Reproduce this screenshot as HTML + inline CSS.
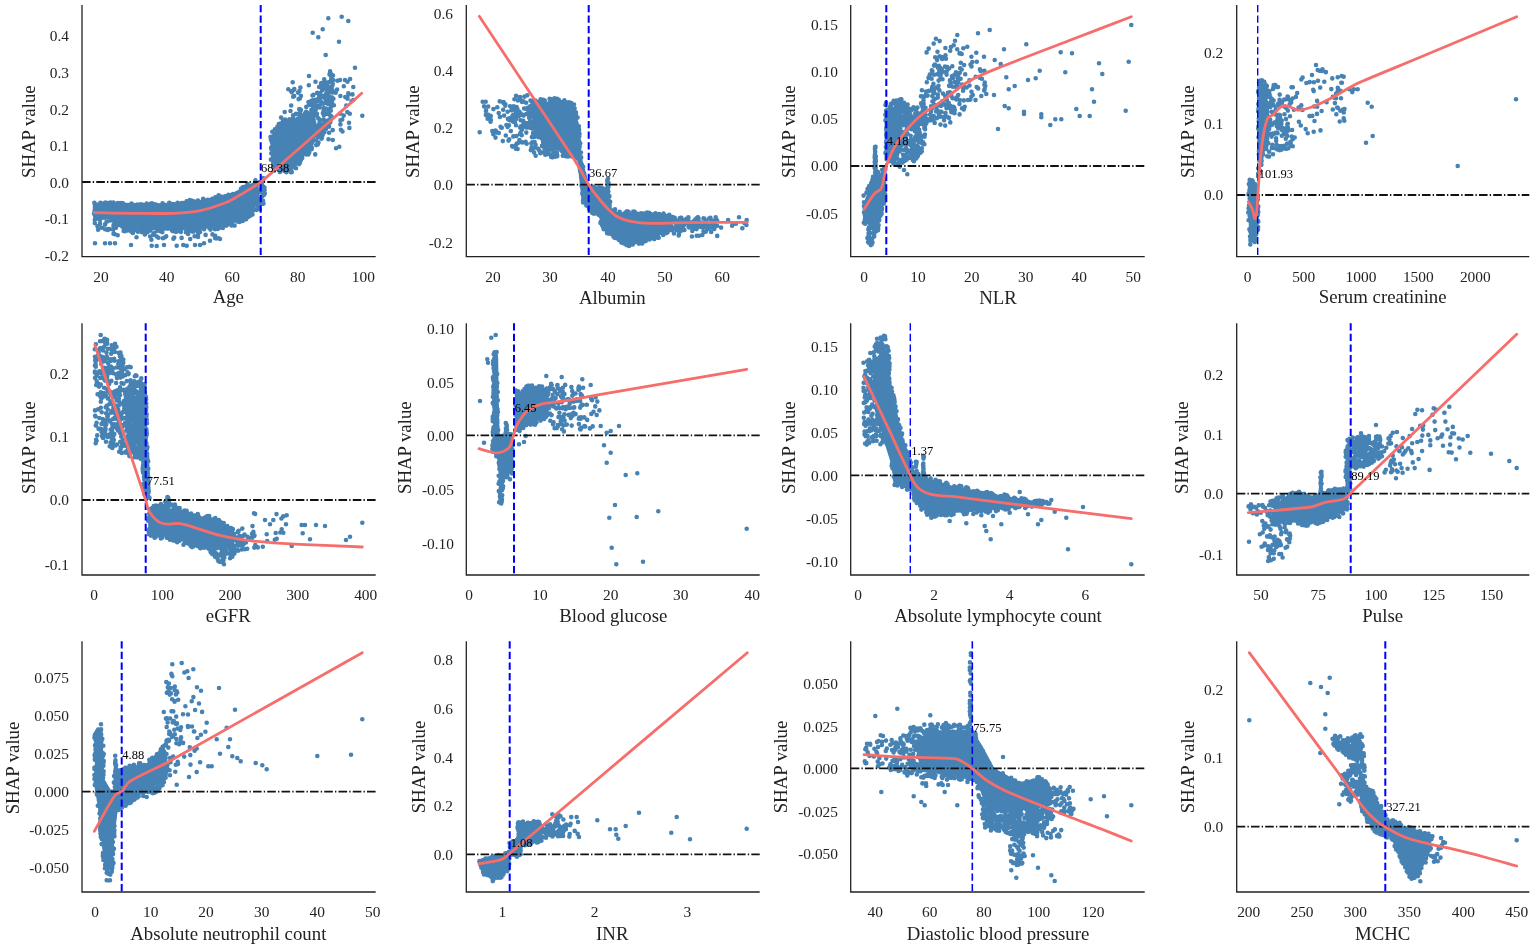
<!DOCTYPE html>
<html lang="en"><head><meta charset="utf-8"><title>SHAP dependence plots</title>
<style>html,body{margin:0;padding:0;background:#fff}svg{display:block}</style></head>
<body>
<svg width="1535" height="948" viewBox="0 0 1535 948" font-family="'Liberation Serif', serif">
<rect width="1535" height="948" fill="#fff"/>
<g>
<path d="M94.3 204 L166.7 204.7 L206.7 200.7 L233.3 194 L256.7 182.3 L258.3 198.3 L248.3 213.3 L233.3 221.7 L200 228.3 L166.7 229.3 L133.3 228.3 L116 225 L114 216.7 L94.3 216Z" fill="#4682B4" stroke="#4682B4" stroke-width="3" stroke-linejoin="round"/>
<path d="M272 136.7 L283.3 124 L301.7 117.3 L310 120 L310 146.7 L292.7 168.3 L280 170.7 L272.7 167.7Z" fill="#4682B4" stroke="#4682B4" stroke-width="3" stroke-linejoin="round"/>
<path d="M227.3 214.2h0M174 206.7h0M261.9 184.5h0M261.2 204.1h0M172.9 216.6h0M165 226.2h0M174.1 222h0M123.7 215.8h0M143.5 220.2h0M200.1 226.6h0M243.2 193.5h0M172.3 204h0M263 178h0M118 213.2h0M245 212.1h0M225.2 203.6h0M128.1 225.3h0M223.5 225h0M254 190.6h0M190.1 209.8h0M121.9 204.1h0M256.9 203.1h0M161.7 227.9h0M218.5 212.1h0M120.7 219.5h0M252.5 209.8h0M122.4 204.2h0M198.8 211.5h0M226.4 206.5h0M168.9 203.6h0M228.5 223.4h0M163.3 219.9h0M246.6 214.5h0M105.2 215.9h0M242.6 221h0M130.2 222.5h0M254.3 209.4h0M187.3 228.1h0M200.3 217.2h0M212.5 219.4h0M127.1 210.5h0M147.2 227.4h0M255.5 204h0M143.4 212.8h0M142.5 219.4h0M235.4 202.1h0M132.3 222.8h0M220.5 221.6h0M240.9 218.9h0M118.3 203.7h0M169 205.3h0M214.7 215.2h0M215 229.3h0M231.9 219.9h0M166.5 223.2h0M108.5 213.8h0M157.7 220.2h0M208.1 199.9h0M213.3 218.1h0M170.4 226.9h0M242.5 218.6h0M216.1 221.5h0M138.9 219.2h0M98.5 218.7h0M133.6 231.1h0M179.6 230.9h0M144.1 230.5h0M244.5 188.8h0M100.9 213.5h0M186.6 201.2h0M180.8 231.9h0M178 229.9h0M240.3 212.1h0M113.5 202.6h0M206.6 214.9h0M177.4 227.5h0M131.4 205.7h0M216.6 214.1h0M115.9 216.8h0M204.1 229.2h0M188.7 201.3h0M190 202.4h0M152.7 217.3h0M249.3 198h0M249.5 211.7h0M155.1 213.3h0M191.4 212.8h0M202.4 211.8h0M263.5 203.6h0M131.7 217.6h0M141.7 232.1h0M225.4 222h0M167.9 208.1h0M198.3 224.5h0M139.5 209.9h0M200 232.1h0M215.5 221.7h0M229.3 197.7h0M220.4 209.1h0M156.7 205.9h0M183.9 222.8h0M240.3 199.9h0M238.2 205.6h0M178.7 204h0M126.9 224.4h0M224.5 222.3h0M229.7 222.4h0M126.1 214.8h0M144.9 230.9h0M263.1 179.9h0M131.9 217.6h0M153.2 227.2h0M150.6 216.6h0M100.4 202.8h0M144.1 217.6h0M171.2 215.3h0M102 206.8h0M217.9 204.3h0M122.3 215.7h0M244 199.4h0M141.9 217.6h0M254 208.7h0M115.9 205.1h0M105.4 202.6h0M206.3 212h0M173 219h0M217 227.8h0M261.7 182.6h0M130.3 224.6h0M166.8 219.1h0M188.5 224.9h0M210.1 227.6h0M192.6 205.5h0M184.2 221.4h0M133.3 229.8h0M246 193.6h0M110.9 202.5h0M162.2 225.7h0M228.6 214.9h0M148 219.9h0M171.4 205.7h0M169.5 220.2h0M132.9 205.4h0M236.1 208.3h0M100 206.4h0M217.1 206.5h0M188.2 220.9h0M170.6 203.8h0M98.8 204.7h0M174.7 222.2h0M112.1 212.2h0M245.5 187.1h0M106.6 203.2h0M192.7 223.1h0M228.2 219.4h0M201.2 223.8h0M241.7 217.4h0M123.9 204.3h0M210.1 201h0M202.1 208.3h0M218.4 215.3h0M141.6 206.4h0M155.9 204.6h0M124.1 208.8h0M218.5 223.9h0M186.6 219.3h0M264.1 189.3h0M187.7 204.6h0M263 200.8h0M242.6 187.4h0M147.9 223h0M258.3 206.9h0M121.6 220.7h0M213.1 204.9h0M185.8 227.3h0M164.3 220.6h0M160.3 231.2h0M181.4 226.5h0M124.6 212.9h0M255.1 199.3h0M169.2 202.9h0M162.3 232.1h0M230.6 223.8h0M264.8 193.5h0M221.8 204.1h0M218.1 217.4h0M113.4 217.4h0M245.6 210.1h0M120.9 210.1h0M181.7 228.6h0M242.2 196.3h0M194.9 229.2h0M240.8 209.6h0M104.9 214.5h0M192.2 224.4h0M197.9 200.6h0M256.3 209.9h0M191.2 204.6h0M253.3 207h0M177.6 220.4h0M205.9 220.4h0M99.7 204.8h0M235.5 199.7h0M100.5 218.5h0M181.5 224.8h0M247.5 184.1h0M252.5 214.4h0M250 214.9h0M138.4 224.7h0M209.1 208.6h0M214.4 227.5h0M243.2 188.8h0M147.9 217.4h0M157.5 209.9h0M245.5 188.3h0M149.5 225.2h0M230 211.3h0M138.8 218.2h0M247.7 214.5h0M245.9 217.2h0M155.7 204.9h0M235.9 197.1h0M120.6 206.1h0M150.4 218.2h0M249.2 194.3h0M131.2 229.1h0M142.1 231.5h0M170.6 214.8h0M255.6 190.1h0M122.7 207.9h0M100.7 203h0M106.5 213.4h0M256.8 191.6h0M192.8 201h0M192.7 218.4h0M227.4 197.1h0M188 212h0M154.9 216.5h0M207.2 200.1h0M195.5 230h0M254.1 209.3h0M158.3 219.4h0M163.9 221.7h0M115.8 218.2h0M115 213.9h0M134.2 213.5h0M142 208.9h0M244.7 186.9h0M205.8 207.4h0M250.3 201.9h0M151.7 207.4h0M241 188.7h0M153.5 218.7h0M182.2 205.5h0M191.1 228h0M259.9 199.1h0M211 216h0M154.3 210.9h0M241.4 199.9h0M242.1 209.9h0M149.8 223.9h0M157.5 230.8h0M219 223.6h0M183.9 219.8h0M190.4 217.6h0M187 224h0M161.5 215.6h0M127.3 230.5h0M223.4 206.8h0M97.4 209.6h0M218.4 220h0M224.5 201.3h0M137.9 231.8h0M105.5 212.1h0M217.7 229h0M139.3 220.7h0M225.1 196.2h0M149.7 227.1h0M146.8 204.8h0M190.2 213.3h0M107.2 217.1h0M133.4 223.5h0M199.8 202.9h0M122.5 209.6h0M239.3 196.5h0M212 200.5h0M180.4 215h0M139.6 219.7h0M220.1 210.4h0M159.8 214.5h0M141.3 216.7h0M252.5 197.6h0M136.6 222.5h0M190.3 224.1h0M181.2 213.8h0M165.4 211.9h0M116 227.8h0M151.9 203.2h0M232.9 214.6h0M124 227.6h0M190.2 220h0M240 209.4h0M219 227.9h0M149.1 213.8h0M197.7 210.6h0M155.8 207.8h0M234 207.5h0M121 208.9h0M249.8 190.1h0M176 231.9h0M257.1 194.9h0M223.7 220.7h0M114.5 205.4h0M179.5 229.3h0M106.9 214.2h0M176.7 220.9h0M187.5 214.4h0M128.2 211h0M193.1 231.7h0M203.1 198.9h0M200.7 208.5h0M130.5 211.4h0M159 228.7h0M173.1 231.3h0M231.8 223.6h0M239.2 211.5h0M167.5 205.2h0M230.7 203.6h0M189.5 202.3h0M169.8 209.1h0M198.6 225.7h0M99.3 217h0M172.8 222.1h0M98.3 213h0M140.8 226.2h0M134.3 228.9h0M131.3 226.5h0M204.3 211.3h0M94.8 210.4h0M117.9 203.1h0M118.8 209.4h0M244.2 214h0M237.3 221.4h0M94.4 202.8h0M132.2 227.4h0M248 217.1h0M181.9 213.5h0M188.1 219.7h0M238.5 205.4h0M248.9 188.8h0M158.6 210h0M235 208.6h0M207.7 212.3h0M238.4 217.6h0M177.6 205.8h0M240 201.1h0M202.4 219.2h0M162.5 203.4h0M148.6 214.7h0M211.4 202.2h0M121.2 203h0M204.3 223.3h0M203.8 210.1h0M131.2 229.6h0M174.3 207.9h0M222 210.8h0M209.9 201h0M147.6 228.1h0M122.4 214.3h0M252.2 211.5h0M173.7 204.2h0M227 225h0M225.9 220.6h0M262.4 196.2h0M159.8 219h0M216.5 220.5h0M239.5 221.9h0M121.3 205.2h0M153.5 222.3h0M154.5 210.5h0M116.1 220.2h0M142 208.9h0M148.2 224.1h0M140.8 210h0M132 224.9h0M219.9 215.3h0M213 202.4h0M185.9 232.2h0M185.9 228.7h0M192.9 212.3h0M231.5 211.3h0M131.6 203.5h0M231.4 210.8h0M135.8 226.7h0M234.6 225.6h0M250.5 215.5h0M129.9 204.9h0M227.5 219.6h0M235.2 198h0M108.5 215.1h0M226.3 223.7h0M210.5 229.6h0M140 216.2h0M102.7 207.1h0M246.1 195.8h0M201.8 218.2h0M228 199.2h0M141.5 210.4h0M178.8 224.7h0M248.8 209.8h0M197.2 230.4h0M110.6 207.9h0M226.4 211.2h0M181.3 214.9h0M199.5 213.4h0M195.3 212.2h0M118.9 219.3h0M186.4 217.3h0M170.8 217.5h0M164.1 227.8h0M117.7 225h0M189.9 205h0M243.5 203.6h0M220.3 225.9h0M132.4 209.2h0M107.9 210.9h0M254.9 193.6h0M220.6 214.3h0M173.1 220.8h0M200.9 205.4h0M248.5 189.9h0M175.8 218.6h0M106.5 212.7h0M130.1 228.7h0M240.8 199.5h0M189.8 231.2h0M252.5 196.5h0M222.8 227.9h0M175.4 214.6h0M260.8 188.4h0M106.9 216.2h0M178.5 220.4h0M190.6 221.1h0M194.6 220.2h0M139.5 216.2h0M197.6 203.3h0M222.4 205.4h0M179.3 226.4h0M233.9 219.3h0M189.2 224.6h0M192.6 229.4h0M178.5 221.8h0M100 205.1h0M216.3 201.7h0M144.7 226.3h0M117.4 212.7h0M247.5 215.2h0M144.3 231.4h0M232.5 207.3h0M227.9 218.3h0M223.8 225h0M217.5 199.6h0M239.2 204.1h0M231.4 208.4h0M142.9 204.9h0M134.5 216h0M130.3 212.4h0M247.6 190.9h0M144.1 208.7h0M251.3 206.2h0M133.5 215.5h0M216.1 202.1h0M116.8 216.9h0M229.4 201.5h0M97.5 215.4h0M150.2 224.8h0M162.1 218.3h0M96.8 214.5h0M147.4 232.2h0M119.3 215.6h0M197.6 231.7h0M245.2 198.7h0M146.1 222.5h0M161.5 219.6h0M114.1 214h0M129.6 224.4h0M229.8 220.4h0M172.6 226.9h0M140.1 217.6h0M179.1 228.9h0M238.2 192.7h0M190 226.8h0M171.3 206.7h0M123.7 230.9h0M249.3 198.8h0M216.3 199.5h0M264.6 190h0M226.3 225.6h0M252.9 191.4h0M231.5 225.4h0M244.5 212.3h0M159.2 219.3h0M141.6 205.2h0M210.9 214.2h0M242.6 218.9h0M129.8 230.5h0M213.3 202.3h0M135.7 225.8h0M232.7 209.9h0M248.9 203.7h0M178 228.8h0M256.1 197.9h0M198.1 219.7h0M199 220.7h0M137.6 219.4h0M158.5 218.7h0M255.1 193.7h0M257.4 184.2h0M250.2 191.1h0M137.4 219.4h0M247.7 198h0M226.8 196.7h0M129.2 228.6h0M140 228.1h0M143.5 212.6h0M94 213.5h0M150.7 203.7h0M144.3 219.4h0M251.9 187.3h0M250.9 205.1h0M216.1 219.9h0M209.3 222.6h0M224.9 205.4h0M128.4 214.8h0M228.7 219.4h0M249.3 216.2h0M250.1 200.3h0M154 216h0M262.7 192.6h0M129.7 206.5h0M118.4 205.3h0M249.7 214.2h0M189.2 228.9h0M214.5 216h0M189.5 222.5h0M251.3 206.9h0M263.1 193.8h0M109 216.9h0M187.2 202.1h0M173.4 226.1h0M119.1 203.2h0M140.3 204.7h0M251.7 197h0M183.4 220.3h0M175.5 212.1h0M141.6 230.6h0M234.9 202.5h0M118.6 218.3h0M247.9 214.1h0M119.3 216.3h0M225.5 221h0M153.6 225.6h0M173.6 206.4h0M223 219.4h0M137.3 208.8h0M217.2 209.3h0M137.9 224h0M101.7 212.6h0M181.8 222.6h0M154.3 204.3h0M114.9 215.2h0M237.7 221.2h0M140.7 230.7h0M119.8 208h0M99.5 215.7h0M188.5 212.1h0M124.8 231.2h0M197.6 222.7h0M238.8 220.3h0M188.9 207.8h0M214.8 219.1h0M179.7 204.3h0M216.7 221.2h0M205.6 215.2h0M206.2 226.3h0M104.2 217.8h0M98.7 205.8h0M163.6 218.4h0M260 192.1h0M115.1 211.2h0M145.4 220.7h0M221.4 218.3h0M122 209.2h0M129.5 214.2h0M172.1 230.7h0M207.6 210.4h0M164 204.6h0M209.2 202.9h0M259.3 208.2h0M132.5 213.3h0M215.4 197.3h0M129 224.9h0M125.4 222.8h0M126.9 229.7h0M220.6 201.4h0M259.7 182.3h0M260.9 200.4h0M163.4 225.9h0M151.6 204.6h0M130 218.4h0M189.9 200.1h0M251.8 193.2h0M230.3 210.7h0M200.4 209.2h0M137.6 204.5h0M259.8 209.2h0M145.9 216.4h0M138.9 213h0M140.9 204.3h0M187.2 212.8h0M264.5 187.6h0M186.7 228.9h0M246.1 219.3h0M97.1 209.5h0M229.6 202.1h0M221.8 221.1h0M181.2 221.8h0M128.4 207.1h0M217.9 197h0M150.4 228h0M246.5 217.4h0M202.5 220.5h0M210 220.3h0M118.9 203.5h0M134.7 224.7h0M128.8 214.6h0M208 214.1h0M186.7 205.3h0M214.7 217.6h0M181.4 226.9h0M261.9 185.4h0M111.6 216.3h0M122.4 226.8h0M191.9 202.7h0M230.4 195.9h0M220.9 196.5h0M197.5 211.4h0M219.8 197h0M125.1 218.9h0M167.4 213.2h0M164.9 224.8h0M168.2 205.2h0M156.6 223.2h0M182 210.3h0M148.9 229.7h0M249.9 197.8h0M231.2 208.5h0M133.2 231.4h0M177.6 202.8h0M198.3 229.3h0M245.6 206.3h0M258.2 204.7h0M98.7 211.5h0M261.6 200.5h0M184.8 207.2h0M241.6 212h0M123.7 206.3h0M258.4 203h0M133.2 223.1h0M254.8 204.6h0M258.6 199.8h0M248.5 185.5h0M168.6 216.8h0M234.1 201.2h0M240.8 200.7h0M235.4 202.7h0M228.1 214h0M228.9 223.1h0M208.4 204.2h0M115.8 205.3h0M243.5 220.1h0M100.3 204.1h0M255.9 194.6h0M211.4 203.5h0M250.7 212.6h0M235.4 209.1h0M177.4 231.1h0M237.2 212.5h0M145.7 218h0M115 209.5h0M109.4 202.9h0M123.8 206.7h0M222.1 198.3h0M179.6 206.5h0M153.4 227.4h0M127.5 228.5h0M179.7 205.7h0M103.5 208.8h0M103.2 205.8h0M219.7 207.7h0M136.6 216.4h0M130.8 213.1h0M210.6 210.9h0M183.3 203h0M100 218h0M210.2 217.6h0M206.2 218.6h0M176.9 222.3h0M146.7 203.6h0M245.1 189.1h0M199.1 227.9h0M221.6 225.6h0M246.2 199.5h0M219.9 213.3h0M116.8 219.6h0M264.2 194.7h0M254.1 195.9h0M156.6 209.1h0M209.9 207.7h0M226.8 214h0M171.2 222.1h0M127.8 216.5h0M239.3 202.9h0M103 203.7h0M121.4 217.4h0M203.7 220.9h0M218.2 196.4h0M161.6 231.8h0M160.4 229.8h0M115.2 217h0M166.1 220.1h0M207.2 206.5h0M247.3 197.5h0M182.3 207.3h0M120.6 216.6h0M168.2 217.2h0M255.9 200.3h0M223.7 219.7h0M129.9 208.1h0M105.9 208.3h0M137.2 211h0M250.7 186h0M153.2 224.6h0M218.6 195.2h0M233 194.1h0M148.7 207.1h0M259.2 204.2h0M209.5 228.3h0M214.6 198.2h0M131.5 208.5h0M241.9 220.2h0M243.8 202.8h0M117.8 212.8h0M255.4 180.3h0M109.7 205.8h0M181.8 203.1h0M178.7 222.8h0M222.8 199.3h0M255.9 188.8h0M125.7 205.5h0M200.1 216.4h0M169.9 219.8h0M168.8 218.7h0M229.9 223.3h0M119.6 203.3h0M225.2 209.2h0M263.1 186.6h0M199 214.5h0M190.7 200.4h0M122.9 203.4h0M172.8 222.6h0M144.3 220.1h0M155.8 219.7h0M222 200.7h0M245.3 214.8h0M203.9 228.9h0M124.5 211.6h0M131.4 231.7h0M229.2 195.1h0M198.6 226.5h0M255.3 192.4h0M100.1 211.3h0M150.4 230.6h0M197.1 205.6h0M201.8 207.9h0M135.9 222.8h0M262 189.4h0M215.2 199.2h0M210 226.5h0M199.6 229.1h0M255.5 187h0M233.7 204.2h0M194.9 201.9h0M192.1 223.6h0M228.5 194.7h0M218.4 217.8h0M130.4 219.1h0M212.2 198.9h0M130 212.4h0M182.3 217.9h0M105 224.7h0M97.5 226.2h0M110.7 220.4h0M107.1 221.5h0M94.8 223.1h0M99.9 219.9h0M109.6 229.1h0M107.7 229.9h0M113.4 225.8h0M98.1 229.7h0M105.1 229.2h0M113.9 224.3h0M100 223.6h0M94.8 219.8h0M106.6 221.8h0M114.3 220.5h0M105.1 224.4h0M108.1 229h0M113.2 229.7h0M115 225.9h0M101.7 227.7h0M95.3 218.6h0M132.9 232.9h0M188.1 234h0M158.5 237.7h0M144.9 234.5h0M117.7 235.2h0M153 235h0M150.1 236.5h0M136.5 237.3h0M114.6 234.1h0M181.6 237.9h0M197.9 235h0M215.2 235.7h0M215.1 238.1h0M198 237h0M212.5 234.4h0M156.9 236.6h0M216.2 238.5h0M154.4 233.1h0M190.2 239.1h0M166.2 236.2h0M173.4 238.8h0M153.7 233.8h0M163 238.2h0M165.1 237.3h0M174.2 237.6h0M113.5 233.7h0M151.4 239.8h0M194.6 236.2h0M205.6 234.9h0M218.8 238.2h0M283.6 162.7h0M286.9 167.3h0M310.7 145.8h0M305.6 147.5h0M272.3 158.9h0M300.6 155.3h0M297.6 126h0M306.4 142.2h0M304.4 127.3h0M290.3 160.9h0M273.3 158.7h0M271.3 153.3h0M305 140.7h0M288.4 153.1h0M311.7 149.1h0M286.5 166.1h0M295.9 148.9h0M297.4 126h0M311.8 147.7h0M301.2 115.2h0M272.3 131.8h0M297.6 133.4h0M275.1 164.8h0M283.3 128.1h0M301.6 128.5h0M290.9 172.3h0M278.3 162.1h0M283.9 152.9h0M281.8 127.3h0M311.1 128.9h0M301.5 126.4h0M300.8 159h0M289 131.7h0M299 164.1h0M284.5 161.2h0M279.9 171.9h0M293.2 117.7h0M273 151.2h0M272.9 150.4h0M293.7 135.3h0M276.7 134.6h0M274.3 154.7h0M298.4 125.7h0M280 164.6h0M276.2 156.3h0M282.9 162.9h0M272.3 147h0M296 168.2h0M297.7 138.3h0M309.2 120.8h0M310.4 145.5h0M300.6 160.4h0M273.2 159.4h0M301 159.7h0M293.4 121h0M282.8 134.4h0M298 144.5h0M283 159.9h0M292.2 148.4h0M287.9 150h0M286.3 151.9h0M302.9 146.7h0M293.8 163.9h0M294.8 161.4h0M285.3 150.3h0M299.3 145.7h0M279.9 132.9h0M286.6 145.6h0M302.2 148.3h0M289.6 155.6h0M276.3 148.2h0M300.7 152.6h0M296.5 161.7h0M301.2 138.5h0M291.7 139.8h0M273.7 152.3h0M273.8 140.4h0M302.7 124.1h0M284.9 135.6h0M300.1 157.6h0M294.9 142h0M278.1 145.2h0M278.5 130.9h0M300.3 149.5h0M305.3 132h0M297.3 126.7h0M275.4 166.3h0M274.9 129.2h0M291 157.7h0M305.1 141.5h0M282.1 131.4h0M289.2 130.3h0M277.4 167h0M289.3 156.9h0M287.2 155.4h0M281.9 160h0M298 147.1h0M290.1 130.6h0M279.4 158.9h0M294.3 166.5h0M282.6 148.7h0M306.1 128.1h0M273.5 143.1h0M292.6 130.1h0M296.7 121.2h0M292.1 137.9h0M294.5 121.2h0M271.6 153.6h0M278 156h0M281.8 162.5h0M287.8 127.9h0M285.8 144h0M293.1 161.9h0M271.8 141.9h0M277.4 165.1h0M310.5 143.4h0M306.9 146.6h0M270.9 139.5h0M307.4 152h0M289.1 152.5h0M272.4 145.9h0M273.9 144.9h0M301.9 120.3h0M286.7 150.5h0M299.6 142.7h0M289.8 142.7h0M310.1 134.5h0M274.2 167.9h0M280.6 123.6h0M311.3 135.6h0M300.6 120.4h0M283.9 165.6h0M298 122.3h0M287.9 170.2h0M288.9 124.6h0M291.4 147.4h0M311.5 138.7h0M271 136.9h0M281.8 137.4h0M276.2 139.8h0M279.9 139.4h0M292.9 140.4h0M282.6 136.9h0M284.4 142.4h0M303.1 117.8h0M278.3 155.2h0M308 121.4h0M297.4 151.6h0M281.3 157.7h0M285.5 171.1h0M285.6 128.6h0M298.4 133.7h0M295.1 138.6h0M271.1 147.9h0M305.4 136.4h0M293.7 122.4h0M308.4 150.4h0M298.3 131.8h0M281.5 139.1h0M270.9 159.6h0M311.3 124.8h0M274.1 159.9h0M299.3 162.1h0M274.9 137.7h0M306 137.4h0M292.7 141.6h0M308.7 117.9h0M280.3 139.3h0M280.8 141.9h0M302.9 138h0M306.3 132.6h0M289.7 152.7h0M298.3 125.8h0M290.7 164.3h0M299.4 142.8h0M304.5 121.1h0M273.8 149h0M274.1 170.8h0M308.3 152.6h0M287.3 154h0M292 156.2h0M299.8 142.2h0M287 165.7h0M275 163.3h0M297.9 157.5h0M280.7 165.7h0M298.1 137.3h0M297.5 143.2h0M286.4 137.5h0M291.2 165.2h0M308.3 154.4h0M290.2 133.1h0M303.5 120.8h0M274.3 150.4h0M271.4 149h0M275.1 142h0M309.2 152.5h0M291.8 172.1h0M275.6 167h0M292.7 162.3h0M301.1 120.2h0M277.7 147.5h0M279 148.2h0M304.2 115.4h0M286.3 172.2h0M281.4 142.9h0M301.7 135.1h0M295 135h0M296.8 159.1h0M277.8 131.6h0M280 134.9h0M278.9 146.8h0M292 145.4h0M302.2 158.1h0M298.1 118.5h0M294.8 123.5h0M302.8 144.9h0M295.9 131.5h0M285.8 164.3h0M277.4 126.9h0M296.3 137.6h0M293.8 160.6h0M286.9 144.5h0M283.1 152.8h0M309.9 126h0M273.8 158h0M295.5 137.7h0M293.5 147.9h0M282.5 138.3h0M310.8 148.3h0M284.2 124.8h0M299.8 163h0M297.8 150.8h0M300.1 151.9h0M310.9 126.2h0M288.6 161.2h0M289.6 168.7h0M287.6 159.3h0M275.2 152.9h0M294.3 156.2h0M289.2 131.5h0M275.2 144.7h0M288.7 169.8h0M285.2 119.6h0M299.6 117.2h0M280.7 165.2h0M290.9 145h0M270.5 137h0M284.5 171h0M300.7 159.9h0M287.8 130.7h0M306.5 119.5h0M311.1 137.9h0M289.6 132.2h0M289.5 119.2h0M307 127.1h0M280.6 156.2h0M294.1 142h0M305.5 151h0M279.6 152.3h0M280.9 154.3h0M289.6 133.4h0M297.1 159.5h0M301.9 126.5h0M295.3 126.3h0M304.4 148.7h0M294.1 151.2h0M282.9 160.6h0M281.6 132.8h0M280.5 138.3h0M281.5 152.2h0M293.3 131h0M299.2 158.1h0M301.2 152.9h0M278.8 124h0M304.1 147.1h0M290.5 125.4h0M287.2 147.9h0M282.8 132.8h0M274.4 168.6h0M288.3 146.8h0M287.4 121.4h0M279.8 159.7h0M307.7 150.1h0M287 151.3h0M296.7 149.2h0M289.7 122.5h0M305.7 147.6h0M305.9 122.6h0M286.5 146h0M292.2 162.8h0M283 121h0M293.1 161.4h0M303 147.6h0M288.7 147.1h0M297.2 135.5h0M284.2 158.4h0M288 156.6h0M306.3 154.4h0M276 138.6h0M312.8 136.7h0M313.4 109.1h0M321.8 137h0M324.4 84.4h0M322.8 88.5h0M312.5 95.5h0M320.7 85.8h0M325.9 128.9h0M321 83.3h0M321.3 103.5h0M309 117.4h0M324.1 120.7h0M323.8 115.2h0M311.9 125.6h0M305 113.2h0M308.8 103.2h0M331.3 76.2h0M322.1 90.5h0M321.8 83h0M313.8 121.6h0M333.6 105.3h0M311.2 123.4h0M321.6 95.9h0M314 130.9h0M331 80.9h0M309.8 105h0M326.1 102.7h0M321.4 124.6h0M313.6 119.7h0M326.3 83.8h0M316.7 115.8h0M326.7 90.7h0M325.2 86.8h0M320.1 132h0M315.8 101.9h0M311.3 110h0M313.6 121.5h0M306.3 106.9h0M328.8 88.7h0M333 75.6h0M332.8 84h0M323.4 103.6h0M330.1 71.2h0M325.6 99.8h0M319.7 125.9h0M318.1 99h0M313.4 94.9h0M324.2 79.2h0M329.5 74.6h0M318.1 137h0M319.7 120.7h0M318.3 128.6h0M327.8 94h0M314.8 134.9h0M329.9 92.4h0M310.9 101.7h0M317.8 106.6h0M310.6 126.8h0M324.5 97h0M324.5 97.9h0M320.8 124.4h0M311.8 128.8h0M326.2 87.4h0M319.5 133.3h0M332 75h0M327.9 120.6h0M319.3 123.7h0M310.7 102.1h0M328.2 88.6h0M314.3 123.5h0M310.2 115.8h0M330.3 122.2h0M321.4 138.6h0M324 108.1h0M325.2 97.7h0M333.1 80.1h0M314.7 101.9h0M306.1 111.9h0M333.9 105.3h0M317.8 144.4h0M320.8 97.3h0M311.1 113.5h0M324.9 83.2h0M328.8 91.9h0M329 82h0M310.6 146.9h0M324.7 84.8h0M318 99.8h0M312.4 109.8h0M330.6 73.3h0M314.9 126.9h0M328.7 87h0M315.7 130.7h0M315 109.7h0M332.6 90.6h0M326.6 86.7h0M325.7 114h0M318.6 129.6h0M316.9 113.7h0M319.6 98.9h0M308.1 116.6h0M316.6 105.5h0M332.5 92.5h0M315.2 105.9h0M325.7 113.2h0M313.4 115.5h0M321.6 87.2h0M324.2 127.7h0M313.4 114.3h0M308.4 102h0M328.7 123.4h0M315.2 99.9h0M318.5 142.6h0M318 129.1h0M314.7 112.1h0M315.5 126.1h0M329.9 72.9h0M310.4 142.1h0M317.8 100.6h0M328.6 99.4h0M324.1 95.9h0M324.4 124h0M330.8 110.8h0M307.4 112.8h0M329 92.4h0M311.1 135.1h0M322.6 134.9h0M325.6 98.9h0M330.8 100.2h0M318.3 118.4h0M316.2 145.1h0M326.2 93.8h0M327.1 95.1h0M323.6 110.9h0M331.4 81.4h0M320.4 86.9h0M324 129.5h0M333.4 98.8h0M312.6 100.5h0M319.4 93.4h0M329.1 114.6h0M331.7 104.9h0M310.7 143.4h0M315.9 129.7h0M323.7 131.7h0M328.5 91.2h0M324.5 97.4h0M309.9 120h0M319.8 107.5h0M322.2 125.2h0M315.8 109.8h0M312.3 119.8h0M319 97.7h0M332 102.3h0M328.1 91.3h0M321.7 138.6h0M332.2 81.1h0M312.9 139.2h0M328 103.9h0M330.2 120.7h0M316.8 126.3h0M324.4 132.2h0M319.5 123.3h0M311.7 143.6h0M326.6 108.7h0M313 107.6h0M329.1 126.6h0M329.5 87.7h0M320.7 129.9h0M311.9 135.3h0M324.5 80.8h0M322.2 130h0M325.8 125.3h0M322.9 113.2h0M316.6 126.2h0M328.6 110.1h0M320.1 93.7h0M315.4 130h0M328.1 89.9h0M324.9 87.2h0M328.2 94h0M330.8 97.2h0M314.9 106.4h0M331.6 88.2h0M323.7 119.6h0M319.2 95.8h0M330.5 118.5h0M326.7 82.9h0M327.6 88.8h0M311.4 100.8h0M321.7 135.2h0M309.9 122.2h0M313.9 140.6h0M322.4 83.9h0M332.2 97.6h0M321.9 138h0M320.9 101.7h0M330.7 87h0M306.5 117.3h0M325 114h0M311.9 104.7h0M311.5 113h0M320.5 104h0M327.6 96.5h0M331.3 78.3h0M332.2 86h0M319.1 87h0M329.4 112.2h0M327.8 86.3h0M316.4 140.4h0M306.6 116.5h0M324.6 120.9h0M314.9 135.6h0M322.8 126h0M312.5 124.3h0M313.4 114.8h0M325.8 98h0M312.5 132.8h0M318.5 135.4h0M312.8 135.7h0M328 95.6h0M313 117.1h0M312.8 100.2h0M330.4 115.8h0M326.4 122.5h0M312.8 132.7h0M316.6 101.2h0M330.9 107.1h0M317.2 92.9h0M319.5 119.5h0M298 92.6h0M308.8 85.3h0M294.3 89h0M299.4 90.9h0M298.9 113.7h0M291.2 91.3h0M315.5 81.7h0M284.7 112h0M291.2 105.5h0M300.9 110.1h0M299.8 98.6h0M299.9 112.8h0M293.7 90.1h0M299.6 109h0M290.5 111h0M293.2 96.7h0M281.1 117.6h0M300.9 95.9h0M299.2 109.3h0M298.6 99.1h0M291.7 92.3h0M293.1 115.2h0M300.4 87.6h0M294.2 96.1h0M296 113.9h0M346.3 105.6h0M351.5 101.3h0M340.5 120.3h0M329.1 132.8h0M335.7 92.8h0M331.4 116.2h0M315.2 154.4h0M350.1 79h0M348.5 94.6h0M353.3 87h0M347.3 112.1h0M337.1 89.5h0M349.8 113.7h0M347.5 81.8h0M347.5 98.6h0M340.9 129.8h0M342.5 131.5h0M328.5 139.2h0M343.7 115.6h0M342.2 119.5h0M352.5 94.4h0M340.4 124.4h0M343.8 86.2h0M340.4 96h0M345.3 97.1h0M337.4 80.8h0M332.7 130.1h0M332.8 140h0M340.2 113.6h0M349.4 127.9h0M95 243.3h0M105 243.3h0M110 243.3h0M115 243.3h0M131 245h0M151.7 245.7h0M156.7 246h0M164 245h0M176.7 245.7h0M183.3 245h0M186.7 245.7h0M195 245h0M200 245h0M204 243.3h0M210 240.7h0M220 239h0M328.3 18.3h0M341.7 16.7h0M348.3 21h0M312.7 32.7h0M318.3 37.3h0M322.7 29.3h0M339 41.7h0M325.7 55h0M355 67.7h0M362.3 115.7h0M309 76h0M292.7 82.3h0M288.3 89.3h0M340 80h0M345 80h0M348.3 93.3h0M353.3 100h0M349 122.7h0M336 148.3h0M339.3 146.7h0" fill="none" stroke="#4682B4" stroke-width="4.6" stroke-linecap="round"/>
<path d="M82 182H375.7" stroke="#111" stroke-width="1.8" stroke-dasharray="8.6 2.15 1.35 2.15" fill="none"/>
<path d="M260.7 5V256.7" stroke="#0000ff" stroke-width="2.0" stroke-dasharray="7.25 3.3" fill="none"/>
<path d="M94.3 212.7C106.3 212.9 121.3 213.2 133.3 213.3C145.3 213.4 161.3 213.8 173.3 213.3C182.2 213 191.3 212.5 200 210.7C209 208.8 218.1 205.7 226.7 202.3C231.3 200.5 235.7 197.6 240 195C246.9 190.9 254.2 186.9 260.7 182C268.6 176 275.9 168.9 283.3 162.3C292.4 154.4 307.7 140.9 316.7 133C325.7 125.1 352.7 101.3 361.7 93.3" stroke="#F66E6C" stroke-width="2.8" fill="none" stroke-linecap="round" stroke-linejoin="round"/>
<path d="M82 5V256.7H375.7" stroke="#222" stroke-width="1.3" fill="none"/>
<text x="261" y="171.8" font-size="12.5" fill="#000">68.38</text>
<text x="69" y="41.2" font-size="15.4" text-anchor="end" fill="#222">0.4</text>
<text x="69" y="77.8" font-size="15.4" text-anchor="end" fill="#222">0.3</text>
<text x="69" y="114.5" font-size="15.4" text-anchor="end" fill="#222">0.2</text>
<text x="69" y="151.2" font-size="15.4" text-anchor="end" fill="#222">0.1</text>
<text x="69" y="187.5" font-size="15.4" text-anchor="end" fill="#222">0.0</text>
<text x="69" y="224.2" font-size="15.4" text-anchor="end" fill="#222">-0.1</text>
<text x="69" y="260.8" font-size="15.4" text-anchor="end" fill="#222">-0.2</text>
<text x="101" y="281.8" font-size="15.4" text-anchor="middle" fill="#222">20</text>
<text x="166.7" y="281.8" font-size="15.4" text-anchor="middle" fill="#222">40</text>
<text x="232.3" y="281.8" font-size="15.4" text-anchor="middle" fill="#222">60</text>
<text x="297.7" y="281.8" font-size="15.4" text-anchor="middle" fill="#222">80</text>
<text x="363.3" y="281.8" font-size="15.4" text-anchor="middle" fill="#222">100</text>
<text x="228.3" y="303.4" font-size="18.8" text-anchor="middle" fill="#222">Age</text>
<text transform="translate(34.5 131.7) rotate(-90)" font-size="18.8" text-anchor="middle" fill="#222">SHAP value</text>
</g>
<g>
<path d="M534 105 L557.3 101.7 L570.7 106.7 L577.3 123.3 L580 156.7 L588 186.7 L587.3 206.7 L583 200 L578.7 160 L570.7 150.7 L552.3 148.3 L540.7 138.3 L534 126.7Z" fill="#4682B4" stroke="#4682B4" stroke-width="3" stroke-linejoin="round"/>
<path d="M588 188.3 L606.7 188.3 L610.7 210 L617.3 213.3 L670.7 217.3 L670.7 228.3 L650.7 238.3 L624 240.7 L608 230 L599 215 L588 206.7Z" fill="#4682B4" stroke="#4682B4" stroke-width="3" stroke-linejoin="round"/>
<path d="M576.4 142.7h0M565.7 103.3h0M584.6 176.8h0M540.3 153.2h0M583 200.2h0M567.4 142.7h0M552.7 131.6h0M539 101.6h0M581.7 164.9h0M575.2 119.9h0M585.1 190.9h0M542.2 101.9h0M551.3 117.8h0M531.5 107.5h0M560.3 137.4h0M536.8 111.1h0M542.5 110.5h0M565.9 156.2h0M548.9 140.9h0M576.3 125.7h0M582.3 193.8h0M532.8 110.3h0M557.2 156.3h0M563.7 111.2h0M576.2 153.1h0M532.8 124.3h0M555.7 113.2h0M532.8 128.7h0M566.2 147.3h0M558.2 126.1h0M555.3 111.6h0M570.6 121.3h0M575.6 151.1h0M539.1 115.1h0M561.7 128.6h0M561.8 131.2h0M565.3 138.8h0M556 141.9h0M564.9 121.9h0M573.5 136.7h0M536.5 103h0M554.4 120.1h0M554.5 120.4h0M574.1 110.9h0M568.9 142.4h0M555.8 104.6h0M531.8 109.2h0M566.3 105.3h0M531 112.6h0M573.7 116.4h0M583 172.4h0M561 130h0M563 142.3h0M545 120h0M530.8 150.1h0M573.5 133h0M558.8 99.9h0M564.4 100.4h0M566.4 133h0M580.3 143.3h0M585.6 195.9h0M555.8 109.4h0M560.9 127.9h0M569 136.7h0M568.7 117.2h0M587.6 201.6h0M561.5 108.5h0M571.3 106h0M569 146.7h0M556.2 123h0M553.8 102.6h0M564.8 144.9h0M558.8 122.9h0M555.9 135.2h0M544.5 101.9h0M574.2 119h0M570.7 122h0M544.9 146.2h0M557.6 135.7h0M586 197.8h0M532.6 105.7h0M546.8 116h0M533.8 126.3h0M532.2 116.7h0M538.2 148.7h0M560.8 118.8h0M554 108.4h0M538.3 132.9h0M570.5 120.8h0M529.8 113.1h0M559.8 143.8h0M559.6 109.5h0M577.5 141.9h0M559.5 109.4h0M581.4 172.8h0M558 135.3h0M580.1 170.7h0M534.3 118.2h0M579.9 159h0M542.1 132.6h0M555.5 156.6h0M566.2 118.1h0M578.2 129.1h0M560.2 123h0M533.1 121.6h0M547.3 153h0M546 105.8h0M580.3 169.9h0M565.1 126.5h0M588.7 200.7h0M540.4 133.1h0M571.9 117.9h0M587.9 198.3h0M569.4 143.6h0M544.6 149.1h0M562.5 123.9h0M529.1 117.8h0M543.4 110.2h0M578.1 155.4h0M555.9 147.4h0M548.3 151.6h0M574.4 119.6h0M560.1 129.1h0M530.7 128h0M586.5 187.2h0M542.1 130.9h0M558.9 116.4h0M555.3 141.7h0M572.4 110.7h0M578.4 146.1h0M557 139.1h0M542.3 133.9h0M560 104.1h0M582.1 184.2h0M575.4 122h0M553.2 137.7h0M548.7 150h0M546.7 111.6h0M579.5 133.9h0M553 150.4h0M532.6 149.8h0M571.9 148.2h0M533.8 104.4h0M536.1 132.6h0M564.1 138.7h0M561 150h0M542.2 128.7h0M559.8 114.1h0M560.2 143.8h0M541.5 105.3h0M586.4 205.5h0M583.9 201.6h0M555.2 104.1h0M566 110.2h0M554.6 112.8h0M540.6 111.6h0M561 134.4h0M562.6 131h0M542.9 120.6h0M566.2 148.3h0M539 125.5h0M536.4 131.8h0M586.3 195.2h0M540.4 120.7h0M542 145.9h0M587.8 192.7h0M577.6 117.6h0M569.6 124.6h0M563.9 122.7h0M567.2 128h0M530.1 106.2h0M537.8 127.3h0M576.9 154.6h0M581.3 176.4h0M557.1 138.8h0M582.4 174.1h0M581.4 169.2h0M551.4 114.2h0M565.9 119.8h0M586.5 199.4h0M569 102.3h0M570.4 110.7h0M551 138.2h0M578.6 131.6h0M559.4 111.9h0M554.6 125.6h0M573.2 116.4h0M555.9 131.9h0M556.3 112.6h0M535.2 127.2h0M534.1 152.6h0M543.1 99.8h0M533.2 115.2h0M562.7 105.6h0M565.6 130.9h0M550 136.8h0M582.2 174.4h0M579.7 167.7h0M531.9 111.7h0M583.4 178h0M567.5 132.3h0M568.3 106.4h0M563.9 139h0M549.6 144.6h0M555.8 99h0M539.6 103.6h0M580.1 168.2h0M533.4 115.8h0M565.8 140.7h0M539.2 114.1h0M548.4 150.1h0M532.3 112.6h0M578.9 140.6h0M552.4 131.5h0M539.2 131.8h0M539.7 115.5h0M533.1 133h0M565.4 114.8h0M558.6 133.3h0M557.7 108.7h0M534.9 114.3h0M529.2 123.7h0M545.1 137.3h0M546.3 121h0M557 116.1h0M565.3 106.1h0M551.2 125.1h0M549.4 105h0M537.9 110.9h0M552.9 112.7h0M565.7 141.3h0M534.8 147.6h0M578.1 149.9h0M542.8 115.3h0M552 156.3h0M564.4 143.9h0M532.8 108.4h0M530.5 100.5h0M564 117.8h0M552 148.3h0M567.1 145h0M550.2 101.4h0M557.9 99.6h0M578.9 126.6h0M536.9 133h0M565.5 135h0M570.7 144.7h0M571.2 103h0M562.9 119.6h0M566.6 129.2h0M533.8 117h0M576.5 146.7h0M533.1 124.4h0M565.6 129h0M579.3 146.9h0M581.1 177.1h0M583 182.3h0M560.9 136.5h0M560 143.8h0M557.3 110.7h0M540.8 117.2h0M536.5 107h0M565.8 114.3h0M575.5 158.6h0M529.2 116h0M545.3 154.8h0M575.2 154.6h0M567 134.2h0M533.6 116.8h0M567.2 148.6h0M532.7 103.3h0M567 143.8h0M572.9 130.9h0M541.6 131.8h0M575 132.2h0M554.3 103.5h0M535.3 136.6h0M545.5 131.8h0M566.9 143.6h0M551.7 108.1h0M562.2 119.8h0M575.8 157.8h0M576 114.2h0M562.1 151.3h0M572.5 139.1h0M533.3 137.1h0M568.1 120.3h0M544.9 146h0M555.4 101.8h0M563.8 112h0M538.5 115.2h0M570.6 113.1h0M539.9 127.1h0M586.6 192h0M572.8 141.3h0M549.5 154.1h0M535.6 110.7h0M547 116.1h0M553.1 124.5h0M550.5 130.4h0M581.6 185.8h0M553.3 154h0M580 169.3h0M542.2 126.9h0M562.9 155.2h0M553.4 130.8h0M546 138.2h0M531.1 100.8h0M570.3 150.2h0M557.2 125.8h0M552.2 157.3h0M571.5 104.5h0M547.9 151.2h0M567.5 135.4h0M539.7 128.2h0M543.4 134.2h0M588.6 185.7h0M576.7 136.8h0M533.1 102h0M553.3 113.4h0M554.6 117.1h0M572.5 107.7h0M544.7 140h0M532.4 102.8h0M546.6 135.6h0M568.1 156.4h0M566.2 136h0M572.9 112.9h0M572.7 130.3h0M570.2 120.5h0M571.5 109.8h0M545.2 119.3h0M536.9 112.4h0M549.8 135.4h0M555.3 108.3h0M538.9 109.3h0M543.6 152.5h0M539.4 150.5h0M579.7 146.5h0M547.4 141.8h0M551.6 107.6h0M545.8 153.5h0M544.8 100.6h0M551.2 137h0M547.1 118.9h0M577.1 152.6h0M568.4 138.5h0M563.7 134.6h0M535.6 144.9h0M553 157.1h0M543.3 142.7h0M573.9 145.1h0M581 152.6h0M567.8 153h0M574.8 130.7h0M557.1 98.7h0M559.8 137.4h0M553.4 118.2h0M576.8 153h0M556.8 152.2h0M575 144.3h0M553.2 112.5h0M542 115.4h0M545.1 128.7h0M568.5 134.7h0M566.7 152.6h0M582.9 175.6h0M539.2 133h0M566.3 102.4h0M578.3 157.4h0M574 104.6h0M547.7 154.1h0M582.3 166.5h0M570.9 138.2h0M553.7 101.2h0M586.4 203.2h0M530.1 121.1h0M568.6 140.9h0M561.7 104.7h0M568.1 136.8h0M569.4 125.1h0M587.2 194h0M557 146.1h0M566.5 151.4h0M572.6 121.5h0M581.2 157.4h0M559.2 113h0M568.1 136.1h0M578.5 139h0M572 156.4h0M579.3 136.2h0M553.4 151.5h0M569.6 125h0M559.4 133.6h0M531.6 147.2h0M582.4 186.2h0M543.3 112.9h0M534.6 142h0M577 126.5h0M554.5 98.4h0M543.4 115.3h0M547.2 127.4h0M531.3 143.3h0M546.6 119.7h0M577.1 139.6h0M532.5 136.6h0M554.5 134.5h0M540.6 133.2h0M538.7 137.2h0M554.9 137.2h0M542.9 112.9h0M558.6 142.7h0M579.1 149.2h0M543.7 122.7h0M550.1 121.6h0M574.6 108.3h0M550.5 123h0M575.8 123.6h0M553.5 124.1h0M538 133.7h0M557.5 125.9h0M575.8 142.8h0M536.4 131.2h0M553.5 108.1h0M550.4 126.4h0M560 132.8h0M571.9 137.2h0M539.9 106.4h0M563.3 151h0M582 165h0M584.2 173.3h0M586.6 188.4h0M579.1 129.8h0M543 141.2h0M579.3 133.6h0M538.5 149.6h0M562.6 117.2h0M564.8 137h0M548.2 124.3h0M537.1 119.7h0M551.4 101.9h0M531.7 110.6h0M548.6 148.6h0M551.3 149.2h0M575.9 112.2h0M578 130.6h0M589.1 186.7h0M545.1 107.4h0M551.7 99.3h0M533.3 108.8h0M553.4 135.7h0M563.7 130.8h0M567.7 133.5h0M538.5 133.6h0M564.8 103.6h0M581.5 175h0M584 193.2h0M549.6 98.8h0M576.5 150.6h0M565.3 154.5h0M550.7 122.6h0M562.8 155.7h0M583.1 202.4h0M571.1 105.8h0M540 151.7h0M538.5 104.5h0M550.5 116.7h0M546.1 152.4h0M566.1 141.5h0M549 143h0M566.7 148.2h0M557.2 112h0M567.1 107.8h0M552.2 140.6h0M556.3 124.4h0M547.5 148.5h0M555 138.2h0M535.8 111.3h0M585.3 181.7h0M571.5 140.3h0M562.1 102.1h0M578.9 126.4h0M552.3 157.1h0M557.2 154.9h0M530.3 114h0M583.2 183.2h0M565.8 119.8h0M561.3 119.6h0M537.3 130.6h0M583.2 166.7h0M567.1 147.8h0M551.2 157h0M565.4 133.5h0M540.6 99.4h0M565 107.9h0M535.2 100.5h0M548.6 146h0M549.2 128.7h0M587.2 199.3h0M561.9 116.9h0M576.9 140.1h0M533 106.4h0M575.8 128.5h0M540.6 127.2h0M531.9 137.1h0M533.3 110h0M566.8 148h0M568.1 135h0M552.3 132.5h0M556.8 133.4h0M562 125.9h0M540 122.1h0M532.3 142.3h0M572.1 112.7h0M555.2 126.2h0M584.9 194.3h0M557 103h0M541.6 103.4h0M575.8 146.2h0M579.3 145.1h0M486.1 110.5h0M485.9 114.9h0M493.4 109.1h0M520.1 97.1h0M525.4 126.6h0M513 121.6h0M503.2 109.7h0M518.2 113.4h0M485.9 111h0M499.7 101.3h0M520.6 120.3h0M512.4 146.6h0M516 112h0M516 125.3h0M505.3 105.6h0M516.2 144.7h0M508.5 140.6h0M504.1 115.6h0M528.6 110.7h0M519.4 140h0M526.1 102.8h0M501.8 127.8h0M509.2 139.2h0M484.1 106.4h0M492.3 131h0M499.9 101.5h0M495.4 130.5h0M490.5 121.8h0M514.3 117.1h0M515.9 148.7h0M520.1 127.5h0M517.6 149h0M525.4 142.4h0M503.7 103.2h0M523.4 101.4h0M498.8 133h0M525.9 125.4h0M498.7 113.1h0M526.2 127.5h0M516.1 95.9h0M513.7 120.5h0M482.7 101.8h0M499.9 116.9h0M524.5 96.6h0M487.6 118.7h0M493.8 131.9h0M488.3 114.7h0M517.7 110.4h0M500.6 126.7h0M490.9 120.1h0M526.2 114h0M509.2 120.1h0M523.6 115.6h0M527.3 95.2h0M505.4 104.2h0M521.5 129.8h0M497.3 107.2h0M507.6 126.9h0M488.2 106.5h0M505.8 135.5h0M524.1 108.5h0M516.9 143.5h0M495.5 137.6h0M496.2 131.2h0M516.9 116.2h0M511.5 110.2h0M516.4 136h0M510.1 106.3h0M510.6 120.3h0M522.6 114.7h0M528.3 107.6h0M503.6 102h0M521.7 135.3h0M502.8 141.1h0M490.8 116.1h0M512.1 146h0M496.7 132.5h0M522.1 101.9h0M506.4 125h0M501.4 127.8h0M508.9 125.3h0M526.9 125.2h0M520.4 99.3h0M522.6 115.2h0M518 100.4h0M512.6 108.2h0M516.1 118.9h0M522 129.7h0M524.9 125.7h0M527.4 127.4h0M519.4 111.9h0M526.7 143.8h0M520.6 113.3h0M517.4 109.1h0M514 109.6h0M510.8 131.1h0M527.1 109.3h0M513.7 106.2h0M516.6 107.1h0M509.5 118.4h0M528.7 112h0M526.3 132.6h0M513.3 136.4h0M513.4 115.1h0M514.4 99.2h0M507.9 118.9h0M523.3 120.9h0M512.5 115.7h0M521 126.4h0M520.6 132.7h0M515 122.2h0M527.9 123.1h0M513.2 118.4h0M521.4 127.2h0M525.6 141.8h0M507.6 111.7h0M522.3 142.4h0M518.5 142.8h0M525.5 123.1h0M520 134h0M525.9 108.6h0M513.3 114.7h0M518.8 116.1h0M522.9 125.1h0M521.7 129.6h0M604.8 190.3h0M646.9 239h0M653.6 231.2h0M668.5 229.8h0M599.5 215h0M643.7 222.2h0M622.9 226.8h0M619.7 212.1h0M625.4 219.6h0M658.4 228.9h0M603.4 227.6h0M666.3 216h0M607 231.9h0M653.9 220.6h0M601.9 224.6h0M632 222.7h0M630.8 236.2h0M634.3 212.7h0M590.7 206.8h0M588.9 200.4h0M643.9 215.7h0M610.8 219h0M638.8 241.1h0M590.4 202.3h0M646.5 239.2h0M602.6 200.4h0M625.9 242.3h0M667.2 219h0M638.7 227h0M625.7 228.1h0M646.6 219.5h0M658.7 237.8h0M643.8 222.8h0M606.1 219.3h0M655.3 227.4h0M614.4 223.9h0M618.8 224.5h0M659.2 214.1h0M652.6 232.8h0M633.1 218.3h0M663.3 228.5h0M593.1 186.7h0M607.1 233.2h0M606.1 194.7h0M607.7 198.1h0M604.5 197.5h0M600.6 190.6h0M603.6 210.1h0M609.4 196.3h0M669.9 220.6h0M613.7 235.2h0M588.6 187.2h0M653.9 238.3h0M616.6 237.7h0M643.9 237.7h0M630.6 232h0M591.8 212.2h0M592.3 206.7h0M622.4 227.9h0M669.6 226.8h0M642.2 243.5h0M640.9 226.5h0M642.2 229.6h0M614.6 233.6h0M600.5 222.9h0M654 222.6h0M643.8 223h0M634.2 213.7h0M614.3 236.6h0M647.7 214.3h0M656.3 236.4h0M605.7 224.8h0M668.7 217.7h0M631 229.2h0M606.8 201.9h0M597.3 202h0M617.9 226h0M663.6 213.5h0M640.2 223.8h0M637.6 230.3h0M606.1 195.1h0M627.2 221.9h0M588.4 201h0M628.9 227.9h0M589.8 196.4h0M601.8 206.8h0M670.7 223.5h0M657.7 237.8h0M640.4 237.5h0M661.6 215.3h0M657.7 227.8h0M602.7 205.4h0M588.8 191.8h0M639.8 217h0M588.1 204h0M591.7 192.4h0M627.1 225.3h0M606.1 225.3h0M649.4 239.4h0M588 195.9h0M621.4 242.6h0M630.7 216.1h0M624.6 243.4h0M645.5 226.8h0M624.8 226.7h0M607.9 222.9h0M590.6 187.5h0M655.8 237.3h0M592.8 211.5h0M605.2 229.1h0M605.5 227.3h0M634.1 235.2h0M603.5 190.9h0M657.3 222.3h0M609.9 210.7h0M632.7 241.1h0M617.5 232.5h0M608.5 208.7h0M650.5 229.7h0M617.9 216.6h0M636.7 220.6h0M614.5 237.8h0M608.1 202.5h0M593.1 196.7h0M631.9 223.7h0M605.6 198.1h0M606.8 207.2h0M652 216.9h0M593.4 212h0M619.5 237.5h0M634.6 218.2h0M640.4 220.2h0M660.5 219.6h0M590.5 191.2h0M641.5 235.4h0M628.6 211.9h0M617.9 223.8h0M644.4 225.8h0M661 217h0M615.4 223h0M615.4 217.5h0M609.5 204.4h0M606.7 226.3h0M653.5 214.7h0M590.8 207.1h0M598.5 214.8h0M632.9 214.2h0M609.1 207.9h0M615 209.4h0M653.5 238.4h0M648.5 232h0M610 224.3h0M671.4 226h0M606 203.7h0M592.6 196.3h0M634.2 226.4h0M596.6 188.9h0M600.1 193.4h0M596.2 201.2h0M667.3 218.4h0M592.9 190.7h0M588.1 192.1h0M645.7 240.9h0M647 212.5h0M649.7 225.6h0M611.1 231.4h0M638.3 222.6h0M659.9 215.8h0M609.3 216.2h0M589.9 208.9h0M647.5 220.3h0M666.6 232.1h0M596.1 205.5h0M650.1 233.9h0M658.4 222.6h0M650.1 232.3h0M605.7 206.3h0M646.1 237.1h0M596.2 193.6h0M599.1 187.8h0M604.6 210.3h0M641.2 236.3h0M603.6 224.4h0M603.4 202.3h0M608.8 195.7h0M636.6 225.7h0M662.7 216.2h0M636.2 222.7h0M650.1 235.3h0M595.3 192.7h0M626.6 217.6h0M602.1 188.4h0M592.5 213.1h0M638.8 243.6h0M642.6 234.7h0M602.7 219.2h0M605.7 201.2h0M642 223.9h0M623.3 223h0M645.8 230.5h0M654.3 239.1h0M588.3 189.4h0M601.2 194.1h0M640.4 228.2h0M651.3 221.7h0M635.2 227.8h0M602.8 226.5h0M604.7 209.9h0M603.9 215.7h0M633.7 212.1h0M651.8 224.6h0M632.1 236.6h0M634.7 211.8h0M604.3 219.3h0M649.1 212.7h0M627.2 229h0M666.6 229.3h0M599.1 200.4h0M624.4 239.1h0M610.2 201.7h0M612.3 227.7h0M616.5 224.9h0M592.7 194.8h0M660.3 220h0M595.7 206.7h0M627.6 221.3h0M642.6 221h0M640.9 236.3h0M616.6 230.8h0M590.6 193h0M627.7 218.4h0M635.5 242.1h0M626.2 244.4h0M645 234.7h0M604.7 215.7h0M633.9 229.9h0M640.7 237.1h0M638.2 218.3h0M656 236.2h0M632.6 214.6h0M626.1 235.4h0M662.5 219h0M629.7 217.5h0M617.4 227.4h0M670.7 226.5h0M591.3 207.6h0M591 203.4h0M606.7 216.5h0M608.1 233.5h0M604.6 195.2h0M597.8 207.9h0M635 228.7h0M616.6 238.3h0M603.1 197.5h0M604.6 212.7h0M608.9 206.2h0M619.5 220.6h0M613 210.8h0M637.5 220.5h0M615.6 226h0M611.8 229.2h0M612.2 221.4h0M623.6 222.2h0M627.5 237.6h0M646.8 234.2h0M626.5 211.8h0M593 190.3h0M652.5 231h0M619 225.5h0M594.9 192.7h0M594.5 210.2h0M624.2 239.8h0M607.6 188.8h0M657.8 221.7h0M629.1 214.5h0M640.7 221h0M600.5 210.9h0M607.1 223.1h0M609.5 211.3h0M635.3 236.4h0M653 215.9h0M620.8 223.4h0M637.3 213.7h0M605.6 208.2h0M600.5 191.1h0M654.8 220.8h0M593.4 190.6h0M627.1 211.4h0M660.1 222.2h0M651.3 217h0M626.5 233.8h0M663 218.2h0M629 233.4h0M641.4 231.6h0M608 220.7h0M603.9 228.4h0M611.3 220.8h0M644.5 218.6h0M614.1 228h0M620.6 219.9h0M596.6 190.3h0M608.3 199.3h0M643.1 213.6h0M663.7 218.6h0M621.3 235.8h0M604.8 204.4h0M661.1 229.1h0M660.4 217.8h0M635.3 216.1h0M668.1 227.8h0M650.1 237.7h0M620.3 218.7h0M632.9 224.4h0M608.4 225.9h0M654 223.8h0M619 235.4h0M594.8 213.5h0M646.2 229.4h0M603.8 194.8h0M616.2 217.9h0M619.2 232.2h0M662.8 227.5h0M623.9 219.6h0M670.8 216.6h0M636.7 223.3h0M653.5 214.6h0M666.5 233.1h0M647.9 230.3h0M660.9 225.4h0M624.8 229h0M633 224.5h0M644.6 224.1h0M620.9 222.5h0M610.4 227.9h0M667.3 230.6h0M635.4 239.8h0M663.7 231.9h0M594 188.3h0M602.3 225.6h0M662.5 221.9h0M643.8 241.2h0M623.7 234.1h0M622.6 235.5h0M605.4 225h0M619.6 211.7h0M670.3 229.7h0M652.4 237.4h0M657.3 223.5h0M653.1 233.1h0M637.2 216.4h0M599.5 195.6h0M607.6 207.3h0M668.2 223.4h0M644.7 226.2h0M659.1 218.6h0M588.3 187.5h0M657.2 214.3h0M624.1 243.5h0M607.9 196.9h0M655.7 228.4h0M630 243.1h0M597.9 198.6h0M604.4 206.7h0M596.3 211.3h0M590.8 207h0M596.2 190.8h0M612.8 210.6h0M595.6 205.9h0M606.4 197h0M592.7 209.4h0M641.7 225h0M624.9 241h0M588.2 197.1h0M607.2 210h0M642.2 233.7h0M591.7 209.6h0M639.1 242.1h0M651.3 230.1h0M665.2 224.1h0M608.6 213.8h0M613.2 214.3h0M595.8 209.5h0M633.9 235.4h0M625.4 236.9h0M620.9 229.9h0M659.2 232.2h0M623.5 234.9h0M630.6 244.8h0M632.3 228.8h0M620.9 229.5h0M640.3 238.9h0M647.3 213.4h0M629.5 225.2h0M608.1 206h0M640.2 236.5h0M590.6 203.5h0M606.4 188.9h0M640.9 213.4h0M650.1 238.6h0M600.6 193.6h0M642.8 219.5h0M632.3 233.7h0M603.6 229.1h0M613.8 214.3h0M670.5 226h0M646.6 216.2h0M620.5 230.7h0M605.4 213.1h0M657.4 235.3h0M629.1 222.4h0M606.1 195.4h0M670.7 224.5h0M632.3 223.6h0M589.4 207.1h0M626.8 217.4h0M652.7 219.3h0M639.3 231.8h0M632 242.2h0M598.9 204h0M594.3 202.3h0M611.7 215.5h0M610.5 233.8h0M610 213.4h0M663.6 218.4h0M603.1 195.6h0M610.9 215.4h0M603.4 226.9h0M664.6 232.8h0M648.7 224.7h0M639.5 240.2h0M649.2 229.7h0M597.1 194.5h0M622.7 233.6h0M648.3 231h0M618.3 236.9h0M643.8 241.4h0M596 190.3h0M644.8 223.3h0M613.4 236.4h0M665.7 219.7h0M607.3 224.4h0M608.2 191.8h0M614.3 234.8h0M630.3 243.1h0M652.1 219.3h0M600.2 199.5h0M647 217.9h0M632.7 244.5h0M596.4 192h0M636.3 215.5h0M669.2 214.7h0M630.5 214.4h0M604.7 224.8h0M595.7 196.1h0M643.7 217.1h0M663.2 235h0M589.1 189.4h0M663.3 224.6h0M622.2 239.4h0M591.8 191.3h0M616.7 226.9h0M629.2 224.9h0M607.1 208.5h0M665.7 225.9h0M666.3 230.6h0M610.7 212.6h0M619.1 240.1h0M634.8 226.4h0M638.3 232.6h0M603.7 225.3h0M651.2 214.3h0M637.6 236.1h0M645 235.9h0M632.6 234.2h0M623.9 238.1h0M626.5 227.8h0M606.8 189.8h0M620.3 239.6h0M621.6 222h0M593 204.2h0M655.5 213.2h0M595.8 210h0M608.2 232.7h0M607.5 187.7h0M633.3 211.6h0M588.4 195.6h0M613.1 225.9h0M650.4 217.3h0M619.3 237.7h0M602 219.6h0M671.4 230.1h0M603.3 211.2h0M647.9 215.1h0M631.1 225.6h0M648.8 213.3h0M628.2 229h0M656.3 226.2h0M600.8 221.7h0M630.7 238.6h0M590.4 189.8h0M629.1 237.7h0M613.5 232.2h0M594.8 210.9h0M648.5 213.6h0M615.4 230.5h0M644.6 232.6h0M606.1 228.7h0M636.7 240.8h0M639.3 234.4h0M599.7 189.8h0M590.7 198.5h0M611.2 232.5h0M664.3 226.7h0M654.3 215.6h0M621.4 224.2h0M648.2 234.5h0M663.4 222.7h0M625.2 212.7h0M607.4 228.3h0M632.4 239.7h0M629.2 223.3h0M593.8 213.6h0M645.4 213.6h0M606.6 215.1h0M614.9 223h0M653.8 232.8h0M596.8 209.9h0M633.2 223.1h0M589.1 209.1h0M645.1 237.3h0M595.8 188.4h0M646.4 225.2h0M653.8 226.9h0M656.7 230.1h0M643.8 213.9h0M651 231.9h0M648.9 214h0M625.5 231.9h0M608.1 218.4h0M604.4 219h0M599.5 202.7h0M648.1 213h0M645.2 217.9h0M603.8 228.1h0M651.1 223.7h0M625.3 232.7h0M658.6 225.7h0M608.4 225.9h0M664.3 215.9h0M617.7 235.4h0M650.7 234h0M606 203.4h0M663.4 223.7h0M607.4 206.4h0M667.6 232.3h0M595.5 190.3h0M642.7 235.7h0M607.5 214.7h0M632.4 227.7h0M658.4 223.7h0M684.4 230h0M706.1 222.4h0M680.3 224h0M691.8 223.6h0M676.4 225h0M698 217.4h0M679.7 218.2h0M684.7 221.2h0M672.6 229.8h0M697.2 226.3h0M675.1 228h0M709.2 218.6h0M702.5 223h0M697.8 217.3h0M682.8 221.4h0M685 219.8h0M678.3 221.8h0M703.5 218.4h0M697 225.3h0M686.5 218.9h0M690.8 225h0M694.3 226.4h0M705.7 220.6h0M679.9 222.3h0M678.1 229.7h0M677.3 228.5h0M693.6 221.2h0M674.2 219.6h0M714.3 224h0M688.5 221.1h0M673 221h0M671 222.1h0M671.4 227.1h0M676.2 224.4h0M693 229.3h0M695.7 225.9h0M683.2 228.8h0M687.7 223.3h0M710.4 217.9h0M679.5 230.8h0M704.2 218.6h0M682.8 227.5h0M714.9 225.3h0M711.8 225.1h0M703.7 227.1h0M681.9 229.1h0M696.5 229.1h0M684 224.9h0M674.7 219.5h0M704.4 226h0M673.8 228.8h0M714 226.6h0M676.4 221.3h0M681.6 230.6h0M680.8 217.7h0M715.7 217.3h0M693 223.3h0M705.4 224.7h0M682.1 227.4h0M691.4 226.6h0M694.9 228.5h0M688.4 217.7h0M672.9 229.5h0M674.7 217.8h0M671.9 228.5h0M670.7 218.4h0M689.7 225.4h0M702.9 227.2h0M713.3 225h0M678.2 222.9h0M693 226.4h0M696.5 218.4h0M709.2 227.9h0M676.3 222h0M717.1 220.2h0M677 230.3h0M681.3 217.9h0M698.6 218.5h0M672.5 227.9h0M713.4 220.7h0M676 227.1h0M672.6 217.1h0M711.2 227.4h0M676.2 220.5h0M697.9 221.1h0M672.3 228.4h0M670.7 229.9h0M688.5 226.7h0M695.3 219.5h0M712.1 221.2h0M706 227h0M714 222.4h0M688.3 217.2h0M692.1 222.2h0M701.7 227.3h0M711.4 225.6h0M689.3 227.5h0M679.4 226.2h0M712.4 221.6h0M713.9 224h0M707.4 225h0M673.2 221.2h0M679.1 227.9h0M682.1 220.9h0M707.5 225h0M700.1 222.4h0M700 226.7h0M717.1 225.7h0M700.6 222.7h0M679.3 225.6h0M691.9 236.5h0M678.7 235.5h0M674 233.5h0M717.2 235.9h0M703.5 231.6h0M705.9 231.6h0M711.2 232h0M696.7 235.8h0M703.8 232.3h0M714.3 228.9h0M742.4 228.3h0M732.1 225.7h0M746.4 225h0M721.1 227.6h0M733 223.3h0M728.1 220h0M744.4 223.1h0M735.9 223.7h0M607.8 205h0M607.5 195.5h0M607.8 209.3h0M608 178.8h0M607.4 184.1h0M608.3 191.3h0M607.9 206.3h0M608.5 182.9h0M607.5 194.5h0M607.3 180.2h0M607.6 205.1h0M607.4 181.4h0M607.8 195.7h0M608.4 187h0M608.3 191.8h0M607.8 184.6h0M608.2 203.4h0M607.4 198.4h0M607.6 193.1h0M608.5 200.2h0M607.8 204.4h0M608.2 200.5h0M607.6 199.6h0M607.9 189.9h0M608.1 199.5h0M479.7 132.3h0M485.7 101.7h0M489 117.7h0M493.3 134.3h0M535.7 155.7h0M679 234.3h0M692.3 231h0M702.3 235h0M699 235.7h0M707.3 229.3h0M739 217.3h0M742.3 228.3h0M746.7 220h0M629 246h0M626.7 245h0" fill="none" stroke="#4682B4" stroke-width="4.6" stroke-linecap="round"/>
<path d="M466.3 184.7H759.7" stroke="#111" stroke-width="1.8" stroke-dasharray="8.6 2.15 1.35 2.15" fill="none"/>
<path d="M588.7 5V256.7" stroke="#0000ff" stroke-width="2.0" stroke-dasharray="7.25 3.3" fill="none"/>
<path d="M479.3 16.3C486 26.3 520.7 78.7 527.3 88.7C534 98.7 567.1 148.6 573.7 158.7C576.3 162.8 578.9 167.1 581.3 171.3C583.9 175.9 586.2 180.8 589 185.2C591.6 189.3 594.6 193.2 597.7 197C601 201.2 604.5 205.5 608.3 209.3C611 212 614 214.9 617.3 216.7C621.4 218.9 626.1 220.4 630.7 221.3C637.2 222.6 644 223.2 650.7 223.3C661.7 223.6 673 222.8 684 222.7C696 222.5 735.3 222.4 747.3 222.3" stroke="#F66E6C" stroke-width="2.8" fill="none" stroke-linecap="round" stroke-linejoin="round"/>
<path d="M466.3 5V256.7H759.7" stroke="#222" stroke-width="1.3" fill="none"/>
<text x="589" y="176.5" font-size="12.5" fill="#000">36.67</text>
<text x="453" y="19.2" font-size="15.4" text-anchor="end" fill="#222">0.6</text>
<text x="453" y="76.2" font-size="15.4" text-anchor="end" fill="#222">0.4</text>
<text x="453" y="133.2" font-size="15.4" text-anchor="end" fill="#222">0.2</text>
<text x="453" y="189.8" font-size="15.4" text-anchor="end" fill="#222">0.0</text>
<text x="453" y="247.5" font-size="15.4" text-anchor="end" fill="#222">-0.2</text>
<text x="493" y="281.8" font-size="15.4" text-anchor="middle" fill="#222">20</text>
<text x="550" y="281.8" font-size="15.4" text-anchor="middle" fill="#222">30</text>
<text x="608" y="281.8" font-size="15.4" text-anchor="middle" fill="#222">40</text>
<text x="665" y="281.8" font-size="15.4" text-anchor="middle" fill="#222">50</text>
<text x="722.3" y="281.8" font-size="15.4" text-anchor="middle" fill="#222">60</text>
<text x="612.3" y="304.4" font-size="18.8" text-anchor="middle" fill="#222">Albumin</text>
<text transform="translate(418.5 131.7) rotate(-90)" font-size="18.8" text-anchor="middle" fill="#222">SHAP value</text>
</g>
<g>
<path d="M866.3 200 L874.7 180 L884.7 171.7 L884.7 200 L876.3 216.7 L868.7 223.3Z" fill="#4682B4" stroke="#4682B4" stroke-width="3" stroke-linejoin="round"/>
<path d="M886 110 L899.7 106.7 L901.3 146.7 L894.7 156.7 L886 160Z" fill="#4682B4" stroke="#4682B4" stroke-width="3" stroke-linejoin="round"/>
<path d="M874.8 200.1h0M874 216.3h0M877 222.8h0M868.3 229.2h0M872.6 211.5h0M878.2 226.7h0M866.9 203.7h0M869.5 238.1h0M882 208.3h0M873 189.6h0M880.9 174.7h0M879.1 217.8h0M871.9 241.2h0M876.7 179h0M872.5 242.4h0M875.4 229.9h0M883.6 173.3h0M872.7 205h0M874.2 233.2h0M884.2 174h0M880.7 185h0M873.7 179.1h0M882.9 197.9h0M884.1 168.8h0M869.4 242.5h0M871.6 223h0M865.9 207.3h0M872.6 200.2h0M876.5 174.6h0M876.3 190.7h0M864 212.3h0M878.8 190.7h0M878 230.3h0M872.2 238.4h0M865.2 223.7h0M877.4 191.5h0M875.1 196.8h0M880.3 215.7h0M881.2 180.8h0M872.1 187.4h0M867.1 214.4h0M880.2 201.2h0M878 190h0M868 208.3h0M868.6 233.1h0M872 211.6h0M869.2 186h0M872.9 203.5h0M870.2 220.1h0M873.8 193.5h0M866.2 212.6h0M872.7 203.5h0M872.3 180.3h0M873 176.7h0M884.8 168.2h0M870.4 191.2h0M867 211.8h0M866.6 202.4h0M882 195.6h0M869.4 222.2h0M874.5 217.6h0M884 191h0M877.6 188.5h0M870 197.2h0M868.2 207.1h0M884.6 185.5h0M876.5 197.2h0M864.7 213.9h0M869 227.3h0M867.4 238.1h0M876.8 186.6h0M864.7 222.5h0M864 202.3h0M864.5 222.9h0M879.5 182.6h0M866.5 192.6h0M866 206.5h0M882.2 169.8h0M877.7 223.9h0M874.1 233.1h0M872.9 209.4h0M876.1 189.4h0M878.1 191h0M874.6 197.2h0M881.9 209.8h0M875 218.2h0M870.6 227.9h0M866.7 204.9h0M884.4 173.4h0M865 218.7h0M882.8 195.5h0M876.1 220h0M884.1 187.6h0M877 207.7h0M871.1 183.2h0M863.6 195.6h0M884 203.2h0M883.9 199.1h0M877.2 216.2h0M871 225.1h0M870.8 245.1h0M864 206h0M869.5 211.2h0M868.8 218.9h0M869.3 214.6h0M874.9 182.3h0M877.8 171.9h0M882.8 204h0M872.4 223.7h0M873.5 176.7h0M876.3 218.3h0M868.9 235.1h0M878.8 179.7h0M878.3 199.4h0M865 215.4h0M874.6 219.8h0M874 177.6h0M872.1 233.2h0M876.3 231.1h0M881.1 214.5h0M873.5 191.9h0M869.1 219.9h0M884.5 189.7h0M876.5 206.8h0M874.4 205.1h0M876.4 178.1h0M873.2 221.5h0M868.5 193.6h0M883.2 176.2h0M877.6 227.7h0M869.1 230.8h0M883.6 175.7h0M864.4 207.6h0M870.5 207.1h0M874.3 203.9h0M878.2 228.8h0M869.6 196.8h0M876.3 196.9h0M873.2 178.2h0M881.5 210.8h0M876.8 215.6h0M875.6 203.6h0M882.7 180h0M884.1 179.7h0M872.4 215.4h0M880.4 196.5h0M876.7 189.4h0M876.2 190.7h0M875.4 203.9h0M868.5 222.2h0M868.1 242h0M874.2 234.2h0M882.7 185.6h0M882 180.3h0M884.1 191.7h0M877.8 213.3h0M878.3 181.9h0M884.3 188.7h0M879.9 209.7h0M879.2 220.3h0M873.9 225.8h0M877.3 214.1h0M881.5 191.9h0M866.9 221.3h0M875.1 214h0M869.2 209h0M876.2 183.3h0M884.1 171.7h0M866.3 203.6h0M885.2 194.2h0M878.3 191.7h0M872.6 186.6h0M864.9 215.2h0M884.4 169.9h0M877.6 188h0M872 225h0M871.9 191.9h0M874.2 192.2h0M879.3 179.5h0M880.3 200.8h0M874.6 219.4h0M881.4 181.4h0M875.2 204.2h0M882.7 171.4h0M863.8 222.7h0M871.6 244.5h0M878.6 225.1h0M883.6 199.5h0M873.1 224.2h0M883 203.6h0M867.2 210.2h0M883.1 201.6h0M883.8 176.1h0M874.4 216h0M864.8 220.3h0M871.2 205.9h0M869.7 188.7h0M874.3 212.2h0M872 219h0M874.6 220.3h0M867.3 207.7h0M866.6 213.9h0M872.5 196.1h0M880.4 214h0M875.1 184.8h0M865.2 211.7h0M881.6 213.8h0M871.3 209.4h0M874.3 187.7h0M876.9 220.1h0M875.4 217.6h0M880.1 181.2h0M874.2 236.4h0M882.2 189.7h0M874 229.3h0M867.6 188.9h0M866.3 219h0M869 203.7h0M870.9 224h0M865.2 216.9h0M868.8 242.7h0M871.7 212.6h0M876.3 207.3h0M870.9 195.3h0M877.9 196.3h0M879 185.4h0M871.6 182.7h0M871.4 183.9h0M882.1 192.3h0M868.5 235.5h0M909.8 156.6h0M897.8 111.3h0M886.4 128.2h0M921.3 113.3h0M889.9 122h0M901.5 137.8h0M908.4 120.4h0M894.4 115.6h0M901.2 104h0M906.9 118.6h0M894.2 162.9h0M885.5 120.4h0M920.2 117h0M914.1 124.9h0M918.9 123.5h0M889.4 129.7h0M903.9 106h0M907.3 150.7h0M888.1 125.8h0M907.5 133.7h0M912.5 118.3h0M916.7 157.3h0M924.5 136.8h0M917.4 116.4h0M892.7 161.8h0M890.3 107.4h0M891.4 113.5h0M887.7 112.8h0M893.4 136.8h0M919.6 120.4h0M900.4 118h0M889.1 161.1h0M909.8 157.7h0M916.2 158.5h0M904.2 110.1h0M909.9 151.4h0M903.2 125.3h0M912.9 141.3h0M897.5 104.2h0M909.7 144.3h0M900.4 160.3h0M893 128.5h0M889.3 152.9h0M887.8 158.2h0M924.3 128.1h0M913.4 155.1h0M885.4 114.7h0M903.3 111.2h0M903.1 154.8h0M903.2 132.4h0M914.7 138.7h0M915.9 136.1h0M923.2 110.3h0M901.4 119.8h0M923.1 143.9h0M901.8 123.9h0M908.9 118.8h0M921.1 120.3h0M915.6 131h0M905.9 144.8h0M898.3 103.3h0M906.7 116.7h0M895.8 103.9h0M906.1 123h0M904.7 123.4h0M908.6 113.4h0M905.1 118.2h0M913.4 153.7h0M894.3 124h0M917.8 146.5h0M909.5 143.9h0M924.9 134.5h0M890 116.5h0M913.5 160.6h0M920.9 119.3h0M916.5 154.1h0M893.1 121.3h0M899.3 127h0M905.8 137.2h0M910.6 110.2h0M912.1 152.8h0M895.7 129.8h0M915.3 137h0M892.2 115h0M918.6 148h0M890.9 147.7h0M917.4 140.6h0M886.2 134.9h0M888.5 125.6h0M897.1 154.8h0M899.6 99.7h0M909.5 108.8h0M901.6 140.3h0M914.6 144.8h0M904.7 106.4h0M905.9 141.2h0M896.7 110.3h0M896.6 104.3h0M907.5 121.8h0M914.9 131.2h0M915.2 113.5h0M912.2 156.5h0M899.7 149.4h0M898.6 115.2h0M898.7 150.2h0M905.6 119.8h0M914.1 146.2h0M912 144.4h0M916.7 138h0M915.7 136.7h0M889.3 153.8h0M895.9 109.5h0M906.2 132.3h0M903.7 111.9h0M908.6 123.3h0M901.3 119.3h0M912.9 139.8h0M904.3 115.6h0M906.8 153.8h0M917.3 125.8h0M908.8 113.9h0M905.3 119h0M920.8 119.6h0M905.8 133.9h0M887.6 146.9h0M911.3 126.1h0M918.1 155.4h0M896.5 158.8h0M895.8 104.9h0M895.4 135.4h0M896.8 110.5h0M915.8 158.2h0M916.3 111.4h0M912.9 159.4h0M886.4 134.9h0M912.2 122.2h0M906.8 149.7h0M905.6 115.4h0M924.4 144.2h0M914.9 140.1h0M922.6 107.3h0M885.5 115.1h0M891.6 115.2h0M911.3 152h0M902 118.1h0M902.4 121.8h0M899.1 145h0M910.9 139.4h0M905.9 113.1h0M905.2 117.8h0M897.1 125.5h0M902.3 159.9h0M904.5 156.3h0M907.2 150h0M917.3 156.7h0M915.9 124.6h0M886.5 130.1h0M886.5 135.7h0M914.3 127.6h0M891.2 157.4h0M914.2 157.3h0M911.3 129.2h0M915.7 109.7h0M905.7 157.8h0M896.5 100.6h0M892.2 103.4h0M905.3 142.4h0M887.4 118.8h0M919.7 132.9h0M914.7 147h0M917.5 107.6h0M887.6 121h0M892 133.7h0M894.3 127.9h0M900.9 143.2h0M898.8 133.9h0M899.7 151.5h0M893.7 160.8h0M885.5 152.9h0M906.8 126.2h0M919 123.5h0M890.8 111.7h0M903.2 111.8h0M903.9 149.9h0M899.8 109.3h0M916 136.2h0M895.7 149.4h0M900.6 160.3h0M887 157.6h0M918.8 138.1h0M917.6 114.4h0M894 112h0M917.9 122.4h0M885.9 147.1h0M903.5 108.9h0M886.6 115.3h0M893.3 163.5h0M899.8 111.1h0M907.9 110.3h0M905.7 117.7h0M897.7 136h0M903.1 103.8h0M890.7 156h0M900.3 124h0M892.4 157.9h0M890.4 143.1h0M895.9 112.2h0M912.5 146.4h0M922.7 124.1h0M887.8 109.7h0M918.7 151.9h0M897.4 127.9h0M919 136.1h0M899.6 148.6h0M921.7 123.9h0M913 143.6h0M915.1 123.7h0M885.5 105h0M900.2 148.8h0M916 146h0M898 147.6h0M910 152.3h0M891 151.9h0M901.9 103.5h0M892.8 146.5h0M925 126h0M897.9 163.2h0M907.9 141h0M896.4 152.8h0M912 147.7h0M914.2 118.3h0M887.7 130.7h0M917.8 113.2h0M899.8 114.4h0M890.1 135.5h0M905.3 117.4h0M916.9 133h0M900.6 99.4h0M906.4 113.3h0M920.3 139.2h0M887 150.9h0M910.5 121.8h0M921.9 105.2h0M913.5 143.1h0M890.2 106.4h0M906.5 115.3h0M902.7 136.3h0M914.5 152.8h0M917.4 152.2h0M886.1 110.8h0M903.9 159.1h0M921.8 151.2h0M889 125.3h0M906.2 107h0M895 132.7h0M910.7 135.8h0M921.2 141.6h0M910.9 116.5h0M901.6 121.1h0M906.8 159.6h0M902.9 134.1h0M892.3 149.6h0M907.6 104.6h0M921.4 140.9h0M913.2 154.9h0M905.4 121.1h0M894.9 134.4h0M891.7 145.7h0M921.7 113.3h0M904.5 161h0M905 111.5h0M917.3 153.8h0M916.8 149.8h0M889.3 161.3h0M893.1 139h0M917.2 134.4h0M912.3 148.6h0M896.1 148h0M915.4 148.7h0M905.8 105.3h0M913.5 107.4h0M918.1 150.7h0M890.9 117.6h0M913.7 117.2h0M893.7 119.1h0M904.5 143.5h0M910.3 114.6h0M915.3 114.1h0M905.7 142.2h0M895.5 119.3h0M893.7 100.8h0M918.9 142.2h0M893.7 139.7h0M908 128h0M906.1 120.8h0M908.7 157.8h0M902.6 162.6h0M899.1 148.7h0M891.1 103.9h0M891.6 150.3h0M891 105.2h0M911.5 110.1h0M894.2 132.7h0M906.5 107.8h0M906.1 159.1h0M894 137h0M886.1 113.5h0M886.8 136.8h0M887.6 110.8h0M922.9 115.4h0M907.2 122.4h0M918.7 150.8h0M906.1 148.4h0M909.5 115.1h0M901.4 99.4h0M889 124.7h0M917.7 127.3h0M901.9 144.9h0M904.5 117.3h0M911.5 151.2h0M890.2 161h0M913.9 140h0M919.8 136.5h0M923.5 100.4h0M925.1 129.3h0M889.1 110.5h0M916.5 118.1h0M919.7 134.7h0M886.1 102.9h0M922.3 113.8h0M921.8 148.2h0M891.2 135h0M886.1 142.3h0M916.2 138h0M891.3 133.6h0M897.4 158.6h0M903.7 157.5h0M919.6 141.9h0M910.8 144.6h0M914.8 147.9h0M891.7 141.5h0M921.7 135.7h0M924.2 135.7h0M899.9 138.7h0M918.4 150.6h0M904.1 117.9h0M900.4 129.2h0M889 118.5h0M921.4 119.5h0M918.4 124.8h0M920.7 152.6h0M918.4 153.7h0M894.2 117.7h0M923.2 142.4h0M890.6 139.5h0M910.8 150.5h0M895.3 158h0M900.4 162.7h0M909.8 144.6h0M898.6 123.8h0M906.6 129.9h0M904.1 102.9h0M916 149.2h0M912.8 160.1h0M913.5 154.7h0M901.8 104.1h0M911.4 143.4h0M887.7 150.1h0M890.4 121.7h0M894.3 128.7h0M886.5 116.8h0M910.3 128.6h0M901 117.7h0M915.5 138.9h0M920.6 138.9h0M919.2 129.8h0M905.3 154.8h0M913.9 161.2h0M902.9 108h0M922 143.2h0M942 102.1h0M925.2 116h0M954.6 110.3h0M943.3 117h0M934.4 104.9h0M931 111.7h0M934.7 122.9h0M932.4 71.2h0M937.8 88h0M962 108.3h0M924.6 112.9h0M963.8 109.4h0M939.4 90.4h0M959.6 114.4h0M942.5 79.2h0M940.4 116.8h0M950.6 108.9h0M950.3 105.9h0M945.2 96.1h0M931.6 78.8h0M924.7 96.4h0M946.7 71.2h0M931.8 70.2h0M954.8 110.1h0M931.9 89.2h0M941 105.9h0M935.1 98.8h0M950.5 82.5h0M946.7 107.6h0M947.2 67.1h0M934 65.6h0M934.9 64.5h0M963.8 100.4h0M953.1 111.9h0M946.5 108.3h0M936.8 118.3h0M957.1 88.4h0M951.9 76.4h0M948.7 103h0M947.9 92.9h0M947.2 104.4h0M945 66.6h0M941.7 69.2h0M956.3 99.4h0M958.2 82.1h0M940.5 124.6h0M952.9 75.7h0M956.8 97.7h0M953.1 77.9h0M921.7 96.4h0M933.5 120.6h0M926.8 82.3h0M959.5 103.9h0M926.1 91.6h0M930 114.5h0M954.5 113.2h0M938.6 80.6h0M937.8 97.6h0M939.9 116.3h0M952.3 66.3h0M943 71.8h0M959 78.2h0M945.5 113.1h0M949.1 85.7h0M932.2 87.1h0M940.3 67.9h0M921.9 90.2h0M949.9 80.4h0M931.1 106.4h0M927.2 119.1h0M950.3 122.4h0M937.8 67.6h0M941.5 72.8h0M940.1 68.4h0M949.2 85.9h0M949.9 92.3h0M934.4 93.1h0M923.8 119.3h0M944.4 104.2h0M943 93.6h0M926.2 123.4h0M956.6 97.6h0M925.5 107.7h0M944.1 120.3h0M952.7 77.5h0M951.6 96.5h0M937.2 74.3h0M930.1 74.3h0M940.5 75.3h0M951.3 112.1h0M938.5 85.8h0M934.1 74.8h0M928.5 77.9h0M931.5 116.2h0M945.2 125.6h0M937.5 105.1h0M956.2 87.1h0M922.7 110.9h0M952.8 76.1h0M937.7 111.7h0M932.4 101.5h0M932.3 96.1h0M933.1 91.6h0M920.9 96.3h0M930.4 114.7h0M957.7 78.6h0M951.3 95.6h0M933.5 100.5h0M929.8 120.4h0M936.6 108.9h0M928.9 90.9h0M952.8 86.8h0M954.6 82h0M924.6 121.3h0M945.3 99.6h0M958.4 74.4h0M933.1 92h0M934 90.4h0M953.3 106.7h0M931.1 118.2h0M963.3 88.3h0M929.6 75.2h0M929.9 77.7h0M926.4 123.2h0M955 74.7h0M938.8 115h0M938.3 111.4h0M925 112.3h0M939.1 73.4h0M930.2 120.1h0M952.6 98.3h0M933.7 116h0M958.2 95.1h0M949 117.9h0M937.8 94.7h0M922.6 113.2h0M950.5 83.9h0M932 108.4h0M963.1 90.7h0M939.3 71h0M923.7 103.9h0M945.3 105.3h0M921.1 103.4h0M947 116.8h0M954.2 107.6h0M938.8 65.8h0M936.5 87.5h0M946.9 100.1h0M938.9 74.5h0M946.6 74.6h0M923.1 96.7h0M956.4 83.4h0M957.6 85.6h0M925.7 95.1h0M939.5 103.7h0M942.2 101.2h0M949.1 68.4h0M936.1 111.5h0M933.4 83.9h0M957.2 86.4h0M938.8 104.9h0M940.5 77.1h0M924.7 120.4h0M925.6 115h0M927.6 95.6h0M955.9 72.4h0M952.6 112.3h0M939.5 74.6h0M940.6 111.7h0M941.4 111.9h0M953.7 45.2h0M962.1 84.6h0M950.2 50.7h0M945.9 58.8h0M964.1 86.7h0M933.7 43.6h0M972.8 95.1h0M957.2 49.2h0M960.6 78.7h0M986.3 94h0M969.5 85.5h0M950.9 47.1h0M945.4 48h0M984.7 89h0M928.7 48.6h0M959.8 53h0M970.3 99.6h0M971.4 96.6h0M937.1 60.1h0M958.5 73.4h0M981.9 78.8h0M976.7 87.1h0M980.6 70.9h0M975.7 76.8h0M971.5 66.4h0M980.1 78h0M960.8 62.7h0M937.5 51.8h0M955 40.8h0M969.4 80.4h0M963.3 48.2h0M984.2 90.4h0M941.8 57h0M939.4 56.4h0M984.4 70.9h0M966.6 87.5h0M961.1 53.7h0M972.3 62h0M961.7 54h0M965.2 74.2h0M971.4 56.8h0M976.8 61.8h0M935.2 57.2h0M959.5 53.5h0M961.7 69.5h0M945.5 55.4h0M942.1 59h0M978.1 88.4h0M964.1 65h0M935.9 38.7h0M975.5 100.1h0M984.8 82.6h0M970.5 64.5h0M971.5 91.7h0M960.2 68.2h0M979.9 69.2h0M926.6 52.4h0M984.4 84.7h0M959.8 72.8h0M939.7 41.1h0M874.9 149h0M875.5 159.7h0M875.2 155.1h0M875.6 156.3h0M874.8 158.3h0M875.1 151.2h0M874.7 167.6h0M875.6 170.5h0M875.6 164.6h0M875.4 157.6h0M874.7 156.7h0M875.6 146.8h0M875.8 160h0M875.1 168.1h0M875.7 167.5h0M875.6 164.8h0M875.4 171h0M875.1 155.3h0M875.5 156.1h0M875 147.1h0M875 157h0M875.2 157.6h0M875.3 157.7h0M875.4 146.8h0M875 164.5h0M875.1 165.1h0M874.8 156.7h0M875.1 172.6h0M874.7 161.9h0M875.3 168.4h0M875.8 161.6h0M875.7 161h0M875.7 170.1h0M875.4 167.1h0M875.8 156.2h0M874.9 154.8h0M874.9 156.8h0M875.4 147.9h0M874.9 162.2h0M875.6 158.1h0M875 158.7h0M875.9 172.8h0M875 148.9h0M875.2 151.9h0M874.7 168.1h0M957.3 35h0M978 33.3h0M989.7 30h0M967.3 46.7h0M976.3 52.7h0M984 56.7h0M994.7 60h0M1004 49.3h0M1026.3 44.3h0M1000.7 64h0M1006.3 77.3h0M1014.7 86h0M1008.7 89.3h0M994 95h0M1004.7 106h0M1008.7 108.3h0M1024 111.7h0M1024 114h0M1041.3 114.3h0M1041.3 117.3h0M998 129h0M1028 80h0M1035.7 78.3h0M1039.7 70.7h0M1060.7 52.3h0M1072 53.3h0M1065.3 72.3h0M1050.3 125h0M1055.3 119.3h0M1061.3 119.3h0M1076.3 109h0M1079.7 116h0M1089.7 116h0M1092 89.3h0M1094 101.7h0M1099 63.3h0M1102.3 74h0M1125.7 110.7h0M1128.7 61.7h0M1131.3 25h0M904 170h0M907.3 174.3h0M899.7 166.7h0M985.3 86h0M981.3 96h0M968 100h0M964.7 106.7h0M959.7 100h0" fill="none" stroke="#4682B4" stroke-width="4.6" stroke-linecap="round"/>
<path d="M850.7 166H1144.7" stroke="#111" stroke-width="1.8" stroke-dasharray="8.6 2.15 1.35 2.15" fill="none"/>
<path d="M886.3 5V256.7" stroke="#0000ff" stroke-width="2.0" stroke-dasharray="7.25 3.3" fill="none"/>
<path d="M864 209.3C867.5 204.1 870.6 198.2 874.7 193.3C876.4 191.2 880.1 190.8 881.3 188.3C883.6 183.8 883.5 178.3 884.7 173.3C885.5 170 886.1 166.5 887.3 163.3C889.4 157.7 891.6 151.8 894.7 146.7C898.5 140.2 903.2 134.1 908 128.3C912 123.6 916.5 118.9 921.3 115C927.5 110 934.9 106.3 941.3 101.7C950.3 95.3 958.5 87.2 968 81.7C978.4 75.6 990.2 71.2 1001.3 66.7C1012.4 62.1 1056.8 45.3 1068 41C1079.2 36.7 1120.1 21 1131.3 16.7" stroke="#F66E6C" stroke-width="2.8" fill="none" stroke-linecap="round" stroke-linejoin="round"/>
<path d="M850.7 5V256.7H1144.7" stroke="#222" stroke-width="1.3" fill="none"/>
<text x="886.7" y="144.8" font-size="12.5" fill="#000">4.18</text>
<text x="838" y="29.5" font-size="15.4" text-anchor="end" fill="#222">0.15</text>
<text x="838" y="76.8" font-size="15.4" text-anchor="end" fill="#222">0.10</text>
<text x="838" y="124.2" font-size="15.4" text-anchor="end" fill="#222">0.05</text>
<text x="838" y="171.2" font-size="15.4" text-anchor="end" fill="#222">0.00</text>
<text x="838" y="218.8" font-size="15.4" text-anchor="end" fill="#222">-0.05</text>
<text x="864" y="281.8" font-size="15.4" text-anchor="middle" fill="#222">0</text>
<text x="918" y="281.8" font-size="15.4" text-anchor="middle" fill="#222">10</text>
<text x="971.7" y="281.8" font-size="15.4" text-anchor="middle" fill="#222">20</text>
<text x="1025.7" y="281.8" font-size="15.4" text-anchor="middle" fill="#222">30</text>
<text x="1079.3" y="281.8" font-size="15.4" text-anchor="middle" fill="#222">40</text>
<text x="1133.3" y="281.8" font-size="15.4" text-anchor="middle" fill="#222">50</text>
<text x="998" y="304.4" font-size="18.8" text-anchor="middle" fill="#222">NLR</text>
<text transform="translate(794.9 131.7) rotate(-90)" font-size="18.8" text-anchor="middle" fill="#222">SHAP value</text>
</g>
<g>
<path d="M1250 191.7 L1257 191.7 L1257 230 L1253 241.7 L1250.3 233.3Z" fill="#4682B4" stroke="#4682B4" stroke-width="3" stroke-linejoin="round"/>
<path d="M1258.7 96.7 L1265.3 96.7 L1266.3 133.3 L1262.7 146.7 L1258.7 160Z" fill="#4682B4" stroke="#4682B4" stroke-width="3" stroke-linejoin="round"/>
<path d="M1253.1 203.6h0M1255.5 209.4h0M1252.7 181.1h0M1251.5 211.4h0M1252.7 185.3h0M1251 202.1h0M1257.3 227.6h0M1250.4 215.6h0M1248.6 194.8h0M1252.1 181.4h0M1250.5 239.6h0M1252 197.4h0M1250.6 208.1h0M1250 230.8h0M1252.7 231.2h0M1255.8 188.3h0M1249.4 229.3h0M1257 191.5h0M1256.9 193h0M1251.5 222.2h0M1249.5 213.7h0M1252.5 185.9h0M1248.6 208.3h0M1253.2 213.5h0M1248.7 208.4h0M1258.1 227h0M1251.3 226.1h0M1252.1 217.7h0M1255.3 210.4h0M1254.5 195.1h0M1253.2 233.5h0M1253 227h0M1253.9 203.3h0M1252.2 238.2h0M1257.7 199.7h0M1256.6 201.6h0M1253.5 183.3h0M1251.8 212.5h0M1255.8 240.2h0M1253.2 191.9h0M1251.9 184h0M1253.2 211.1h0M1250.8 231.7h0M1252.2 220.3h0M1249.5 205.5h0M1255.4 200.3h0M1256.1 214.1h0M1249.8 186.1h0M1248.6 220.3h0M1250.6 201.5h0M1252.9 224.8h0M1250.3 244.4h0M1257.2 222.4h0M1249.9 199.5h0M1250.6 195.5h0M1257.8 214.9h0M1257.2 200.6h0M1256.4 188.4h0M1249.7 215.3h0M1255.2 206h0M1256.5 201.1h0M1257.7 208.7h0M1256.7 227.9h0M1249.9 182.3h0M1252.2 232.5h0M1252.7 225.6h0M1250.5 240.8h0M1251.7 193.2h0M1248.7 193.5h0M1249.4 190.6h0M1256.8 202.6h0M1254.7 201.1h0M1257.8 196.6h0M1251 236.2h0M1252.9 232.7h0M1252.4 226.3h0M1249.1 205.2h0M1253.9 215.4h0M1251.8 205.6h0M1252.3 208.4h0M1257.3 211.6h0M1256.1 234.5h0M1252.2 206.4h0M1252.6 239.9h0M1254.1 214.8h0M1258.3 206.4h0M1254.3 214.5h0M1255.5 211.4h0M1255.9 196.6h0M1251.3 206.2h0M1257.5 228.9h0M1257.2 197.4h0M1252 184.2h0M1254 188.1h0M1251.6 204.6h0M1249.7 215.9h0M1255.1 229.7h0M1253.2 211.8h0M1252.4 200.1h0M1250.1 229.1h0M1256.3 202.1h0M1251.5 202.8h0M1257 222h0M1258.3 221.4h0M1257.3 196.3h0M1249.9 188.4h0M1250 236.5h0M1253.2 209h0M1256.4 204.8h0M1249.8 208.1h0M1254.4 235.1h0M1253.4 213.8h0M1258.3 212.1h0M1249.5 193.7h0M1256.8 193.3h0M1256.7 212.3h0M1256.1 216.2h0M1252.2 224.2h0M1249.9 193.4h0M1254.4 235.7h0M1251 181.8h0M1253.3 191.9h0M1254.9 184h0M1251.2 225.2h0M1252.8 204.5h0M1253.5 213h0M1252.4 208.7h0M1253.4 221.1h0M1251.6 234.7h0M1257.9 209.1h0M1249.7 198.8h0M1250.3 208.7h0M1252.1 196.9h0M1252.5 192.6h0M1257.8 199.3h0M1248.3 212.4h0M1254.4 221.6h0M1252.8 194.4h0M1256.9 187.7h0M1251.5 229.5h0M1257.6 227.5h0M1252.1 180.4h0M1249.7 179.9h0M1257.3 213.6h0M1251.6 197.3h0M1251.6 234.7h0M1250.9 188.7h0M1254.4 199.7h0M1253.4 222.3h0M1257.9 206.8h0M1254.8 241.9h0M1255.8 201.4h0M1252.7 211h0M1254.5 208.9h0M1248.9 184h0M1255.3 205.9h0M1250.3 202.8h0M1253 227.5h0M1252.2 233.3h0M1253.6 188.2h0M1251.4 210h0M1249.9 216.4h0M1251.2 200.5h0M1249.3 208.6h0M1255.3 238.5h0M1255.4 198.3h0M1255.9 201.7h0M1256 219.8h0M1250.3 204.4h0M1258 229.7h0M1258.9 173.8h0M1261.8 87.3h0M1264 119.6h0M1265.2 139.4h0M1264.2 135h0M1260.2 116.9h0M1264.5 106.5h0M1264.6 136.8h0M1259.1 137.3h0M1263.3 146.4h0M1263.4 118h0M1263 134.2h0M1266.4 107h0M1267.2 92.1h0M1266.1 97.6h0M1261.5 153.7h0M1258.8 154.4h0M1258.5 137.2h0M1258.8 109.2h0M1261.5 102.1h0M1265 92.8h0M1259.4 123.9h0M1260.6 96.3h0M1260.2 156.7h0M1266.8 130.3h0M1260 110h0M1260.8 126.7h0M1259.7 94.9h0M1265.4 141.3h0M1260.5 125.8h0M1258.1 91.9h0M1264.2 81.8h0M1263.8 105.1h0M1259.7 170.8h0M1259 98.6h0M1265.6 116.8h0M1265.7 114.4h0M1259.4 104.2h0M1268 126.2h0M1261.6 160.9h0M1260.3 87.5h0M1264.9 141.8h0M1263.9 144.8h0M1266.3 132.5h0M1262.5 149.7h0M1261.9 86.2h0M1263 149.1h0M1260.1 93.5h0M1264.7 92h0M1267.5 132.2h0M1263.1 138.1h0M1261.6 140h0M1262.7 109.9h0M1266.1 139.6h0M1260.6 126.6h0M1258.8 91.2h0M1260 131.7h0M1264.2 88.2h0M1264.1 131.5h0M1263.2 112.1h0M1260.4 80.6h0M1261.8 147.8h0M1267.4 121.2h0M1264.1 143.5h0M1259.4 119.4h0M1263.6 143.7h0M1259.1 94.8h0M1259.9 136.7h0M1260 88.5h0M1261.9 80.2h0M1266.9 122.2h0M1260.3 139.3h0M1261.2 159.5h0M1259.2 119.9h0M1258.7 121.2h0M1258.1 111.2h0M1262.4 147.1h0M1263.3 124.2h0M1259.8 96.4h0M1262.6 101.3h0M1259.7 93.5h0M1259.1 151.8h0M1265.8 115.1h0M1258.3 104.1h0M1267.2 111.9h0M1260 95.2h0M1260.9 112.1h0M1263.3 149.7h0M1258.9 173.7h0M1259.1 86.9h0M1264.4 89.2h0M1258.6 90.3h0M1265.2 127.8h0M1258.7 103.8h0M1263.8 111h0M1264.9 116.1h0M1263.1 136.3h0M1262.2 105.9h0M1261.2 161.3h0M1259 82.5h0M1263.7 144.1h0M1258.6 108.3h0M1263.1 154.6h0M1267.5 115.6h0M1259.1 171.1h0M1262.7 88.4h0M1267.3 93.5h0M1261.1 155h0M1261.8 148.1h0M1258.1 173.8h0M1260.2 170.8h0M1265 131.1h0M1261.2 84.9h0M1267.8 103.3h0M1259.5 114.4h0M1262.7 151.4h0M1258.2 128.8h0M1266.8 114.7h0M1266.7 111.2h0M1260.1 148h0M1261.9 144.8h0M1259.2 128.8h0M1261.4 139.3h0M1263.8 133h0M1266.1 133.3h0M1265.9 114.1h0M1259.6 173.4h0M1259.3 90.1h0M1265.1 133.4h0M1266.9 86.1h0M1266.4 137.5h0M1258.1 176.3h0M1261.6 128.8h0M1260.8 111.8h0M1260.9 131.2h0M1259.1 112.3h0M1260.2 136h0M1258.8 118.5h0M1262.6 106.1h0M1265.2 135.8h0M1264.3 131.2h0M1259.5 114.6h0M1265.7 92.9h0M1259.3 133.8h0M1263.5 133.9h0M1265.8 92.1h0M1259.6 104.1h0M1265.5 109.1h0M1258.9 151.1h0M1265.6 138.8h0M1259.4 92.9h0M1261.5 131.1h0M1263.5 141.5h0M1262.8 118.3h0M1260.6 154.2h0M1261.4 164.8h0M1260 159.6h0M1267.6 96.9h0M1260.5 146.8h0M1262.9 107.2h0M1261 143.2h0M1263.8 131.8h0M1261.4 157.9h0M1259.9 153.8h0M1262.6 90.3h0M1264.5 112.2h0M1259.9 81.7h0M1259.9 121.2h0M1263.7 144h0M1260.4 87.2h0M1264.9 114.3h0M1264.8 139.9h0M1261 92.4h0M1265.1 94.4h0M1265.1 85.7h0M1262.7 105.2h0M1265.9 129.9h0M1266 101.7h0M1258.4 126.5h0M1265.2 87.7h0M1260.2 109.3h0M1262.5 94.4h0M1262.9 96.4h0M1263.7 132.1h0M1265.4 88.2h0M1267 109.7h0M1260.4 113.6h0M1265.5 84.6h0M1264.5 86h0M1266.9 115.5h0M1259.5 82.9h0M1267.1 135.9h0M1265.6 125.6h0M1263.5 115.5h0M1260.2 147.4h0M1258.2 168.2h0M1260.7 94.6h0M1267.3 93.3h0M1261.9 98.9h0M1259.1 160.5h0M1288 127.7h0M1278.2 128.5h0M1292.8 146.2h0M1268 143.5h0M1287.2 143.6h0M1294.7 137.5h0M1278 121.6h0M1292.7 139.2h0M1276.9 121.3h0M1280.4 150h0M1284.4 145.9h0M1271.3 125.1h0M1274.9 133.5h0M1278.6 122.2h0M1283.3 128.3h0M1270.2 119.8h0M1268.3 120h0M1280.2 126.9h0M1281.3 124.2h0M1266.3 149h0M1287.8 123.7h0M1279.7 124.8h0M1271.6 136.6h0M1280.1 118.1h0M1291.7 136.5h0M1278.4 118h0M1279.8 146.2h0M1287.3 124.6h0M1266.2 120.5h0M1286.2 133.4h0M1269.1 133.8h0M1267.3 156.3h0M1290.7 143.4h0M1276.4 121.8h0M1277.5 149.4h0M1277.6 118.5h0M1285.7 148.7h0M1281.6 146.1h0M1287.2 135.9h0M1276.2 141h0M1267.9 129.8h0M1272.1 124.8h0M1280.7 122h0M1267.2 138.9h0M1290.9 145.7h0M1276.7 122.7h0M1267.8 122h0M1281.7 120.6h0M1286 119.1h0M1285.8 138.8h0M1281.7 149.4h0M1279.6 150.1h0M1275.7 132.9h0M1272.9 133.6h0M1281.3 122.7h0M1281.8 135.8h0M1282.3 129.7h0M1270 133.9h0M1269.1 151.7h0M1266.3 146.1h0M1273 154.2h0M1281.4 146.8h0M1286.7 148.8h0M1272.3 144.7h0M1283.6 134.2h0M1277.4 133.1h0M1268.6 124.9h0M1273.1 134.3h0M1284.7 131.5h0M1269 156.6h0M1286.7 128h0M1268.2 143.1h0M1276.5 124h0M1290.5 141.8h0M1274.9 122.4h0M1269.1 128.9h0M1282 130.1h0M1288.3 148.2h0M1270.6 122.4h0M1266.3 145.6h0M1292.1 130h0M1268.1 134.8h0M1276.8 126.2h0M1276.6 144.8h0M1288.4 130.5h0M1274.8 148.2h0M1276.1 138.4h0M1271.8 147.9h0M1277.6 133.3h0M1266.8 134.2h0M1275.4 106.6h0M1271.6 111.8h0M1290 116.2h0M1278.2 103.6h0M1273.5 87h0M1287.9 96.9h0M1265.6 92.2h0M1273 89h0M1266.8 110h0M1284.4 106.6h0M1293.9 109.7h0M1265.5 96.9h0M1277.1 115h0M1268.3 90.7h0M1276.6 87h0M1279 114.8h0M1287.6 96.6h0M1279.6 99.8h0M1268.7 96.7h0M1297.2 93.1h0M1292.8 87.3h0M1292.6 98.5h0M1270.9 106h0M1269.6 94.6h0M1269.7 103.7h0M1280 115.2h0M1275.7 110.3h0M1279.6 106.2h0M1289.8 104h0M1275.3 85.1h0M1284.2 99.6h0M1273.7 85.2h0M1282 102.6h0M1266.6 112h0M1270.3 107h0M1275.7 114.6h0M1291.2 102.5h0M1295.9 96.9h0M1287.9 110.6h0M1272.2 99.3h0M1274.2 85.1h0M1271.3 100.8h0M1273.6 100.5h0M1284.5 114.2h0M1270.5 97.4h0M1273 113.4h0M1269.3 91.3h0M1286.4 99.3h0M1286.2 108.1h0M1278 87h0M1279.7 94.6h0M1290 100.1h0M1273.4 104.7h0M1267.1 90.3h0M1291.5 87.3h0M1341.3 82.7h0M1314.5 121h0M1305.7 129.1h0M1301.3 105.3h0M1317.2 106.7h0M1302.5 109.9h0M1337.6 91.6h0M1336.1 93.9h0M1300.8 125.5h0M1341 98.3h0M1314.1 106.5h0M1309.5 116.1h0M1326.6 102.2h0M1340.4 90.7h0M1341.9 82.7h0M1338 108h0M1301.3 79.5h0M1334.1 97.6h0M1337.2 107.6h0M1352.3 92.1h0M1325.8 72.3h0M1302.6 77.5h0M1337.7 77.3h0M1309.7 82.1h0M1338.5 92.1h0M1321.6 111h0M1298.6 107.6h0M1306.4 83h0M1317.1 100.9h0M1337.8 87.9h0M1320.2 87.6h0M1344.5 109h0M1339.7 121.5h0M1340.1 91.7h0M1313.2 89.8h0M1332.9 96.7h0M1336.3 114.3h0M1313.9 82.2h0M1318 80.7h0M1298.9 121.7h0M1322.5 69.4h0M1343.7 118.4h0M1332.3 78.4h0M1321.8 70.9h0M1343.7 112.4h0M1319.4 70.8h0M1325.9 72.1h0M1312.3 115.9h0M1313.7 91.1h0M1343 109.6h0M1334.9 103.1h0M1317 113.9h0M1332.8 109.5h0M1320.5 130.4h0M1331.3 89.1h0M1366 142.7h0M1372.7 136h0M1457.7 166h0M1516 99.3h0M1367.7 102.7h0M1371.7 106.7h0M1344.3 120.7h0M1340.3 110.7h0M1341.7 76h0M1343.7 76.7h0M1349.3 89.3h0M1353.7 89.3h0M1357.7 89.3h0M1336 98.3h0M1316 65h0M1317.7 70h0M1312 75h0M1324.3 81.7h0M1307.7 133.3h0M1313.7 131.7h0" fill="none" stroke="#4682B4" stroke-width="4.6" stroke-linecap="round"/>
<path d="M1236.7 195H1529.3" stroke="#111" stroke-width="1.8" stroke-dasharray="8.6 2.15 1.35 2.15" fill="none"/>
<path d="M1257.7 5V256.7" stroke="#0000ff" stroke-width="1.4" stroke-dasharray="7.25 3.3" fill="none"/>
<path d="M1248.3 201.7C1249.8 204.4 1251.5 207.1 1252.7 210C1253.8 212.7 1254.3 221 1255.3 218.3C1257.9 211.6 1257.1 203.8 1257.7 196.7C1258.7 184.7 1259.2 171.9 1260.3 160C1261.2 151.2 1262.1 142.1 1263.7 133.3C1264.6 128.3 1265.4 122.9 1267.7 118.3C1268.5 116.6 1271.2 116.3 1272.7 115C1275.6 112.4 1277.7 108.7 1281 106.7C1282.9 105.5 1285.5 105.6 1287.7 106C1291.2 106.7 1294.1 109.8 1297.7 110C1302.1 110.3 1306.8 108.8 1311 107.3C1317.8 104.9 1324.6 101.6 1331 98.3C1340 93.7 1348.5 87.6 1357.7 83.3C1368.6 78.3 1406.6 63 1417.7 58.3C1428.7 53.7 1505.6 21.3 1516.7 16.7" stroke="#F66E6C" stroke-width="2.8" fill="none" stroke-linecap="round" stroke-linejoin="round"/>
<path d="M1236.7 5V256.7H1529.3" stroke="#222" stroke-width="1.3" fill="none"/>
<text x="1258.7" y="178.1" font-size="12.5" fill="#000">101.93</text>
<text x="1223.3" y="57.8" font-size="15.4" text-anchor="end" fill="#222">0.2</text>
<text x="1223.3" y="129.2" font-size="15.4" text-anchor="end" fill="#222">0.1</text>
<text x="1223.3" y="200.2" font-size="15.4" text-anchor="end" fill="#222">0.0</text>
<text x="1247.7" y="281.8" font-size="15.4" text-anchor="middle" fill="#222">0</text>
<text x="1303.7" y="281.8" font-size="15.4" text-anchor="middle" fill="#222">500</text>
<text x="1361" y="281.8" font-size="15.4" text-anchor="middle" fill="#222">1000</text>
<text x="1418.3" y="281.8" font-size="15.4" text-anchor="middle" fill="#222">1500</text>
<text x="1475.3" y="281.8" font-size="15.4" text-anchor="middle" fill="#222">2000</text>
<text x="1382.7" y="303.4" font-size="18.8" text-anchor="middle" fill="#222">Serum creatinine</text>
<text transform="translate(1193.9 131.7) rotate(-90)" font-size="18.8" text-anchor="middle" fill="#222">SHAP value</text>
</g>
<g>
<path d="M135 402.7 L144 394.3 L146.7 449.3 L149.3 492.7 L145.3 494.3 L141.7 449.3 L135 439.3Z" fill="#4682B4" stroke="#4682B4" stroke-width="3" stroke-linejoin="round"/>
<path d="M149.3 511 L173.3 510 L200 517.7 L230 527.7 L233.3 546 L213.3 549.3 L193.3 542.7 L166.7 535.3 L150 534.3Z" fill="#4682B4" stroke="#4682B4" stroke-width="3" stroke-linejoin="round"/>
<path d="M128.5 448.7h0M122.7 365.3h0M106 441.7h0M133.3 452.3h0M114.9 417.8h0M95.8 359.6h0M140.9 387.9h0M111.2 353.8h0M125.1 375.2h0M121.7 452.9h0M118.8 373.1h0M101.7 412.3h0M124 425.8h0M118.9 398.6h0M134.5 415.2h0M120.9 375.4h0M147.2 456.8h0M102.3 393.5h0M106.5 352.5h0M100.5 348.1h0M122 390.2h0M143.6 461.8h0M118.7 394.3h0M132.4 429.7h0M109.9 421h0M131.8 447.7h0M147.9 480h0M118.5 430.7h0M107.8 398.4h0M135.8 375.2h0M144.6 422.6h0M94.9 365.6h0M143.9 420.5h0M124.2 408.7h0M106.8 378.6h0M128.7 373.6h0M117.1 428.4h0M145.7 437.3h0M141.7 407.2h0M128.3 374.2h0M137.1 440.8h0M120.2 433h0M115.1 391.2h0M143.5 417.9h0M99.8 385.6h0M99.7 355.9h0M129.4 408.6h0M144.2 447.6h0M135.2 455.2h0M122 365.7h0M126.6 425h0M140.9 383.3h0M97.2 383h0M126.3 451.3h0M125.8 418.4h0M116.4 424.6h0M95.2 360.3h0M117 398.3h0M104.2 367.9h0M105.3 380.6h0M121.4 428.6h0M127 367.4h0M125 423h0M148.3 468.7h0M123.9 405.4h0M125.3 392.7h0M116.5 346.8h0M104.7 431.1h0M107.9 348.7h0M94.9 371.5h0M105.3 374.3h0M144.3 406.1h0M136.8 451.6h0M122.7 412.2h0M142.8 471.4h0M112.2 410.5h0M106.1 413.2h0M142.6 402.3h0M118.5 413.4h0M145.4 491h0M136.9 448.1h0M118.8 405.6h0M140.2 410.3h0M144.1 458h0M139 406.4h0M113.8 439.9h0M132.8 408.7h0M104 339.7h0M120.8 447.4h0M118.3 363.7h0M108.1 398.6h0M102.9 393.4h0M122.9 369.7h0M141.7 444.6h0M129.2 436h0M97.2 435.4h0M108.1 419.5h0M123.6 389.7h0M112 438.4h0M143.7 419.1h0M118.6 361.2h0M135.3 393.1h0M114.9 405.4h0M103.2 421.5h0M106.8 413.7h0M109.6 370.6h0M143 444h0M135.4 440.8h0M135 456.3h0M135.8 447.5h0M104.6 338.7h0M100.8 401.8h0M101.5 423.9h0M136.9 451.8h0M144.2 464.8h0M114.8 351.9h0M141.3 378.4h0M136.2 410.6h0M122.6 360.1h0M102.5 370.5h0M130.5 390.1h0M104.1 387.7h0M117 444.6h0M121.4 414.4h0M111.2 412.7h0M105.6 428.7h0M146.3 415.8h0M110.9 359.2h0M123.3 433.5h0M123.3 359.5h0M121.9 403.8h0M112.3 448h0M146.5 497.8h0M146.4 443.3h0M137 455.5h0M114.3 434h0M114.2 358.9h0M137.5 419.8h0M147.8 486.3h0M110.6 429.7h0M118.3 409.9h0M117.2 373.7h0M122.9 439.7h0M112.6 369.4h0M106 424.1h0M147.2 453.9h0M144.5 396.8h0M116.1 383h0M133.9 444.4h0M95.8 366.7h0M99.9 348.5h0M114.6 424.3h0M114.5 396.8h0M105.3 343.8h0M146.1 452.1h0M127.6 372.2h0M129.3 449.9h0M108 415.5h0M110.9 366.5h0M125.5 445.7h0M139.1 421.9h0M145.9 396.8h0M134.6 439.4h0M113.1 396.1h0M120.7 448.7h0M128.1 444.4h0M136.8 383.7h0M135.5 439.4h0M112.2 402.8h0M101.1 356.5h0M117 378.1h0M134.8 432.5h0M129.5 366.7h0M146.9 458.2h0M141.7 397.5h0M130.7 429.9h0M102.7 419h0M119.4 429.9h0M146.5 475.5h0M144.9 394.8h0M124.3 410.6h0M106.8 356.5h0M95.9 344.3h0M115.8 418.7h0M104.7 421.2h0M147.6 472.7h0M120.2 377.1h0M95 356.7h0M132.2 450.3h0M130.7 367.3h0M100.8 392.3h0M140.2 400.8h0M123.5 383.7h0M144.5 425.7h0M124.7 418h0M107.5 358.4h0M111.4 380.9h0M122.7 376.5h0M110.9 433.9h0M112.3 431.9h0M95 410.4h0M105.2 425.2h0M142.5 420.3h0M96.7 381.3h0M110.6 361h0M128.8 397.7h0M99.2 359.3h0M127.8 447.6h0M126.7 437.7h0M137.5 457.1h0M145.1 407.3h0M98.6 428.6h0M143.4 395.5h0M109.9 421.5h0M98.6 352.3h0M109.7 446.3h0M131.5 405.9h0M110.3 381.5h0M111.7 345.3h0M147.1 466.4h0M147 477.3h0M129.4 456.1h0M118.1 430.4h0M113.1 373.2h0M147.1 491.9h0M102.1 429.2h0M144.5 386.8h0M120.1 395.1h0M134.2 381.2h0M148.4 491.1h0M118.8 377.1h0M113.2 444.3h0M112.2 431.6h0M98.4 356.5h0M133.9 437.9h0M98.8 350.1h0M107.2 343.2h0M114.6 397.3h0M114.4 360.6h0M134.6 400h0M113.4 434.7h0M144.8 439.3h0M94.8 349.2h0M127.6 429.2h0M108.3 391h0M99 386.6h0M105.2 339.3h0M133.9 450.3h0M102.6 361.1h0M119.2 451.8h0M100.4 396.6h0M130.6 387.9h0M103 432.5h0M118.8 373.8h0M104.9 360.5h0M109.6 392.8h0M120 387.2h0M126.1 423.3h0M126.4 430.4h0M95.5 416.4h0M102.2 397.6h0M98.6 428.9h0M137.8 457.5h0M129.7 400.9h0M114.1 407h0M134.8 376.2h0M107.2 377h0M102 436h0M114.4 445.4h0M110.9 435.7h0M115.3 445.5h0M116.6 367.5h0M111.3 368.4h0M129.8 404.8h0M141.5 408.3h0M103.3 396.7h0M146.2 464.7h0M104.2 346.7h0M103 434.4h0M106.6 435.4h0M134.2 390h0M109.1 366.5h0M102.9 357.5h0M97.7 355.8h0M131.4 439.1h0M133.4 387.1h0M124.8 444.4h0M135.9 439.1h0M143 472.5h0M143.8 435.1h0M100.8 407.7h0M112.3 427.9h0M127.6 445.3h0M101.3 364h0M141.9 384.5h0M95.1 415.8h0M100.4 377.9h0M139.6 437h0M116.8 409.2h0M106.2 372.4h0M102.3 341h0M138.6 453.8h0M96.1 373.3h0M95.8 425.5h0M123.3 362.6h0M121.6 383h0M116 414.4h0M114.3 348h0M107.1 339.9h0M123.5 418.2h0M140.3 398.9h0M120.3 441.8h0M104 433.4h0M124.3 424.6h0M132.4 411.1h0M143.7 391.2h0M136.5 375.7h0M97.6 394.3h0M115.2 413.5h0M128.5 397.4h0M145.9 404.9h0M136 419.5h0M129.5 386.8h0M120 376.4h0M102.7 430h0M136 454.2h0M127.8 429.2h0M103.3 357.3h0M144.4 486.3h0M107.3 370.2h0M102.9 360.7h0M121.6 367.7h0M109.2 373.3h0M136.4 429.2h0M121.2 432.3h0M115.3 391.6h0M139.6 451.1h0M142.4 446.7h0M110.4 402.6h0M100 341.3h0M139.3 455.2h0M107.7 436.9h0M129.1 405.9h0M101.3 398.3h0M120.9 389.7h0M118.8 421.5h0M101.3 373.3h0M109.1 384h0M103 350.5h0M125.1 401.3h0M119.9 356.2h0M96.6 440.7h0M141 435.2h0M145.2 493h0M122.4 433.3h0M116.1 374.5h0M107 379.7h0M107.4 419.5h0M101.6 372.7h0M119.4 402h0M105.2 431.1h0M118.2 426.8h0M144.3 479.3h0M120.5 363.9h0M122.1 418.8h0M112.3 424.4h0M112.6 419.3h0M144.7 446.7h0M98.3 372.7h0M99.3 371.3h0M119.1 392.4h0M125.4 409.8h0M144 477h0M120.9 358h0M118.8 417.1h0M146 416.2h0M144.2 403.5h0M95.6 361.7h0M117 428.8h0M134.6 407.8h0M120.5 352.5h0M142.9 453.7h0M141 442.4h0M100.3 428.9h0M130.5 380.4h0M122.4 433.9h0M113.3 435.9h0M111.8 438.9h0M107.1 373.9h0M104.7 361.2h0M96.2 385h0M137.7 406.7h0M106.3 395.9h0M118.7 412.8h0M129.2 407.1h0M126.8 381.1h0M95.7 364.9h0M121.4 355.9h0M136.7 416.9h0M107.4 416.8h0M145.7 474.2h0M118.8 352.9h0M121.4 370.1h0M139 393h0M145.2 440.3h0M105.7 407.3h0M146 433.8h0M120.1 368h0M104.6 379.9h0M127.2 397.8h0M94.9 372.4h0M117 377h0M107 343.7h0M115.6 408.4h0M140.4 398h0M111.3 395.2h0M113.8 418.5h0M106.2 424.5h0M137.6 439.2h0M112 351.4h0M125.8 397.1h0M113 412.2h0M137.2 411.2h0M111.2 348.8h0M125.1 452.4h0M117.3 390.4h0M101.2 358.7h0M112.2 447.7h0M108.6 434.9h0M141 458.9h0M95.1 377.9h0M107.7 370.6h0M107.8 409.5h0M136.7 433.4h0M136.2 422.2h0M116.3 411.4h0M124.1 400.9h0M118.5 398.7h0M113.1 392.2h0M140.2 445.1h0M104.7 393.3h0M108.1 363.1h0M138.6 448.5h0M98.9 385.3h0M96.1 439.7h0M127.4 388.7h0M106.4 388.7h0M117.9 367.3h0M110.9 403.6h0M113.4 407.2h0M130.5 395.6h0M123.7 443.9h0M147.2 465.4h0M119.9 423.4h0M111.1 401.2h0M124.4 369.1h0M135.6 398.4h0M106.8 405.7h0M110.7 446.7h0M146.4 429.6h0M118.8 427.8h0M122.2 446.3h0M140.6 435h0M121.6 443.1h0M114.3 350h0M101.6 432.1h0M127.1 389.4h0M114 347.9h0M102.3 377.6h0M121.2 436.6h0M131.2 412.4h0M114 427h0M109.4 404.1h0M127.5 453h0M113.2 443.6h0M98.1 409.4h0M109.6 391.6h0M145.3 424.8h0M112.6 368h0M123.7 424.8h0M143.6 398.5h0M134.7 457.2h0M95.5 377.2h0M143.9 486.2h0M98.1 383.6h0M146.5 435.4h0M127.3 414.6h0M106.8 368h0M105.7 342h0M116.8 400.5h0M128.5 440.5h0M122 372.9h0M142.2 429.6h0M103.2 438h0M114.8 394.8h0M134.6 422h0M99.3 418h0M119.5 422.2h0M110.6 442.6h0M134.3 449.4h0M144.9 429.2h0M126.9 430.4h0M142.4 400.8h0M125.5 412h0M100.8 384.6h0M107.3 369.9h0M96.8 375.5h0M120 425.9h0M98 373h0M142.7 386.6h0M139.6 455.8h0M105.8 420.2h0M128.8 422.7h0M119.8 413.8h0M120.3 377.6h0M96.6 422.8h0M134.1 452.2h0M100.5 359.3h0M102.8 437.8h0M140.4 381.1h0M141.5 390.9h0M139 441h0M144.2 400h0M148.2 461.5h0M146.5 487.3h0M129.2 417.5h0M133.3 402.6h0M148.2 482.9h0M128.1 405.2h0M131.5 400h0M134.2 414.1h0M140.9 447.8h0M140.2 446.1h0M138.2 394.2h0M142.9 398.1h0M138.5 436.5h0M145.9 397.4h0M135.4 386.6h0M131.7 415.4h0M126 408.7h0M146.3 483.9h0M129.9 434.5h0M147.5 494.8h0M126.1 404.5h0M145.2 400.9h0M147 423.3h0M143.4 457.1h0M134 386.1h0M138.3 450.6h0M142.8 446.5h0M133.9 438.4h0M130.7 419.2h0M126.3 403h0M131.9 428.4h0M132.9 435.4h0M145.6 487.8h0M135.8 425.9h0M132.8 425.1h0M139.9 421.3h0M141.4 417.2h0M137.4 416.5h0M144.5 444.5h0M146.2 399.2h0M137.6 385.7h0M143.2 402.8h0M142.4 456.2h0M143.5 484.8h0M130 414.6h0M131.9 432.2h0M128.5 419.5h0M131.6 428.8h0M134.8 404.4h0M144.5 404.2h0M148.4 496.2h0M135.3 433.3h0M141 453.3h0M136.2 433.8h0M140.4 419.9h0M146 429.2h0M128.9 439.3h0M128.4 432.2h0M140.8 416.5h0M137 383.4h0M138.8 428.2h0M127.3 391h0M141.1 399.6h0M144.2 453.3h0M143 465.9h0M139.5 383.2h0M132 414h0M142.3 428.5h0M145.9 483.7h0M136.8 398h0M130.3 441.6h0M135.8 423.7h0M125.7 401h0M131.6 385.9h0M126 399.5h0M148.1 491.9h0M146.4 467.6h0M133.8 414.7h0M137.6 448.6h0M128.1 417.8h0M144.9 392.9h0M133.5 387.4h0M140.5 423.5h0M132.7 395.7h0M134.1 414.8h0M139.2 396.4h0M130.6 420.3h0M144.2 493.8h0M130.4 431.4h0M136.1 418.7h0M139.2 412.8h0M127.6 428.2h0M147.1 448.8h0M129.3 447.7h0M140 416.8h0M145.1 493.2h0M146.5 431h0M142.6 427.1h0M147.4 447h0M143.3 466.3h0M146.8 479.8h0M133.7 416.6h0M131.2 425.6h0M140.1 399.6h0M125.2 393.9h0M142.9 444.6h0M130.7 390.7h0M145.2 401.1h0M136.4 434h0M136.4 440h0M140.9 421.4h0M136 431.9h0M138 395.2h0M147.7 495.4h0M131.1 401.4h0M127.3 392.5h0M129.1 430.9h0M139.8 447.1h0M147.6 480.1h0M140.9 426.6h0M136.5 424.3h0M128.9 443h0M142 413.4h0M140.4 453.2h0M137 441.9h0M129.4 407h0M140.5 423.9h0M133.8 388.4h0M137.7 421.1h0M139.4 427.3h0M128.3 406.4h0M131.9 394.1h0M138.6 426.9h0M128.8 416.8h0M133.9 399.4h0M135 409h0M146.1 410.2h0M144.7 453.9h0M128.4 403.5h0M144.9 489.1h0M143.4 457h0M131.9 448h0M144.9 418.2h0M138 410.8h0M142.9 423.9h0M145.1 463h0M135.8 384.7h0M146.3 407.3h0M131.4 451h0M133.2 421.4h0M145.9 404.3h0M141.1 394.2h0M146.9 433.5h0M134.2 446.8h0M139 407.3h0M138.1 398.2h0M137.7 438.7h0M142.8 426.6h0M138.8 443.8h0M143.7 400.2h0M130.8 436.8h0M144.4 417.8h0M127.7 422.4h0M133.4 400.1h0M130.1 389.2h0M140.8 401.3h0M127.7 411.4h0M133.3 393.7h0M148.6 477.6h0M134.6 449.1h0M129.8 444.1h0M140.1 397.7h0M138.3 442.2h0M128.6 413.4h0M143.9 432.4h0M130.3 417.5h0M144.5 466.2h0M127.9 401.6h0M130.8 411.1h0M147.6 459.7h0M145.4 463.3h0M143.2 484.1h0M137.2 419.3h0M133.1 383.9h0M146.1 405.5h0M142.9 409.7h0M131.1 408.8h0M133.7 392.8h0M129.9 418.9h0M131.7 437.3h0M142.2 435.6h0M143.5 446h0M138.9 402.9h0M141.5 426.6h0M142.7 421.8h0M133.3 425.9h0M139.2 421.5h0M131.6 407h0M147.2 477.9h0M138.9 382.8h0M137 421.8h0M139.4 416.7h0M129.1 391.3h0M138.6 424.7h0M127.4 428.8h0M135.3 383.7h0M136.4 414h0M132.5 452.1h0M140.9 422.6h0M139.8 441.5h0M131.5 433h0M138.4 443.7h0M146.8 419.8h0M145.2 472.4h0M136.9 434.8h0M130.8 441h0M143.2 433.4h0M141 399.6h0M139.6 453.7h0M138.7 456h0M140 446.6h0M138.4 446.1h0M146.6 414h0M145.1 417.7h0M144.1 395.7h0M143.4 433.1h0M144.2 391.8h0M138.5 412.7h0M138.2 452.9h0M140.6 421.1h0M138.4 428.1h0M131.2 450.5h0M138.1 403.3h0M136.7 405.4h0M133 428.8h0M145.4 488.7h0M143.5 399h0M130.1 399.6h0M145.9 466.1h0M133.4 419.9h0M143 399.8h0M136.7 428.6h0M134.1 441.2h0M142.1 409.8h0M135.4 420.8h0M133.8 409h0M142.5 413.3h0M133.9 432.2h0M135.9 384h0M142.6 468.4h0M125.8 404.2h0M131.2 405.3h0M146.4 415.3h0M143.3 419.4h0M129.6 433.8h0M133.5 384.3h0M131.5 413.2h0M143.6 448.4h0M142.2 416.4h0M148.3 482.3h0M136.6 427.9h0M133.5 439.3h0M141 408.1h0M133.4 420h0M143.4 432.7h0M137.6 437.3h0M142.6 417.2h0M128.6 398.1h0M132.3 404.7h0M143.2 430.9h0M146.3 429.1h0M139.3 409h0M146.5 416h0M132.2 393.2h0M128 426.8h0M133.7 393.6h0M133.5 440.4h0M136.7 391.5h0M146.7 464.9h0M138.2 382.1h0M147.3 446.7h0M140.1 403.7h0M130.7 383.9h0M139.2 395.6h0M131.9 383.1h0M144.5 405.3h0M127 395.7h0M145.4 407.2h0M138.7 430h0M145.5 494.1h0M143 422.2h0M146.2 435h0M134 450.4h0M142.6 389h0M142.3 392h0M128.2 441.1h0M131.1 444.8h0M138.9 385.2h0M147.1 485.9h0M133.5 438.1h0M146.2 403.4h0M141.5 390.5h0M136.8 439.5h0M134.1 437.9h0M130.2 391.2h0M135.5 437.9h0M146 408.8h0M133 391.3h0M127.3 429.7h0M147.9 497h0M133.8 397.6h0M143.5 471.1h0M147.4 484.9h0M127.7 413.8h0M133.2 393.5h0M135.2 398h0M144.2 396.9h0M127.7 436h0M133.3 384.3h0M135.3 449.6h0M127.5 397.3h0M144.7 384.1h0M136.4 414.8h0M149.5 497.8h0M141 389.3h0M139.6 438.5h0M141.2 408.4h0M216.9 539.6h0M208.7 536.4h0M160.4 535h0M172 532.7h0M154.6 537.8h0M237.7 542h0M238.4 545.6h0M179.6 540.1h0M220.8 538.9h0M230.1 558.2h0M209.8 532.2h0M175.5 538.6h0M216.5 530.6h0M182.2 525.3h0M187.2 535.2h0M232.9 553.1h0M200.4 542.1h0M222.5 549.8h0M188.3 543.6h0M176.3 539.8h0M209.3 525.4h0M165.9 513h0M163.6 526.5h0M166.1 504.5h0M224.8 539.4h0M175.2 534.6h0M234.1 537.6h0M195.7 544.7h0M191.8 546.4h0M217 555h0M217.6 523.3h0M176.4 510.1h0M201.4 544.4h0M207.1 531.5h0M215.3 518.1h0M204.7 546.3h0M164.9 524.9h0M168.5 533.4h0M155.7 511.3h0M190.1 524.8h0M170.8 538.8h0M203.1 544h0M218.9 555.8h0M188.8 527h0M188 523.2h0M158.8 528.6h0M168.9 524.2h0M177.2 542.3h0M195.9 532.2h0M177.2 526.9h0M157.4 508.9h0M188.3 528.6h0M221.7 532.9h0M211 542.6h0M195.9 530.7h0M233.9 533.8h0M204.3 522.6h0M192.3 541.1h0M220.8 554.9h0M206.9 542h0M191.8 546.8h0M186.1 534.6h0M194.3 516.7h0M152 535.4h0M153.8 506h0M220.6 530.9h0M197.8 514.1h0M183.1 539.3h0M162.3 526.4h0M177.6 524.7h0M155.9 505.5h0M153.2 517h0M212.8 538.8h0M197.8 537.8h0M229.5 530.7h0M150.8 511.9h0M226.9 538.7h0M176.1 516.9h0M231.5 555.8h0M223.6 532.1h0M215 543.4h0M205.3 517.3h0M168.4 517.2h0M159.1 527.5h0M226.6 539.6h0M169.8 534.7h0M182.1 521.6h0M207.3 526.7h0M219.4 529.8h0M169.6 505.7h0M188.7 534.4h0M171.1 504.5h0M223.7 523h0M223.4 552.1h0M166.1 520.3h0M204.1 525.1h0M222.1 560.7h0M166.8 537.7h0M217.2 556.4h0M224 556.1h0M197.1 531.3h0M152.3 518.8h0M172.6 537.4h0M219.4 561.7h0M223.7 543.5h0M232.9 529.3h0M193.3 538.2h0M214.6 549.6h0M225 532h0M214.4 520.3h0M151.5 531.3h0M160.9 504h0M194.9 523.3h0M158.5 514.2h0M205.6 546.3h0M188 527.8h0M157.8 508.3h0M190.3 532.9h0M179.8 515.8h0M178.8 522.3h0M195.3 530.9h0M194.5 537.4h0M166.5 504.7h0M222.7 560.8h0M239.8 544.2h0M233 552.1h0M163.5 521.9h0M201.7 534.9h0M168.9 521.7h0M225.1 526.2h0M187.9 513.6h0M187.4 517.2h0M163.1 512.9h0M149.9 518.3h0M181.8 514.8h0M179.4 529.7h0M153.5 527.2h0M205.8 527.5h0M218.3 521h0M151.2 522.6h0M179.6 540.7h0M195.8 539.9h0M176.9 532.9h0M213.4 527.3h0M223.6 542.3h0M174.9 509.8h0M157.4 534.8h0M232 540.3h0M192.8 540.5h0M193.5 545.4h0M233.2 547h0M165.3 501.8h0M158.1 521.3h0M231.9 538.2h0M172.4 514.7h0M223.4 556.7h0M186.5 513.7h0M183.2 533.3h0M193.4 527.7h0M172.2 512.2h0M196.3 515.4h0M204.6 545.9h0M196.2 540.4h0M204.1 518.7h0M152.1 527.8h0M195.3 533.9h0M167.1 528.4h0M213.2 543.1h0M231.1 528h0M185.3 537.6h0M167.9 502.6h0M225.6 542.4h0M169.1 502.8h0M221 545.8h0M154.3 516.9h0M198.6 535.9h0M156.9 507.5h0M206.2 520.7h0M212.9 544.1h0M152.2 508.1h0M206.3 545.9h0M217.6 559h0M155.9 527.3h0M223.6 545.6h0M184.4 510.6h0M205.4 526.1h0M210.1 539.4h0M194.5 540.6h0M211 541.5h0M163.1 506.1h0M154.2 534.2h0M188.5 523.4h0M208.2 521.3h0M198.2 545.6h0M217.8 523.7h0M169.9 539.7h0M148.1 520.7h0M230 548.6h0M191.1 513.5h0M154.9 533.1h0M234.1 534h0M187.6 521h0M212.2 554.1h0M214.9 555.2h0M150.9 535.6h0M236.6 540.8h0M217.6 543.8h0M210.7 528.4h0M237.3 550h0M199.9 542.1h0M160.1 511.6h0M227.3 526.1h0M231.2 543.7h0M165.2 511.4h0M224.6 538.9h0M156.8 511h0M156.6 505.9h0M215.8 532.8h0M166.2 520h0M160.9 538.5h0M204.3 533.4h0M186.6 510.9h0M228.6 536.6h0M188.1 539.1h0M162.6 510h0M212.7 522.3h0M162.4 536.3h0M151 512.7h0M204 525h0M223.3 549.1h0M231.1 533.5h0M224.6 538.3h0M212 532h0M177.1 507.9h0M156.6 535.1h0M166 511.9h0M195.1 537.6h0M194.3 535.1h0M166.2 515.7h0M203.7 547.6h0M169.9 523.7h0M222 562.3h0M160.7 535.7h0M203.9 544.4h0M215.4 534.3h0M155.6 509h0M148.8 530.1h0M204.6 525.6h0M180.8 511.5h0M151.3 516.7h0M162.2 525.9h0M232.3 556.7h0M184.1 514.4h0M211.6 533.1h0M178.7 521.1h0M169 514.4h0M216.8 542.9h0M200.4 529.7h0M217 540.1h0M174.6 540.7h0M228 553.4h0M224.3 557.6h0M197.2 535.8h0M151.3 513.8h0M226 535.4h0M203.7 542.2h0M150.3 509.8h0M185.2 540.4h0M210.8 549.2h0M209.1 518h0M213.1 539.3h0M231 541.4h0M189.4 540.1h0M169.9 520.1h0M231.1 556h0M179 510.4h0M148.9 534.3h0M212.4 548.8h0M220.8 523.7h0M161.6 512.5h0M177.2 522.7h0M230.4 541.7h0M164.5 534h0M223.2 544h0M174.8 517.2h0M226 530.7h0M201.8 523.1h0M211.7 549.6h0M185.5 529.6h0M214.5 522.9h0M226.9 540h0M210 539.9h0M193.5 541h0M179.5 519.1h0M168.5 501.8h0M236.1 540.5h0M173.1 513.2h0M165.9 507.3h0M154.5 519.5h0M173.9 506h0M196.9 522h0M202 524.9h0M234.3 536.1h0M179.6 508.1h0M224.4 532.2h0M185.8 511.5h0M198.5 526.1h0M200.2 544.1h0M214.2 532.4h0M232.8 551.1h0M202.4 542.9h0M211.8 538.7h0M222.7 561h0M169.5 512.1h0M193.9 524.9h0M208.8 546.8h0M192.1 547.1h0M231.2 539.4h0M183.6 531.3h0M216.5 538.4h0M195.7 520.9h0M230.8 550.5h0M204.1 529.1h0M214.2 526.5h0M190.1 537.6h0M221.1 522.6h0M186.2 528.9h0M222.3 551.3h0M211.9 528.1h0M190.9 522h0M210.6 551.2h0M178.1 519.7h0M236.8 537.8h0M159.2 509.9h0M225.7 544.2h0M205 547.4h0M159.3 512.7h0M162.1 514.1h0M171.2 528.9h0M210 528.6h0M204.6 517.9h0M185.1 515.1h0M184.5 534.9h0M165.5 521.4h0M231.4 540.6h0M208.6 518.9h0M209.8 522.9h0M207.3 522h0M189.6 538h0M206.5 520.9h0M230.9 535.1h0M186.3 540.7h0M207 534.2h0M229.8 530.3h0M211.8 536.7h0M160.5 509.1h0M167.3 520.3h0M216.8 536.1h0M181.9 512.3h0M159.2 535.6h0M160.3 529.5h0M155.7 507.2h0M167.1 525h0M172.5 527.6h0M201.9 538.2h0M208.8 528.4h0M198.7 528.7h0M199.8 547.5h0M194.7 519.5h0M232.8 540.3h0M194.7 534.3h0M232.7 529.1h0M170 524h0M209.1 529.5h0M166.5 527.1h0M164.2 511.2h0M158.1 531.2h0M227.8 541.5h0M226 550.3h0M216.2 553.4h0M224 539.7h0M222.3 540.3h0M173.5 533.1h0M171.5 522.1h0M196.9 529.2h0M148.6 517.7h0M218.5 546.3h0M236.5 538.1h0M205.2 524.2h0M223.4 560.4h0M159.4 509.1h0M167.5 516.7h0M237.3 541.6h0M165.8 511.4h0M198.6 516.4h0M183.5 530.1h0M175 519.8h0M150.6 511.1h0M215.2 543.5h0M220.5 525.1h0M203.4 524.8h0M162.3 517.7h0M193.8 530.3h0M190.2 524.6h0M192.1 516.5h0M231.1 555.3h0M212.2 519.5h0M209.2 516.1h0M222.1 526h0M216.8 539.6h0M218.8 520h0M157.6 509.6h0M156.3 525.3h0M183.5 544.7h0M149.4 529h0M149.3 513.8h0M184.6 528.8h0M167.9 507.2h0M193.1 546.5h0M234.2 537h0M175.6 532.6h0M227.9 542.6h0M239.7 544.9h0M219.9 521.5h0M199.2 522.4h0M208.7 548.8h0M157.3 526.9h0M195 536.1h0M194.9 516.7h0M175.7 514.3h0M166 521.1h0M169 512.8h0M216.8 540.1h0M175.9 539.5h0M176.6 536h0M186.2 532.3h0M154.2 511h0M174.3 531.9h0M212.1 552.8h0M183.4 523.3h0M165.5 512.8h0M197.1 541.4h0M170.7 536.3h0M163.7 516.2h0M190.8 545.9h0M230.1 539.4h0M155.1 528.2h0M186.7 536h0M212.9 524.1h0M221.7 550.7h0M179.7 536.9h0M206.7 537.1h0M231.9 552.4h0M192.9 536.1h0M231.6 531.1h0M174.6 518.4h0M152.5 509.4h0M215.8 525.9h0M163.8 511.7h0M179.8 524.1h0M203.3 540.4h0M211.4 549.6h0M182.2 519.7h0M221.7 530.9h0M180.3 534.3h0M220.3 527h0M174.3 531.1h0M184.7 530.5h0M201.5 533.6h0M235.7 545.6h0M197.3 545.9h0M167.5 503.4h0M223.8 544.6h0M231.4 533.5h0M224.3 529.2h0M153.4 524.3h0M233.3 551.1h0M216 539.9h0M151.5 527.5h0M198.8 529.3h0M207.6 521.3h0M187.1 514.6h0M223.6 544h0M206.2 531.5h0M202.2 524.2h0M217 524.3h0M166.3 521.1h0M175.6 507.7h0M182.2 534.6h0M223.8 526.9h0M183 512.5h0M158.9 505.7h0M212.5 537.8h0M194.1 539.1h0M185.3 533.8h0M219.8 544.2h0M165.6 523.1h0M234.4 553.6h0M217 537.8h0M224.8 532h0M162.9 520.5h0M156.5 520h0M172.5 522.7h0M221.6 531.9h0M212.7 540.2h0M168.4 536.8h0M224.8 541.9h0M233.7 548.8h0M194.3 515.6h0M210.3 527.3h0M157.4 526.9h0M197.9 528.5h0M222.8 557.1h0M152.1 530.7h0M203.1 541.9h0M213.6 542.9h0M195.7 531.4h0M193.6 536.3h0M201.1 540.5h0M157.1 535.4h0M157.9 519.9h0M179.5 530.3h0M234.1 539.2h0M200.4 548.2h0M175.6 508.6h0M222.5 549.6h0M194.6 526.4h0M222.5 540.4h0M163 525.6h0M157.1 534.8h0M221.7 543.4h0M152.9 507.5h0M209.1 533.3h0M159.7 513.5h0M196.2 523.6h0M223.5 526h0M233.9 536.5h0M212 529.7h0M174.9 504.6h0M196.2 536.7h0M184 524.6h0M227.3 530.3h0M174.9 540h0M210.5 539.4h0M213 526h0M148.6 531.5h0M173.3 518.9h0M184.7 543h0M181.7 517.9h0M220.2 554.3h0M224.9 554.2h0M188.2 529.5h0M155.6 536.9h0M236.7 539h0M236.5 538.9h0M195.2 526.1h0M215.3 526.6h0M192.8 520.5h0M219.7 534.6h0M167.5 521.4h0M207.8 543.2h0M225.6 540.2h0M162.8 515.9h0M216 544.3h0M219.4 530.7h0M162 537.7h0M193.3 515.9h0M200.6 518.2h0M215.1 556.7h0M199.5 546h0M196.2 537.4h0M185.4 523.1h0M158.1 507.5h0M210.7 552.3h0M165.9 514.1h0M158.1 524.8h0M174 507.9h0M165.7 504.2h0M171.6 513.4h0M165.3 524.3h0M159.8 522.8h0M203.6 531h0M215.9 525.1h0M153.4 520.4h0M191 540.2h0M168.6 530.6h0M192.9 522h0M150.4 517.3h0M207.4 516h0M204.5 535h0M165.7 504.5h0M151.4 525.8h0M199.4 528.1h0M219.9 522.1h0M165.4 530h0M222.6 544.1h0M152.7 520.7h0M212.9 545.8h0M238.4 541.4h0M226.2 542.1h0M204 525.8h0M191.9 545.1h0M178.1 517.5h0M222.9 558h0M186.8 531.7h0M216.3 542.3h0M172.7 540.2h0M226.5 531.3h0M171.9 510.5h0M149.8 509.4h0M211 546.8h0M220 521.5h0M177.9 516.4h0M156.9 513.6h0M206.4 539.4h0M215.9 555.3h0M212.7 527.9h0M158.6 509.4h0M199.5 532.9h0M190.2 518.1h0M255.1 513.9h0M267.2 541.1h0M275.7 533h0M276.5 514.1h0M262.8 546.8h0M280.3 532.5h0M242.7 545.2h0M281.4 518.5h0M254.5 535.5h0M274.8 539.7h0M283.2 516.4h0M238.6 544.4h0M238.6 539h0M252.5 526.1h0M251.6 538.8h0M244.5 534.6h0M253.4 531.9h0M252 533.9h0M243.8 541.6h0M236.4 539.3h0M242.3 528.6h0M237.9 531.9h0M255.3 545.1h0M242.7 541.4h0M244.8 549.3h0M239.5 535.8h0M249 538.4h0M247.6 536.7h0M240.8 539.1h0M248.6 538.7h0M241.6 549.4h0M238.6 530.9h0M254.3 535.9h0M238 550.7h0M238.1 545.3h0M241 543.3h0M252.1 537.3h0M243.9 543.8h0M257.8 547.4h0M254.3 547.6h0M243 536.1h0M245.9 542.5h0M247.2 548.8h0M167.4 508h0M167.4 502.3h0M167.4 506.4h0M167.5 497h0M168.2 497.9h0M168.3 498h0M167.8 506.6h0M167.7 507.1h0M167.9 497.9h0M167.4 505.8h0M167.5 504.6h0M167 501.2h0M167.2 498.8h0M167.5 507.2h0M100.7 335h0M115 343.7h0M254 513.3h0M265 520h0M270 524.3h0M273.3 520h0M286.7 515.3h0M286 524.3h0M281.7 529.3h0M283.3 532.7h0M266.7 534.3h0M276.7 538.7h0M291.7 546h0M301.7 525h0M305 525h0M316 525h0M325 526h0M302.7 533.3h0M310 539.3h0M362.3 522.7h0M350 536.7h0M346 540h0M224 564.3h0M218.3 561h0M95.7 443.3h0" fill="none" stroke="#4682B4" stroke-width="4.6" stroke-linecap="round"/>
<path d="M82 500H375.7" stroke="#111" stroke-width="1.8" stroke-dasharray="8.6 2.15 1.35 2.15" fill="none"/>
<path d="M145.7 323.3V575" stroke="#0000ff" stroke-width="2.0" stroke-dasharray="7.25 3.3" fill="none"/>
<path d="M95 345.3C98.7 356.8 116.3 411.3 120 422.7C123.7 434.1 141.9 488.6 145.7 500C147.1 504.2 147.5 509 150 512.7C153 517 156.8 521.5 161.7 523.3C167.3 525.4 174 522.7 180 523.7C186.8 524.7 193.4 527.4 200 529.3C206.6 531.3 213.3 533.9 220 535.3C230.9 537.7 242.2 539.8 253.3 541C265.3 542.3 288 543.7 300 544.3C312 545 350.3 546.5 362.3 547" stroke="#F66E6C" stroke-width="2.8" fill="none" stroke-linecap="round" stroke-linejoin="round"/>
<path d="M82 323.3V575H375.7" stroke="#222" stroke-width="1.3" fill="none"/>
<text x="146.7" y="485.1" font-size="12.5" fill="#000">77.51</text>
<text x="69" y="378.5" font-size="15.4" text-anchor="end" fill="#222">0.2</text>
<text x="69" y="441.8" font-size="15.4" text-anchor="end" fill="#222">0.1</text>
<text x="69" y="505.2" font-size="15.4" text-anchor="end" fill="#222">0.0</text>
<text x="69" y="569.5" font-size="15.4" text-anchor="end" fill="#222">-0.1</text>
<text x="94" y="599.5" font-size="15.4" text-anchor="middle" fill="#222">0</text>
<text x="162.3" y="599.5" font-size="15.4" text-anchor="middle" fill="#222">100</text>
<text x="230" y="599.5" font-size="15.4" text-anchor="middle" fill="#222">200</text>
<text x="297.7" y="599.5" font-size="15.4" text-anchor="middle" fill="#222">300</text>
<text x="365.7" y="599.5" font-size="15.4" text-anchor="middle" fill="#222">400</text>
<text x="228.3" y="622" font-size="18.8" text-anchor="middle" fill="#222">eGFR</text>
<text transform="translate(34.5 447.7) rotate(-90)" font-size="18.8" text-anchor="middle" fill="#222">SHAP value</text>
</g>
<g>
<path d="M494 357.7 L496.7 357.7 L497.7 440 L511.7 442 L511.7 470 L503 477.7 L500 462.7 L495.3 446.7 L493.7 399.3Z" fill="#4682B4" stroke="#4682B4" stroke-width="3" stroke-linejoin="round"/>
<path d="M516.3 395.3 L530.7 388.7 L546.7 392 L547.3 413.3 L530.7 423.3 L516.7 427.7Z" fill="#4682B4" stroke="#4682B4" stroke-width="3" stroke-linejoin="round"/>
<path d="M502 490.3h0M503.1 486.3h0M499.4 453.5h0M502.1 439.8h0M498.7 475.8h0M508.7 453.3h0M494 387.6h0M501.8 486h0M499.4 481.5h0M506.8 435.1h0M497.7 443.8h0M508.8 443.5h0M492.4 445.5h0M511.1 434.4h0M509.3 448.9h0M495.1 433h0M494.6 362.1h0M495.9 404.5h0M496.6 397h0M501.9 499h0M492.7 418.7h0M504.4 456.1h0M507.1 452.3h0M499.8 448.2h0M500.9 485.4h0M498.8 457.3h0M502.8 488.2h0M505.3 455.8h0M493.7 392.1h0M506.3 447.1h0M503 480.9h0M493.4 451.2h0M499.9 451.1h0M492.9 403.4h0M505.2 447.4h0M504.2 439h0M496 412.2h0M509.5 458h0M500.7 488.2h0M496.4 436h0M501.5 436.9h0M495.9 355.6h0M502.8 441.5h0M506 470.8h0M496.6 426.5h0M494.1 370.8h0M504 458.3h0M499.2 458.8h0M493.3 433h0M495.5 426.8h0M509.6 443h0M511.4 447.2h0M512.2 435.5h0M512.5 464.2h0M493 364.2h0M500 438.1h0M493.4 434.6h0M500.9 450.4h0M497.1 428.5h0M505.8 476.8h0M497.1 415.6h0M497.3 382.9h0M493.4 428.6h0M499.1 502.3h0M492.8 402.9h0M494.3 353.5h0M497.4 420.3h0M494.6 413.8h0M509 444.5h0M496.5 445.7h0M502.6 452.3h0M500.1 469.5h0M495 366.3h0M509.2 434.1h0M506.9 468.3h0M496.6 391.9h0M511.4 460.2h0M494.3 358.8h0M503.3 447.1h0M494.4 403.6h0M493.2 430h0M501.2 501.8h0M500.1 469.4h0M511.8 439.3h0M497.8 434.3h0M510.1 459.3h0M506.4 477.2h0M501.8 459.5h0M510.9 460h0M504.7 462.4h0M512.1 473.4h0M498.9 456.2h0M501.8 472.6h0M503.4 468.6h0M503.7 470.9h0M493 420.6h0M508.6 441.3h0M497.1 422.1h0M495.1 409.1h0M496.7 405.8h0M504.5 470.3h0M500.5 483.4h0M496.3 456.3h0M503.4 464.9h0M501.9 454.3h0M510.1 467.3h0M494.8 435.1h0M501.2 503.4h0M507.5 468.8h0M501.9 482.8h0M508.6 456.5h0M496 415.2h0M502 474.6h0M502.7 487.7h0M494.5 398.9h0M495.3 430h0M504.2 466.5h0M509.7 462.4h0M505.9 437h0M511.7 461.9h0M492.9 377.3h0M511.3 457.3h0M510.1 442.5h0M509.1 452h0M510.9 451.4h0M501.6 501.9h0M496.7 396.9h0M496.6 352.1h0M497.3 409h0M498.8 491.1h0M499.6 448.3h0M500.9 448.9h0M494.6 400h0M501.1 473h0M509.9 437.4h0M507.7 462.6h0M509.6 461.2h0M502.3 439.7h0M500.4 442.5h0M503.7 465h0M505.5 435.6h0M495 434.9h0M494.8 361.4h0M497.8 392h0M502.6 466.3h0M494.3 439h0M511.6 437.9h0M508.9 441.9h0M506.7 458.3h0M508.9 462.4h0M506.6 443.5h0M504.7 443.7h0M496.1 397.3h0M495.9 442.4h0M507.9 447.7h0M506.2 474.2h0M494.5 412h0M498.2 430h0M509.2 466.6h0M493.1 448h0M500.6 471.9h0M494.5 406.6h0M497.4 437.5h0M505.5 439.2h0M497.2 374.1h0M510.1 438.5h0M496.2 396.6h0M495.7 392.6h0M498.6 483.7h0M494 413h0M495.6 387h0M497.3 391.6h0M496.3 401.9h0M503.4 477.1h0M493.4 393.6h0M502.5 478.1h0M493.2 361.7h0M509.9 448.8h0M493.7 354.2h0M495.7 365.7h0M512.5 453.7h0M503.3 448.9h0M494.9 394.2h0M492.8 432.3h0M495.3 393.1h0M506.2 439.2h0M508 447.5h0M493 378.1h0M494.5 352.2h0M493.5 390.2h0M494.4 441.7h0M509.7 434.4h0M497.3 431.8h0M506.1 444.5h0M501 441.6h0M501.1 501h0M493.6 427.2h0M497.3 415.4h0M505.9 475.3h0M500.3 455.7h0M506.9 455.8h0M499.9 496.6h0M496.1 411.3h0M507.4 475.8h0M510.9 458.5h0M499.7 459.1h0M499.5 445.9h0M503.4 435.8h0M512.7 450.2h0M493.1 361h0M502.6 442.7h0M512.2 449.6h0M511.7 445.4h0M497.9 412h0M499.4 441.5h0M492.7 445.7h0M505.8 438.7h0M502.6 448.2h0M512.4 451.7h0M509.1 457.6h0M494.6 382.8h0M504.6 463.3h0M492.9 447.4h0M503 454.2h0M505.2 469.6h0M493.6 385.6h0M496.5 416.9h0M492.4 448.9h0M506.7 449.4h0M502.1 458.4h0M510.2 437.7h0M493.4 380.3h0M512.6 473.2h0M494.4 366.9h0M510 455.1h0M495.2 357.7h0M496.8 433.5h0M504.6 439.9h0M494.1 388.7h0M492.9 396.9h0M494.8 394.8h0M506.3 455.2h0M494.3 364.5h0M503.3 444.1h0M500.2 475.5h0M495.3 388.8h0M493.1 418.4h0M493.5 368.1h0M493.7 386.9h0M495.9 373.2h0M496.8 425.3h0M493.2 379.3h0M500.4 499h0M501.5 451.7h0M503 472.5h0M494.4 450.3h0M497.6 449.9h0M511.8 468.3h0M499 463.5h0M499.4 468.9h0M504.7 436.8h0M496.6 406.6h0M493.2 386.8h0M503.8 451.5h0M508.2 472.4h0M505.4 454.9h0M493 434.7h0M494 385.1h0M495.1 389.8h0M504.7 440h0M494.7 404.6h0M503.1 472.7h0M497.4 426.2h0M495.8 448.8h0M498.8 462.7h0M508.4 455.5h0M497.5 409h0M505.5 476.2h0M496.2 454.5h0M492.9 449h0M505.3 439.7h0M499.4 465.2h0M497.7 400.6h0M497.4 427h0M500.9 472.6h0M501.9 500.8h0M495.1 357.3h0M500.1 493.6h0M508.7 471.3h0M502 436.1h0M495.7 360.9h0M501.2 469.6h0M502.1 439.4h0M510.1 452.1h0M501.7 495.8h0M496 434h0M498.5 443.4h0M504.6 464.6h0M495.8 372.1h0M492.7 449.8h0M493.1 441h0M495.3 385.2h0M493.1 443.9h0M502.8 455.1h0M511.2 470.6h0M508.2 468.7h0M496.9 386.7h0M492.8 421.2h0M501.8 461.7h0M492.8 451.2h0M504.4 466.7h0M492.8 416.6h0M492.5 445.1h0M499.9 502.6h0M502.2 495.3h0M495.8 366.7h0M497.9 400.3h0M497.4 422.7h0M504 465.1h0M505.9 462.5h0M500.6 478.5h0M509.9 435.8h0M501.2 450.8h0M498.5 442.5h0M496.3 445h0M505.1 461.2h0M511.1 454.2h0M496 441.7h0M505.5 476.9h0M494.9 445h0M526 391.1h0M548.9 400.6h0M529.8 396.1h0M542.9 404.8h0M546.6 399h0M524.4 393.9h0M544.1 418.9h0M534.2 391.3h0M540.5 420.6h0M522.9 421.5h0M518.1 421.6h0M545.2 417.3h0M548 414.4h0M536 417.3h0M522.1 420.1h0M535 424.7h0M524.5 389h0M527.4 415.2h0M536.2 388.1h0M515.4 390.3h0M518 391.2h0M518.2 417.4h0M548 388.6h0M535.9 387.8h0M515.9 411h0M547 415.2h0M517.8 409.8h0M518.1 427.7h0M529.7 385.8h0M517.1 427.1h0M537.7 394.2h0M521.7 418.5h0M542.8 396.9h0M516.7 429.7h0M544.3 416.6h0M541.9 398.3h0M530.8 387.7h0M537.3 393.2h0M527.8 422.3h0M547.8 407.7h0M528.7 408.4h0M520.8 395.2h0M538.2 411.1h0M532.7 419.5h0M516.8 406.9h0M539.7 400.2h0M523.1 416.2h0M525.7 393.8h0M531.8 414.8h0M529.7 419.8h0M516 420.4h0M523 422.3h0M529.9 402.3h0M525.5 415.4h0M542.1 410.9h0M521.9 396.3h0M542.3 396.9h0M527.6 391.6h0M539.7 387.1h0M518.5 402.4h0M539.1 386.2h0M522.6 391.4h0M521.4 399.3h0M521.4 426.6h0M541 407.9h0M537.8 406.9h0M530.5 424.6h0M535.3 423.7h0M535.1 421.5h0M526.7 389.3h0M536.9 403.1h0M544.5 399.9h0M531.7 421.3h0M519.2 398.1h0M527.5 401.2h0M517.5 393.9h0M531.4 410.4h0M527.9 385.7h0M524.9 422.5h0M536.7 395.3h0M546.4 388.9h0M515.8 419.8h0M521.4 425.1h0M532.5 412.6h0M528.1 412.8h0M529.1 403.9h0M538.4 403.3h0M526.4 413.3h0M537.9 399.1h0M525.2 417.3h0M535.1 394.9h0M541.9 401.3h0M528.6 392.8h0M540.6 386.6h0M547 391.8h0M534.1 421.4h0M539.6 398.3h0M534.7 414.5h0M541.3 411h0M545.8 406.6h0M538.4 400.6h0M519.7 399.5h0M537 400.6h0M522 420.1h0M534.1 416h0M531.3 389.5h0M532.3 415h0M540 416.7h0M548.4 392.3h0M524.8 398.1h0M523.2 393h0M530.3 404.7h0M516.3 423.7h0M536.4 422.6h0M518.1 403.2h0M541.2 404.6h0M517.7 408.6h0M541.5 394.5h0M534 414.1h0M538.5 391.7h0M546.3 394.1h0M521.4 402.1h0M533.2 400.3h0M542.3 413.2h0M524 413.5h0M530.6 411.3h0M534 401.6h0M540.8 408.1h0M522.4 397.4h0M517.8 410.8h0M542.6 405.9h0M525.9 411.4h0M533.6 389.7h0M528.9 402.1h0M532.7 403.6h0M533.3 424.2h0M537 417.7h0M523.2 428h0M520.4 411.9h0M533.6 404.3h0M533.7 405.3h0M528.9 400h0M535.4 419.9h0M534.7 419.9h0M522.3 419.1h0M530.3 396.1h0M544.7 397h0M546 399.3h0M522.5 427.4h0M542 386.5h0M547.6 391.5h0M534.5 391.9h0M528.9 401.9h0M534.6 394h0M530.7 402.1h0M530.9 396.3h0M526.4 401.2h0M542.1 394.3h0M540.6 392.2h0M527.6 387.6h0M526 425h0M523.3 409.3h0M533.5 398.9h0M546.5 414.8h0M523.9 417.8h0M542.5 408.1h0M524.8 407.8h0M549 408.2h0M538.7 390.6h0M521 399h0M528.9 414.7h0M530.7 408.9h0M545.6 401.4h0M545 403.5h0M521.9 402.5h0M519.9 407.3h0M536 395.3h0M520.3 414h0M542.2 418.7h0M530.7 403.2h0M526.6 402.8h0M539.5 416.5h0M535.1 410.6h0M522 413.9h0M520.2 400.2h0M516.6 423.4h0M522.1 427.7h0M538.9 414h0M519.6 430.9h0M529.6 421h0M528.9 386.3h0M530.1 415.6h0M535.9 403.7h0M532.9 407.2h0M530.2 400.8h0M533.6 409h0M546.6 388.5h0M538.4 398.1h0M532.1 385.6h0M543.9 406h0M542.8 403.2h0M530.4 406.4h0M525.1 395.4h0M539.9 399.6h0M547.2 403.8h0M542 389h0M524.1 406.8h0M515.4 414.7h0M541.7 394.2h0M537.7 402.5h0M520.7 404.8h0M517 413.2h0M528.6 408.5h0M534.6 394.3h0M525.5 406.4h0M517.6 419.3h0M527.5 419.9h0M524 409.1h0M519.9 405.2h0M516.8 406.6h0M548 393.5h0M519.3 420.3h0M542.1 400.2h0M526.3 415.5h0M516.3 420.3h0M527.4 419.3h0M524.6 423h0M532.5 414.7h0M545.8 389.6h0M543.5 398.3h0M540.1 394.8h0M536.9 400.7h0M541.5 389.2h0M532.5 415h0M532.4 411.2h0M542.6 396.2h0M535.8 412.1h0M526.4 386.5h0M517.2 416.4h0M531.8 393.1h0M517.5 398.3h0M519 415.9h0M539.3 401.8h0M535.2 411.5h0M528.2 404.9h0M548.9 401.5h0M541.7 405.1h0M546.1 416.8h0M540.8 391.2h0M526 412.4h0M536.9 400.2h0M523.2 414.3h0M519.9 420.7h0M531.1 406.2h0M522.9 427.1h0M535.6 393.8h0M544.8 416.9h0M522.1 405.3h0M517.6 407.3h0M516.4 426.2h0M547.6 395.2h0M531 391.1h0M516.8 393.9h0M540.6 412.4h0M526.3 425.1h0M541.8 407.4h0M547.6 408.3h0M530.3 404.4h0M528.1 420.1h0M544.1 418.4h0M548.7 403.4h0M530.9 398.7h0M515.4 405.1h0M527.7 388.4h0M548.1 402.6h0M538 391.4h0M541.5 412.5h0M535.6 415.6h0M546.8 407.1h0M542.2 407.7h0M567.3 399.6h0M578.4 389.8h0M558.1 388.4h0M563.5 417.5h0M561.6 397.5h0M549.3 404.4h0M575.6 414.1h0M558.3 403.4h0M559.4 412.7h0M556.3 408.4h0M553.6 422.2h0M580.1 400.9h0M578.8 418.7h0M557.2 385.5h0M559.7 390.1h0M558.5 417.1h0M550.3 387h0M557.5 385.1h0M553.8 402.9h0M562.8 391.8h0M561.4 424.3h0M581.2 417.4h0M576.3 400.9h0M558.1 407.7h0M566.7 406.8h0M562.4 417.8h0M557.2 394.1h0M561.2 417.1h0M551.1 383.9h0M573.4 412.7h0M565.2 384.9h0M571.7 425.6h0M557.8 425h0M553 424.3h0M550.1 405.6h0M579.4 417.5h0M554.4 402.3h0M570.8 418.1h0M555.6 398.1h0M557.6 426.2h0M570.8 414.5h0M563.7 425.3h0M580.2 407.6h0M579.1 389.6h0M562.5 408.2h0M581.3 396.9h0M563.1 393h0M561 396.2h0M554.7 391.4h0M561 391.3h0M559.6 407.9h0M563.5 399.7h0M564.5 394h0M566.8 424.6h0M575.5 393.5h0M561.3 419h0M574.3 407.4h0M549.2 400.7h0M554.6 428.3h0M552.4 402.8h0M580.7 406.2h0M572.6 415.8h0M571.4 387.1h0M562.1 429.3h0M561.6 396.2h0M551.7 385h0M563.3 407.1h0M553.3 389.1h0M561.8 402.1h0M564.6 420.6h0M553.9 406.6h0M563 397.1h0M552.4 388.8h0M559.8 389.1h0M581.9 395.6h0M581.5 405.4h0M551 388.6h0M562.9 387.7h0M550 406.1h0M549.9 413.5h0M578.9 386.6h0M565.6 409.2h0M573.2 407.8h0M549.2 389.3h0M573.2 394.2h0M557.9 426.2h0M569 399.6h0M572.3 395.8h0M576.7 399.4h0M569.5 408h0M560.5 391.5h0M550.9 399.5h0M574.4 413.6h0M564.3 414.2h0M569.6 403.9h0M556.8 428.1h0M578.5 387.8h0M552.6 395h0M560.7 421.6h0M563.9 431.4h0M582.7 404.9h0M568.6 414.9h0M573.6 401.6h0M551.6 415.1h0M572.4 401.3h0M568.1 399h0M580.6 394h0M551.7 399.1h0M550.3 420.8h0M572.2 391h0M583.1 387.7h0M591.1 398.7h0M584.5 426h0M592.1 400.2h0M586.8 404.8h0M584.3 417.4h0M595.2 406.4h0M587.2 419.9h0M599.4 410.4h0M592.7 426.4h0M578.9 424.1h0M580.6 418.8h0M591.3 413.9h0M597.3 401.6h0M595.6 397.3h0M580 429h0M585.2 426.6h0M593.5 411.8h0M589.9 428.4h0M580.5 429.5h0M596.7 415h0M581.3 427.9h0M507 429.9h0M506.9 426.5h0M505.7 432.5h0M506.8 434.4h0M506.5 425h0M506 431h0M505.9 428.6h0M505.8 423.1h0M506 436.6h0M506.6 424.9h0M480 401h0M491.3 337.7h0M495.7 335h0M484 442.7h0M487.3 359.3h0M488 362.7h0M604 445.3h0M610.7 452.7h0M606.7 462.7h0M625.7 475h0M637.3 473.3h0M615 505h0M609.3 517.7h0M636.7 517h0M658.3 511.3h0M611.7 547.7h0M616.3 564.3h0M643 561.7h0M746.7 528.7h0M619 426h0M610.7 431h0M606.7 432.7h0M600.7 426h0M546.3 376h0M561.7 377h0M582.3 379.3h0M590.7 385h0M519 444.3h0M524 442h0M525.7 436h0M510 479.3h0" fill="none" stroke="#4682B4" stroke-width="4.6" stroke-linecap="round"/>
<path d="M466.3 435.3H759.7" stroke="#111" stroke-width="1.8" stroke-dasharray="8.6 2.15 1.35 2.15" fill="none"/>
<path d="M514 323.3V575" stroke="#0000ff" stroke-width="2.0" stroke-dasharray="7.25 3.3" fill="none"/>
<path d="M479 448.7C482.9 449.8 486.7 451.2 490.7 452C493.4 452.5 496.3 453.3 499 452.7C502.6 451.8 506.6 450.5 509 447.7C511.7 444.6 512 439.9 513.3 436C514.7 432.2 515.3 427.9 517.3 424.3C520 419.5 523.2 414.6 527.3 411C531.1 407.8 535.9 405.6 540.7 404.3C548.2 402.3 556.3 402.3 564 401C575.8 399 588.8 396.4 600.7 394.3C612.5 392.3 734.8 371.4 746.7 369.3" stroke="#F66E6C" stroke-width="2.8" fill="none" stroke-linecap="round" stroke-linejoin="round"/>
<path d="M466.3 323.3V575H759.7" stroke="#222" stroke-width="1.3" fill="none"/>
<text x="514.7" y="411.8" font-size="12.5" fill="#000">6.45</text>
<text x="454" y="333.8" font-size="15.4" text-anchor="end" fill="#222">0.10</text>
<text x="454" y="387.8" font-size="15.4" text-anchor="end" fill="#222">0.05</text>
<text x="454" y="440.5" font-size="15.4" text-anchor="end" fill="#222">0.00</text>
<text x="454" y="494.5" font-size="15.4" text-anchor="end" fill="#222">-0.05</text>
<text x="454" y="548.5" font-size="15.4" text-anchor="end" fill="#222">-0.10</text>
<text x="469" y="599.5" font-size="15.4" text-anchor="middle" fill="#222">0</text>
<text x="540" y="599.5" font-size="15.4" text-anchor="middle" fill="#222">10</text>
<text x="610.7" y="599.5" font-size="15.4" text-anchor="middle" fill="#222">20</text>
<text x="680.7" y="599.5" font-size="15.4" text-anchor="middle" fill="#222">30</text>
<text x="752.3" y="599.5" font-size="15.4" text-anchor="middle" fill="#222">40</text>
<text x="613.3" y="622" font-size="18.8" text-anchor="middle" fill="#222">Blood glucose</text>
<text transform="translate(410.9 447.7) rotate(-90)" font-size="18.8" text-anchor="middle" fill="#222">SHAP value</text>
</g>
<g>
<path d="M874.7 361 L886.3 351 L889.7 382.7 L894.7 408.7 L902 439 L910.3 461.7 L913 488.7 L896.7 483.7 L892 461.7 L883.3 434 L875.3 396Z" fill="#4682B4" stroke="#4682B4" stroke-width="3" stroke-linejoin="round"/>
<path d="M914 475.3 L926 480.7 L951.3 487 L986.7 494.3 L1021.3 500 L1021.3 506 L986.7 509.3 L934.7 512.7 L925.3 508.7 L917 497.7Z" fill="#4682B4" stroke="#4682B4" stroke-width="3" stroke-linejoin="round"/>
<path d="M886.8 371.2h0M880.9 416.5h0M878.4 346.4h0M903.5 455.8h0M898.3 476.8h0M887.1 398.5h0M894.4 399.7h0M899.3 436.4h0M888.2 361.2h0M887.4 348h0M907.8 486h0M875.7 345.1h0M892.6 453.3h0M888.1 374.3h0M885.4 399.2h0M879.3 396.2h0M893 437.1h0M883.7 419.2h0M883.1 348.7h0M912.5 471.2h0M887.2 365.4h0M899.2 460.6h0M907.5 466.7h0M903.4 472.7h0M884.3 365.5h0M906.9 464.2h0M873.6 392.8h0M880.8 348.4h0M894.5 415.9h0M890.4 440.2h0M895.3 408.1h0M901.7 447.7h0M888.4 417.1h0M902.1 475.7h0M878.1 399.6h0M894 407.9h0M878.5 381.9h0M884.9 366.4h0M908.1 466.4h0M878 350.1h0M902.5 440.4h0M872.7 368.4h0M875.1 365.6h0M888.4 445h0M903.5 458.9h0M913.5 482.8h0M884.4 411.9h0M896 422.7h0M911 486.3h0M891.5 399h0M889.7 415.8h0M907.6 468.2h0M887.7 396.1h0M902.6 473.4h0M889.6 363.4h0M908.4 473.6h0M891.9 428.4h0M893.8 469.9h0M900.5 428.1h0M895.5 432.6h0M881.5 416.4h0M882.7 357.2h0M880.2 413.2h0M880.3 338.3h0M899 451.4h0M882.4 344.4h0M897.4 424.6h0M899.1 433.5h0M888.1 407.9h0M885.5 382.8h0M901.9 451.8h0M885.8 398.7h0M903.9 463.3h0M898.1 441.5h0M897.4 485.4h0M906.4 459h0M889.3 378.5h0M902.1 480.4h0M886.9 371.8h0M894 400.2h0M888.6 387.2h0M888.9 356.1h0M899.3 441h0M905.5 460.5h0M910.4 489.4h0M893.2 457.3h0M894.4 429.7h0M880.2 385.3h0M890 444.7h0M908.9 473.7h0M884.3 365.2h0M894.1 397.8h0M887.9 349.6h0M893.8 476.7h0M894.1 449.7h0M885.4 339.3h0M881.2 354.9h0M884 335.9h0M892.2 431.6h0M891.4 398.7h0M880.2 374.4h0M884.5 407.6h0M877.9 404h0M884.7 439.2h0M880.8 398h0M902.3 475.2h0M873.5 385.5h0M887.7 347h0M873.9 365.5h0M879.6 371.6h0M907.7 479.4h0M886.5 366.2h0M905 466.8h0M894.6 473.5h0M895 462.6h0M881.2 413.6h0M886.4 380.5h0M903.3 485.9h0M899 457.5h0M875.6 371.1h0M880.4 409.4h0M897.6 433.6h0M888.5 433.9h0M875.6 391.5h0M876.6 373.1h0M885.4 402.1h0M893.8 407.9h0M881.9 378h0M888.7 362.4h0M875.2 376.3h0M887.2 365.5h0M888.7 433.9h0M892.5 440.2h0M911.6 487.6h0M898.1 450.8h0M894.7 402.1h0M884 419.8h0M898.9 452.8h0M874.7 387.7h0M877.3 377.7h0M881.5 350.4h0M876.1 345.1h0M900.3 469.2h0M882.1 337.9h0M878.2 351.4h0M907 486.7h0M883.4 393.9h0M898.9 426h0M888.4 396.6h0M886.6 396.7h0M906.1 451.2h0M903.9 465.2h0M877.2 390h0M880.2 401.3h0M894.4 471.7h0M874.5 358.5h0M884.4 374h0M888.3 425.5h0M890.9 421.9h0M904.6 452.1h0M876.7 373.1h0M891.6 447.9h0M893.6 412.9h0M880.5 380.1h0M872.9 382h0M886.2 361.5h0M882.3 397.2h0M905.7 459.1h0M879.7 343.6h0M880.2 410.3h0M886.9 400h0M912.2 481.6h0M903.4 479.8h0M874.7 346.6h0M885.7 440.8h0M886.9 396.2h0M886.8 372.2h0M887.2 431.9h0M903.2 459.1h0M876.3 374.7h0M889.7 424.8h0M898.3 434h0M910.2 472.9h0M875.4 379.4h0M906.2 455.3h0M883.3 338.3h0M905.7 471.5h0M888.3 427.3h0M882.5 403.2h0M891.7 399.3h0M893.6 405.8h0M892.5 468.3h0M889.4 369.6h0M910.8 467.7h0M902 453.7h0M885.2 371.1h0M886.6 443.7h0M885.6 413h0M880.5 379.9h0M885.2 366.9h0M874.2 365.7h0M911.9 488.2h0M907 489.6h0M891 391.1h0M912.4 467.4h0M890.2 416h0M879.9 343.6h0M892 440h0M875.9 398.8h0M905.4 445.2h0M888.8 379.9h0M885 409.2h0M875.6 375.6h0M893.7 433.1h0M886.6 386.5h0M889.5 366.6h0M879.9 368.7h0M895.1 411.5h0M899.2 462.5h0M907.6 482.1h0M876.2 348.7h0M892 403.2h0M886.2 387.3h0M898.4 437.1h0M894.4 431.7h0M881.8 392.2h0M895.5 429h0M907.1 485h0M875.7 344.7h0M875 378.8h0M881.5 340.4h0M911.9 478.4h0M907.5 475.5h0M887.2 420.6h0M884.2 417.2h0M884.9 427h0M911 481.9h0M910.9 462.7h0M892.1 465.3h0M898 419.3h0M890.6 390.2h0M905.9 477.2h0M892.5 405.2h0M892.9 450.7h0M888.7 359.3h0M879.8 363.6h0M894.2 400.5h0M886.4 438.1h0M883.7 393.1h0M901.7 442.6h0M874.3 391.3h0M891.8 413h0M886.2 346.2h0M903.7 460.5h0M884.5 439.4h0M873.2 387.9h0M874.1 384.1h0M901.1 482.9h0M883.7 386.1h0M872.6 371.4h0M897.4 432.2h0M876.7 343.4h0M884.5 422.8h0M901.8 434.8h0M913.2 485.9h0M898.7 457.5h0M891.1 421h0M880.5 405.6h0M889.2 363.3h0M884.2 364.2h0M881.4 388.4h0M876 360.9h0M892.9 456.6h0M884.7 355.1h0M872.5 368.1h0M900 473.4h0M886.6 378.4h0M888.8 382.6h0M907.6 454.9h0M893.2 414.5h0M907.6 467.8h0M894.7 443.7h0M893.5 399.5h0M891 446.8h0M885 351.9h0M899.4 466.8h0M907.5 482.8h0M881.8 356.5h0M886.5 406.9h0M895.2 453.6h0M883.2 425.7h0M895.4 438.7h0M909.2 487h0M888.2 443.1h0M897.3 460.6h0M887.3 367.6h0M886.6 353.4h0M902.1 433.6h0M888.6 443.4h0M903.2 474.5h0M897.7 483.9h0M875.3 388.4h0M903.8 448.4h0M912.8 475.4h0M877.6 343.4h0M883 399.3h0M888.9 373.2h0M880.5 347.4h0M897.1 431.7h0M902 446.8h0M909.2 484.3h0M906 470.9h0M901.9 446.2h0M881 369.1h0M899.3 426.1h0M885.3 403.9h0M886.5 436.9h0M888 391.8h0M883.9 346.5h0M882.7 377.2h0M892.6 424.4h0M886 373.7h0M884.3 398.8h0M886.1 439.1h0M885 336.3h0M875.1 378.9h0M880.6 366.4h0M884.1 382.4h0M884.7 374.9h0M907.9 478.2h0M902.3 448.3h0M892 391.6h0M885.5 362.1h0M882.9 399.8h0M903.7 460.9h0M900.8 452h0M885 336.8h0M907.9 459.3h0M902.9 485.5h0M913.3 485.7h0M884.6 414.8h0M873.8 352.3h0M880.8 418.1h0M884 392.5h0M902.7 481.1h0M881.9 411.6h0M896.2 427.6h0M889.4 382.7h0M895.4 470.7h0M895.5 406.2h0M881.2 342.8h0M913 480.4h0M884.7 433.6h0M873.3 367.7h0M908.3 460.9h0M882.4 420.4h0M889.2 357.9h0M879 358.8h0M912.1 484.8h0M903 454.3h0M881.9 352.7h0M894.7 473.5h0M903.2 475.1h0M888.8 414.5h0M893.5 434.5h0M896.5 411.2h0M880.4 387.5h0M878.8 372h0M886.8 438.4h0M888 432.2h0M896.3 474.8h0M890.7 430.5h0M881.2 427.9h0M909.9 460.5h0M906.2 463.6h0M876.6 405.6h0M883.3 409.2h0M884.9 427.2h0M892.7 435.3h0M883.8 387.7h0M892.6 428h0M876.3 391.4h0M893.4 395.2h0M889.5 434.8h0M902 460.8h0M880.3 421.3h0M899.2 425.3h0M902.7 478h0M889 414.8h0M910 485.5h0M882.2 372.7h0M893.8 462h0M889.3 440h0M895.4 482.4h0M895 479.4h0M880 357h0M882.9 349.4h0M883.8 420.3h0M903.6 484.8h0M880.5 360.1h0M879.2 362.7h0M879.6 387.9h0M902.1 486.9h0M886.5 346.9h0M909.5 469.4h0M889.3 442.2h0M889.3 434.4h0M892.4 419.9h0M892.4 399.5h0M895.8 469.5h0M889.2 433.6h0M881 353h0M906.2 453.5h0M885.4 436.9h0M909 473.1h0M888.6 350.8h0M889.4 410.7h0M881.5 409.5h0M875.9 358.9h0M902.1 483.2h0M891.9 437.9h0M881.9 371.5h0M873.2 371.3h0M876.8 372.4h0M896.2 476.8h0M889.3 448.5h0M882.8 393.6h0M889.2 381.1h0M905 471.6h0M898.9 474.7h0M912.9 487.6h0M887.8 349.9h0M892.3 452.5h0M894.6 484.9h0M885.6 382.7h0M882.5 420.8h0M890.8 448.3h0M899.1 448.7h0M887.6 437.1h0M904.5 471.9h0M883.9 397.8h0M887.8 418.8h0M890.6 422.3h0M888.1 422.5h0M881.8 377.6h0M900.7 473.4h0M880.8 372.5h0M877 388.8h0M897.1 464.7h0M877 338.7h0M891.1 413.9h0M882.2 373.2h0M895.8 475.5h0M874.3 356h0M880.8 377.2h0M886.9 371.6h0M906.7 486.8h0M878.1 404.2h0M879.3 346.4h0M883 355.6h0M891.6 387.8h0M897.3 456.8h0M892.5 422.9h0M878.3 383.4h0M881.7 378h0M891.6 465.7h0M908.2 452.5h0M889.9 430.5h0M874.2 387.5h0M902.2 464.9h0M892.6 445.2h0M891.5 452.6h0M901.9 451.1h0M897.5 448.3h0M912.9 473h0M888.1 361.8h0M883.1 369.3h0M876.4 350h0M880.7 337.6h0M873.9 363h0M898.5 451.2h0M879.8 380.7h0M909.4 477.6h0M907.6 466.1h0M892 463.6h0M891.3 446.2h0M886.7 346.3h0M881.9 388.5h0M901.2 470.1h0M912.4 487.8h0M876.6 394h0M874.7 382.5h0M887.3 372.6h0M904.8 468.6h0M893.3 405.8h0M884.4 379.2h0M889.9 442.5h0M905.7 465.3h0M884.9 369.4h0M903.4 458.1h0M889.8 437.8h0M896.1 475.5h0M900.3 476.8h0M885 429.5h0M884.2 427h0M900.8 442.1h0M901.4 468.7h0M886.7 381.8h0M899.5 454.2h0M900.2 467.5h0M879.1 386.6h0M891.2 449.6h0M893.6 422.1h0M905 458.9h0M890.2 409.5h0M886.7 396.7h0M896.7 483.8h0M886.3 400.6h0M875.8 350h0M880.3 398.9h0M868.9 388.8h0M881.8 436.2h0M868.4 396.6h0M865.6 436.1h0M878.7 421.9h0M870.4 393.1h0M878.2 414.4h0M872.4 362.6h0M872.9 406.5h0M870.5 373.1h0M873.2 387.4h0M864.8 391.2h0M874.5 400.5h0M875.2 407.6h0M867.5 381.5h0M863.5 362.7h0M867.2 395.3h0M877.1 415.2h0M869.4 431.3h0M870.4 407h0M867.6 436.1h0M865.2 374.5h0M863.6 391h0M871 361.6h0M868.5 423.6h0M872.6 413.7h0M864.1 424.1h0M869.2 367.9h0M872.7 437.1h0M867.8 422h0M866.3 399.1h0M873.4 390.6h0M867.3 378.3h0M869.9 379.8h0M868.1 365.4h0M882 442.6h0M868.4 387.6h0M877.1 410.9h0M868.4 440.4h0M880.4 444.2h0M879.1 420h0M865.4 371h0M877.8 423.7h0M864.2 412.5h0M871.7 406.4h0M866.1 381.6h0M883 439h0M865.5 390.8h0M866.9 395.9h0M870.6 366.1h0M863.7 382.8h0M865.3 378.2h0M871.4 415.7h0M869.9 408.7h0M868.7 421.4h0M871.2 369.1h0M871.9 437.5h0M877.3 418.3h0M869.4 387.1h0M873.1 428.3h0M876.5 435.9h0M871.8 363.4h0M866.6 407.4h0M875.3 440.5h0M867 397.4h0M874.4 424.6h0M867.7 370.6h0M865.3 434.1h0M869.5 362h0M872.3 437.1h0M867.8 410h0M864.6 431.6h0M873.7 425.8h0M878.9 423.8h0M869.9 392h0M880.9 427.1h0M869.9 394.1h0M877.4 414.7h0M876.4 422.7h0M873.3 376.4h0M864.5 434.5h0M876 434.2h0M863.8 417.8h0M881 436.3h0M880.7 435.1h0M868.3 411.9h0M865.1 443.5h0M865.7 382.7h0M865.6 425.7h0M864 390.7h0M864.8 397.4h0M876.4 428.5h0M865.3 394.9h0M870.4 423.8h0M870 428.2h0M868.4 419.6h0M866.2 411.2h0M869.1 359.7h0M866.9 377.5h0M875.2 421.7h0M879.2 430.9h0M872.3 389.6h0M870.2 379.4h0M863.8 402.9h0M873 441.3h0M874 435.7h0M864.7 422.1h0M870.5 383.1h0M868.4 386.6h0M870.6 398.1h0M865.3 424.8h0M869.5 382.2h0M869.1 443h0M864.9 434h0M867.8 396.9h0M875 423.9h0M863.5 387.7h0M872.6 420.8h0M872.4 428.9h0M867 400.5h0M867.9 430.9h0M871.7 430.3h0M869.6 368.7h0M873.6 393.8h0M877.4 430.5h0M872.2 404.5h0M866.7 444.6h0M872.6 419.7h0M870.3 353h0M864.3 376.3h0M873.8 421.8h0M868.5 380.1h0M865.3 381.9h0M875.9 430.3h0M867.3 441.5h0M875 421.9h0M865.7 401.9h0M867.1 361.2h0M870.3 397.3h0M876.6 440.7h0M926.3 483.2h0M988.1 512.8h0M979.7 508.5h0M951.3 515.1h0M1040.9 504.1h0M1034.5 501.3h0M1015.1 498.3h0M922.6 492.1h0M972.4 498.9h0M1043.7 503.3h0M1025.4 506.1h0M937.5 487.6h0M930.7 478.6h0M946.8 492h0M993.1 500.6h0M931.1 505.3h0M1031.9 505.3h0M971.6 498.3h0M946.8 494.1h0M978.2 491.8h0M947.6 484.3h0M948.1 490.3h0M962.3 506.3h0M949.9 492h0M941.4 504.8h0M980.6 510.7h0M951 493.1h0M961.3 486.4h0M921.5 508.7h0M940.1 483.9h0M949.2 489.6h0M1007.2 498.4h0M989.9 506.7h0M914.9 499.8h0M921.7 504.8h0M1024.6 502.7h0M977.7 506h0M925.8 503.5h0M927.2 514.7h0M928.8 480.7h0M1039.4 504.1h0M953.2 508.9h0M920.4 479.3h0M948 513.9h0M1005.3 508h0M1002.1 504.8h0M913.7 492.3h0M937.1 503.1h0M1044.2 502.6h0M916.8 490.2h0M966 495.9h0M967.2 512.1h0M929.4 502.1h0M971.4 501.7h0M941.5 505h0M934.7 481.2h0M1008.2 507.9h0M981.1 511.2h0M988.3 500h0M924.3 503.7h0M934.2 508.7h0M916.8 502.9h0M974.8 494.8h0M948 500.8h0M937.5 503.9h0M941.2 486.8h0M925.1 477.3h0M931.5 506.7h0M949.9 510h0M1015 507.7h0M919.3 478.3h0M1027.4 504.2h0M933.2 514.5h0M920.6 481.4h0M1006.6 502.5h0M992.2 507.7h0M917.1 481.7h0M959.7 499.1h0M914.3 476.4h0M939.6 501.4h0M928.8 501.3h0M930.9 502.7h0M1040.5 501.4h0M954.5 498.9h0M1002.4 505.1h0M917.4 489h0M968.9 503.2h0M925.3 495.7h0M1041.5 504.8h0M921.9 476.5h0M984.2 505.5h0M944.3 493h0M915.7 482.7h0M945 511.9h0M1031.9 506.6h0M914.2 481.1h0M980.3 497.2h0M953.6 514.2h0M949.5 513.1h0M1009 502.3h0M925.8 499.5h0M929.5 508.6h0M946 486.8h0M946.8 487.1h0M959.1 506.8h0M954.6 504.9h0M946.3 511.1h0M966.6 502.3h0M977 504.9h0M921 476.3h0M957.3 503h0M975.6 502.5h0M951.4 499.7h0M950.5 502.1h0M921.4 509.6h0M1001.9 496.6h0M1039.5 500.6h0M938.9 503.3h0M927.9 511.8h0M987.5 493.5h0M989.9 511.2h0M1033.6 503.2h0M1004.4 494.6h0M933.2 488.1h0M986.3 510.6h0M956 507.1h0M936.6 502.1h0M926.9 480.4h0M976.3 505.5h0M981 511.1h0M941 514.9h0M996.8 507.8h0M1012.2 505.7h0M1017.2 505.8h0M938.1 484.9h0M977 497.3h0M986.9 497.3h0M1006.6 497.8h0M1020.7 500.6h0M925.3 506.4h0M914 498.5h0M954.1 508.3h0M925 497.3h0M1019.6 500.8h0M975.2 494.6h0M929.9 509.8h0M916.7 477.8h0M950.4 503.1h0M988.7 505.1h0M931.7 500.7h0M914.2 495.3h0M936.8 515.5h0M918.4 493.9h0M959.7 504h0M1011.5 502.5h0M942.5 501.9h0M928.6 491.6h0M920.2 505.8h0M1024.3 498.7h0M969.5 505h0M1028 504.9h0M944.1 504.8h0M997.8 510.2h0M935.5 499.3h0M923.6 484.7h0M958.7 487.8h0M965.9 488.1h0M967.4 499.9h0M1005.2 509.4h0M921 490.2h0M954.9 502.2h0M932.7 501.7h0M946.9 515.2h0M1012.4 501.6h0M943 484.8h0M977.1 490.9h0M957 494.9h0M929.9 502.7h0M999.6 504.2h0M966.6 509.3h0M985.5 495.5h0M954.2 486.4h0M965.6 512.3h0M933.7 516.5h0M959 492.2h0M974.8 504.8h0M963.6 496.1h0M968.6 503.6h0M946.5 503.2h0M1003.8 507.6h0M966.7 503.4h0M914.8 491.3h0M934 503h0M1003.4 505.6h0M1023.8 499.3h0M954.5 503.4h0M926.1 478.3h0M946.6 495.9h0M1002.6 508.2h0M917.6 474.5h0M1025.4 505.3h0M948.9 487.4h0M992.3 493.7h0M938.3 494.1h0M977.6 496.3h0M952.7 497.8h0M936.6 500.3h0M937.2 509.3h0M918.4 474h0M914.6 500.2h0M964.1 514.2h0M935.2 516.5h0M955.2 495.6h0M1019.2 506.9h0M951.3 506.5h0M937.8 501.8h0M1003.7 504h0M939.5 493.1h0M1033.3 504.5h0M955.2 504.6h0M1004 500h0M989.9 505.2h0M963.6 492.1h0M920 487.4h0M941.9 500.9h0M1036.6 500.8h0M942.8 498.2h0M966.6 507.5h0M950.9 506.7h0M1027.9 506.1h0M925.7 496.2h0M936.1 494.5h0M944.7 512.8h0M951.9 493.2h0M1012.7 499.1h0M985.4 511.4h0M944.9 512.2h0M968.1 509.2h0M930.3 484.7h0M994.1 507.1h0M995.2 508.5h0M914.3 488h0M970.1 509.5h0M952.8 511.1h0M944.5 512.9h0M944.2 495.6h0M944.8 498.9h0M929.5 496.2h0M927.7 482.8h0M981.8 493.1h0M985.2 492.8h0M932.9 500.5h0M919.8 494h0M978.3 495.2h0M1035.5 504.5h0M919.9 476.3h0M949.5 489.1h0M1000.4 503.8h0M916.3 499.9h0M957.2 500h0M1031.2 502.5h0M958 502.2h0M933.6 505.8h0M963.4 499.7h0M925.6 482.8h0M928.2 504.6h0M951.3 509.4h0M997.8 510.2h0M953.7 489.7h0M967.5 507.2h0M1017.8 501.9h0M1016 502.8h0M932 484.9h0M921.9 498.1h0M947.3 489.7h0M973.7 500.4h0M966.1 493.4h0M939 496.4h0M922.3 498.9h0M996.7 500.6h0M1011.3 505.4h0M983.5 505.3h0M955.3 487h0M960.2 508.9h0M912.5 477.2h0M1040.1 502.1h0M984.4 500.7h0M956.2 509.2h0M1013.6 505.6h0M1038.5 502h0M1033.3 503.6h0M968.2 488.7h0M1008.2 500.9h0M945.3 488.5h0M915.6 482.8h0M979.9 503h0M938.5 483.8h0M1001.6 507.3h0M988.7 499.5h0M984.5 495.4h0M912.6 473.8h0M938.4 493.1h0M934.3 488h0M1008.3 508.9h0M972.3 509.8h0M924.3 493.7h0M961.1 492.6h0M967.2 505.8h0M927.8 489.9h0M980.6 494.3h0M988.8 502.3h0M971 503.6h0M943.4 494.9h0M937 490.3h0M987.1 492.1h0M932.4 508.3h0M986.7 504.6h0M944.7 505.2h0M932.9 509.5h0M1004.4 502.3h0M942.1 496.9h0M956 510h0M948.5 494.1h0M936.7 502.1h0M954.8 487.4h0M1018.4 505h0M952.7 497.5h0M914 497.8h0M1046.5 502h0M948.8 501.7h0M940.6 502.5h0M1021.5 498.3h0M966.3 496.9h0M934.2 503.3h0M944.8 496h0M1017.5 505.8h0M953.9 500.5h0M934.2 514.8h0M1042.8 501h0M946.3 482.8h0M917.6 495.1h0M973.6 491.3h0M932.1 489.1h0M961.9 510.8h0M935.2 488.3h0M985.2 506.7h0M1038.1 505h0M1025.8 499.6h0M935.4 484.2h0M1011.4 501h0M994.6 495.5h0M925 508.6h0M926.7 491.1h0M1004.4 500.8h0M946.6 506.8h0M946.9 505h0M929.4 510.4h0M991.7 506.7h0M942.3 491.5h0M982.4 504.2h0M978.9 495.7h0M933.2 500.8h0M1049.5 503.6h0M963.1 512h0M981 504.1h0M996 511.1h0M1021.1 505.3h0M970.1 509.1h0M959.5 485.8h0M1007.8 496.5h0M966.6 513.7h0M982.4 494.2h0M940.2 486.1h0M914 490h0M991.1 502h0M996.3 496.9h0M957 489.8h0M1014.2 497.7h0M942.8 487h0M914.4 479.7h0M1040.8 503.2h0M1006.4 500h0M1015.7 508.1h0M1035.4 503h0M944.9 515.3h0M921.1 502.3h0M917.8 502.4h0M931.9 507.9h0M956.8 500.7h0M1002.8 500.6h0M941.2 486.7h0M949.7 487.7h0M955.2 488h0M973.3 514h0M967.1 496.8h0M1022.9 502.4h0M948.3 504.2h0M951.3 500.4h0M929.8 514.4h0M945.3 497.7h0M967.5 495.1h0M938.7 510.4h0M988.6 511.7h0M929.6 498.4h0M954.1 499.8h0M926.3 512.3h0M989.6 497.5h0M961.8 495.1h0M913.5 493.9h0M966.6 492.5h0M979.8 492.9h0M1022.8 499.1h0M949 490.8h0M922 476.4h0M939.9 481.4h0M930.5 485.7h0M957.7 497.6h0M990.8 499.6h0M946.7 499.4h0M965.3 501.6h0M932.8 506.7h0M1047.8 503.7h0M980.7 500.8h0M931 503.9h0M951.7 493.8h0M915.2 486.8h0M967.4 498.3h0M991.5 507.5h0M976.7 512.4h0M978.7 508.7h0M978.7 497h0M931.6 514.2h0M991 493.1h0M981.2 503.5h0M967.7 487.8h0M950.5 499.2h0M955 501.7h0M941.1 508h0M944.8 514.9h0M976.4 494.8h0M916.4 491.5h0M928.9 504.6h0M1008.5 509.5h0M992.5 495.8h0M1000.7 505.8h0M933.9 493.7h0M917.2 476.2h0M935.8 483.1h0M1014.1 505.7h0M964.6 489.6h0M967.5 508.9h0M938.3 481.4h0M934 490.1h0M963.1 506.4h0M1004 505.5h0M961.2 492.3h0M1028.5 501.7h0M951.3 514.7h0M1019.2 504.6h0M938.9 495h0M920.7 501.3h0M1000.7 496h0M931.1 481.6h0M963.1 500.5h0M942.9 507.4h0M979.7 510.2h0M950.7 495.4h0M923.7 491.9h0M959.4 496.1h0M924.1 490h0M1025.2 508h0M940 488.6h0M1013.7 504.9h0M1006.8 495.3h0M925.1 479h0M937.5 508.5h0M967.9 505.2h0M994 499.6h0M966.4 487.3h0M935.6 479.9h0M923.3 467.7h0M924 473.6h0M923.4 466h0M923.5 457.7h0M923 465.3h0M923.2 465.8h0M923.2 455.8h0M923.9 456.8h0M923.3 468h0M923.6 474.3h0M923.5 473.5h0M923.2 471.8h0M923.2 471.3h0M923.3 463.6h0M923.7 472.2h0M923.5 458.6h0M923.2 472.9h0M923.6 468.9h0M916.7 471.1h0M916.3 464.2h0M916.2 464.6h0M915.8 461.9h0M915.9 466.7h0M916 472h0M916.7 471.1h0M916.7 462.1h0M990.7 539.3h0M1068 549.3h0M1131.3 564.3h0M1083 507h0M1066.3 517.7h0M1054.7 511.7h0M1051.3 500h0M1044 502.7h0M1038 524.3h0M1041.3 520h0M1019.7 492h0M949.7 521h0M966.3 523.3h0M981.3 515.3h0M984.7 526h0M986.3 531h0M993 516h0M1001.3 524.3h0M1009.7 512.7h0M1028 514.3h0M931.3 517.7h0" fill="none" stroke="#4682B4" stroke-width="4.6" stroke-linecap="round"/>
<path d="M850.7 475.3H1144.7" stroke="#111" stroke-width="1.8" stroke-dasharray="8.6 2.15 1.35 2.15" fill="none"/>
<path d="M910.3 323.3V575" stroke="#0000ff" stroke-width="1.4" stroke-dasharray="7.25 3.3" fill="none"/>
<path d="M864 376.7C869.1 387.5 882.9 416.8 888 427.7C893.1 438.5 905 464.6 910.3 475.3C912.5 479.6 914.4 484.5 918 487.7C921.6 491 926.6 493.2 931.3 494.3C938.8 496.2 947 495.8 954.7 496.7C966.6 498.1 989.4 501.2 1001.3 502.7C1013.2 504.1 1119.4 517.2 1131.3 518.7" stroke="#F66E6C" stroke-width="2.8" fill="none" stroke-linecap="round" stroke-linejoin="round"/>
<path d="M850.7 323.3V575H1144.7" stroke="#222" stroke-width="1.3" fill="none"/>
<text x="911.3" y="455.1" font-size="12.5" fill="#000">1.37</text>
<text x="838" y="351.8" font-size="15.4" text-anchor="end" fill="#222">0.15</text>
<text x="838" y="394.8" font-size="15.4" text-anchor="end" fill="#222">0.10</text>
<text x="838" y="437.8" font-size="15.4" text-anchor="end" fill="#222">0.05</text>
<text x="838" y="480.5" font-size="15.4" text-anchor="end" fill="#222">0.00</text>
<text x="838" y="523.8" font-size="15.4" text-anchor="end" fill="#222">-0.05</text>
<text x="838" y="566.8" font-size="15.4" text-anchor="end" fill="#222">-0.10</text>
<text x="858" y="599.5" font-size="15.4" text-anchor="middle" fill="#222">0</text>
<text x="934" y="599.5" font-size="15.4" text-anchor="middle" fill="#222">2</text>
<text x="1009.7" y="599.5" font-size="15.4" text-anchor="middle" fill="#222">4</text>
<text x="1085.3" y="599.5" font-size="15.4" text-anchor="middle" fill="#222">6</text>
<text x="998" y="622" font-size="18.8" text-anchor="middle" fill="#222">Absolute lymphocyte count</text>
<text transform="translate(794.9 447.7) rotate(-90)" font-size="18.8" text-anchor="middle" fill="#222">SHAP value</text>
</g>
<g>
<path d="M1275 506 L1291 496 L1312 498.7 L1331 492.7 L1346.3 491.7 L1346.3 508.7 L1325.3 517.7 L1307.7 522 L1284.3 520 L1275 515.3Z" fill="#4682B4" stroke="#4682B4" stroke-width="3" stroke-linejoin="round"/>
<path d="M1347 446 L1350 442.7 L1350 489.3 L1347 489.3Z" fill="#4682B4" stroke="#4682B4" stroke-width="3" stroke-linejoin="round"/>
<path d="M1315.4 522.9h0M1327.2 519.9h0M1318.6 509.9h0M1303.7 499.1h0M1339.9 489.3h0M1302.9 495.4h0M1318.6 523.1h0M1343.1 513.5h0M1291.7 497h0M1270.5 510.5h0M1272.2 520.1h0M1278 503.5h0M1328.7 498.5h0M1282.9 495.9h0M1309.3 507.5h0M1316.5 523.4h0M1330.5 506.9h0M1309.6 512.6h0M1288.2 512.2h0M1299 496.6h0M1337.6 499.3h0M1276 517.7h0M1282.5 512h0M1288.2 502.5h0M1304.8 503.8h0M1305.2 496.4h0M1317.9 499.2h0M1318.7 520.7h0M1334.9 488.8h0M1311.3 498.7h0M1303.9 498.4h0M1294.9 508.4h0M1322.8 492.9h0M1270.1 516.7h0M1286.7 500.2h0M1323.8 516.3h0M1303.3 507.3h0M1272.6 503.4h0M1321.9 516.8h0M1282.6 515.2h0M1307 523.1h0M1316.6 510.3h0M1308.1 522.1h0M1284.2 507.6h0M1278.3 497.5h0M1295.4 494.5h0M1346.5 508.7h0M1283.5 516.3h0M1297 493h0M1272.9 519h0M1340.8 500.4h0M1284.2 499.9h0M1304.2 525.1h0M1292.4 501.1h0M1310.2 518.7h0M1333.5 517.3h0M1283.9 517.1h0M1270.5 501.5h0M1323.6 512h0M1331.6 503.4h0M1339.2 503.7h0M1316.9 515.5h0M1269.8 504.7h0M1281.5 512.4h0M1317.5 521h0M1305.6 497.5h0M1304.2 499.1h0M1324.9 513.8h0M1315.1 499.5h0M1299.2 512h0M1306.4 513.9h0M1334.6 498.6h0M1325 518.2h0M1278 504.6h0M1271.6 520.4h0M1294.7 508.9h0M1302.1 519h0M1301.6 521.3h0M1283.2 512.4h0M1276.6 507.2h0M1346.8 507.2h0M1281.5 497h0M1332 490.4h0M1282.5 501.1h0M1307.8 508.6h0M1290.4 522.1h0M1269.1 505.3h0M1292.1 520.2h0M1322.7 502.4h0M1274 503.7h0M1282.8 499.3h0M1296.9 516.5h0M1298 509.1h0M1297.3 504.9h0M1281.7 516h0M1317.8 521.4h0M1299.9 493h0M1284.4 522.4h0M1303 524.9h0M1287 504.2h0M1295.5 515.6h0M1314.6 515.5h0M1321.1 495.2h0M1300 515h0M1296.2 508.4h0M1281.1 519.5h0M1321.3 508.7h0M1315.5 513.2h0M1332.3 493.6h0M1314.8 497.7h0M1331.3 499.7h0M1312.1 505.3h0M1335.9 513.3h0M1305.5 512.4h0M1303.9 493.9h0M1292 512.9h0M1275.5 506.9h0M1277.5 506.6h0M1299.9 504.8h0M1326.2 494.7h0M1297.2 517.8h0M1284.6 523.5h0M1315.1 495.3h0M1295.1 493.5h0M1278 499.4h0M1296.1 510h0M1325.1 516.8h0M1285.3 503.2h0M1294.9 495.3h0M1323.2 515.3h0M1289.4 517.1h0M1324.9 494h0M1316 502.1h0M1310.7 521.6h0M1289.7 512.1h0M1306.1 525.6h0M1304.8 496.3h0M1302.4 500.5h0M1292.3 511.5h0M1321.2 521.2h0M1308.1 503h0M1321.3 522.1h0M1311.1 522.3h0M1296.5 494.7h0M1303.3 519.7h0M1272.6 505.8h0M1341.3 504.9h0M1280.9 504.3h0M1340.4 511.4h0M1333.1 502.5h0M1302.6 507h0M1278.1 509.5h0M1304.3 499.9h0M1290.3 521h0M1341.7 491h0M1278.5 510.3h0M1346.5 493.7h0M1347 509.4h0M1309.7 508.6h0M1302.5 524.5h0M1327.2 502h0M1289.4 516.5h0M1309.8 518.1h0M1331.5 499.5h0M1311.3 502.4h0M1303.7 504h0M1311.6 497.5h0M1327.2 511.7h0M1274.4 500.6h0M1324.6 513.6h0M1309.6 506.7h0M1272.7 503.5h0M1312.5 513.6h0M1288.8 518h0M1321.1 521.6h0M1315.8 519.3h0M1333.5 506.9h0M1328.1 513.5h0M1341.5 503h0M1288 518.8h0M1333.1 492.2h0M1343.2 513.3h0M1288.2 518.4h0M1322.5 517.4h0M1302.9 505.1h0M1326.5 500.3h0M1306.7 505.7h0M1346.6 497.5h0M1330.4 509.8h0M1292.3 513.9h0M1320.5 514.8h0M1291.3 514.2h0M1329.2 497.6h0M1312.6 502.1h0M1288.3 515.6h0M1304.4 511.5h0M1311.5 512.6h0M1326.2 517.8h0M1342.6 493.6h0M1312.7 500.1h0M1311.8 508.7h0M1315.6 518h0M1303.5 495.2h0M1343.4 488.6h0M1284.9 517.4h0M1319.7 522.8h0M1300.8 523.7h0M1317.3 511.4h0M1343.8 507.4h0M1330.3 505.4h0M1343.7 507.3h0M1315.8 495.3h0M1337 509.9h0M1285.1 513.8h0M1294.5 507.8h0M1299.5 502h0M1330.6 510.9h0M1317.6 523.8h0M1319.3 517.4h0M1311.3 501h0M1303.2 524.5h0M1277.9 502.9h0M1298.4 506.3h0M1331.3 493.7h0M1304.9 508.8h0M1307.6 505.6h0M1336 514.9h0M1282.3 496.1h0M1339.4 500.7h0M1324.2 497.5h0M1273.9 516.5h0M1276.6 498.2h0M1306.3 501.4h0M1285.8 516.6h0M1311.4 499.9h0M1281.5 503h0M1330.2 502.5h0M1281 516.9h0M1343.7 506.6h0M1273.3 513.1h0M1338.5 496.3h0M1324.2 497.7h0M1279.2 515.1h0M1288.6 509.6h0M1310.2 514.5h0M1339.7 489.9h0M1311.9 502h0M1292.5 492.7h0M1284.9 503.4h0M1294.8 495.1h0M1319.3 500.7h0M1292.9 512.1h0M1300.9 500.5h0M1329.1 516.9h0M1276.7 519.6h0M1318.4 499.8h0M1273.9 505.6h0M1312.5 520.7h0M1317.6 521.9h0M1282.2 502.6h0M1345.2 505.8h0M1342 500.8h0M1292.2 498.9h0M1319.5 509.2h0M1317.2 509.7h0M1292 501.7h0M1275.5 522h0M1341.3 508.5h0M1293.1 495h0M1289.9 509.6h0M1291.9 519.8h0M1328.8 490.2h0M1321 496.3h0M1323.2 521.7h0M1324.7 516h0M1270.4 512.8h0M1310.6 505.8h0M1330.3 510.8h0M1302 524.9h0M1277.3 509.3h0M1295 520.2h0M1310.5 513.1h0M1325.4 498.6h0M1297 510h0M1321.2 502.9h0M1334.9 490.9h0M1305.9 495.5h0M1336 502.4h0M1330.2 494.8h0M1298 523.5h0M1313.9 498h0M1336.8 491.4h0M1317.7 502.2h0M1292.5 509.1h0M1338.9 507.3h0M1312.9 507.9h0M1321.6 496.5h0M1300 519.9h0M1347.5 502.4h0M1319.9 499h0M1307.6 520.1h0M1272.5 500.8h0M1289 512.9h0M1295.9 518.2h0M1298.4 504.9h0M1327.7 510.1h0M1325.5 495.9h0M1279.6 520.2h0M1313.5 506.7h0M1340 511.3h0M1330 514.3h0M1301.8 521.5h0M1323.6 505.4h0M1282 520.8h0M1300.1 509.5h0M1293.9 515.9h0M1288.9 494.8h0M1279.7 509.2h0M1347.1 509h0M1280.1 515.3h0M1277.3 522.3h0M1290.2 509.9h0M1287.5 497.8h0M1295.8 509.6h0M1346.8 502.3h0M1321.5 512.4h0M1341 512.2h0M1309.3 513.8h0M1308.7 499.4h0M1308.8 515.3h0M1306.6 514.6h0M1339.3 506.9h0M1319.2 510h0M1328.2 490.7h0M1337 502.1h0M1338.1 515.9h0M1298.6 504.9h0M1303.2 501.3h0M1304.9 515.4h0M1305.9 514.1h0M1294.1 517.1h0M1317.2 513.8h0M1303.2 500.7h0M1308 519h0M1275.5 505h0M1324 495.5h0M1335.6 494.3h0M1317.7 500h0M1299.1 491.9h0M1343 496.4h0M1290.1 494h0M1336.9 515.2h0M1343.5 505.2h0M1275.3 512.9h0M1309.1 497h0M1335.9 497.7h0M1302.4 500.7h0M1334.6 511.5h0M1282.4 520.3h0M1312.4 514.4h0M1309.6 502.8h0M1298 502.8h0M1309 512.3h0M1330.5 512.1h0M1274 517.2h0M1344.3 489.8h0M1288.6 505.9h0M1294.4 505.5h0M1287.4 502.4h0M1319.5 495.3h0M1306.2 509.6h0M1298 514.7h0M1336.5 489.3h0M1273.4 504.1h0M1307.4 495.2h0M1283.6 520.1h0M1307.5 517.8h0M1325.3 493.2h0M1337 509.7h0M1276.6 510.2h0M1345.6 508h0M1298.5 517.6h0M1283.3 521.7h0M1287.5 513.3h0M1328.2 502.2h0M1294.8 520.5h0M1308.4 521.5h0M1280.7 514.8h0M1307.3 521.2h0M1336.2 509.5h0M1272.4 504.9h0M1297.3 505.2h0M1303.6 504.9h0M1331.3 508.3h0M1288.4 507.6h0M1346.2 492.1h0M1295.5 510h0M1310 522.8h0M1291.4 507.6h0M1328.3 497h0M1329.9 503.6h0M1343.5 493.1h0M1309.3 518.9h0M1342.1 504.3h0M1307.7 525.4h0M1275.4 501.5h0M1285.1 499h0M1306.6 519.4h0M1317.6 515h0M1318.9 500.2h0M1320.4 506.8h0M1283 506.2h0M1343.2 508.3h0M1320.3 493h0M1273.1 520.5h0M1322.5 505.4h0M1347.3 504.3h0M1334.2 516.9h0M1330.3 492.3h0M1328.6 493h0M1284 511.8h0M1309.9 516.7h0M1339.3 493.9h0M1292.2 497.6h0M1318.6 516.5h0M1327.3 494.1h0M1320.8 500h0M1301.6 506.6h0M1276.2 505.7h0M1288.8 522.7h0M1289.3 542.2h0M1264.3 528.7h0M1270.9 560.2h0M1285.9 532.3h0M1279.3 541.1h0M1262.3 521.1h0M1268.1 561h0M1287.6 540h0M1285.3 523.8h0M1269.9 535.4h0M1268.3 546.4h0M1264.8 543.6h0M1273.2 520.7h0M1275.8 542.9h0M1268.8 557.2h0M1264.1 545.5h0M1272.6 537.6h0M1279.3 541h0M1285.6 547.7h0M1290.2 535.7h0M1270.8 550.6h0M1276.5 524.5h0M1281.7 521.6h0M1272.4 524.2h0M1279.9 542.5h0M1265.4 523.5h0M1282.6 557.5h0M1270.6 529.6h0M1270.6 553.3h0M1262.7 532.5h0M1259.8 534.3h0M1274.4 540.6h0M1276.2 545.7h0M1273.7 558.7h0M1289.7 533.6h0M1269.8 547h0M1287 539.2h0M1281.6 532.3h0M1278 540.9h0M1289.9 538.5h0M1270.7 549.3h0M1268 549.9h0M1275.4 524.8h0M1277.3 520.2h0M1273.8 553.2h0M1281.4 519h0M1279.6 526.3h0M1277.9 545.7h0M1275.9 542.1h0M1289 534h0M1280.4 543.8h0M1281.1 534.3h0M1274.6 536.5h0M1290.1 523h0M1280.9 545.1h0M1279.3 554h0M1270.6 536.9h0M1279.8 542.6h0M1277.7 539.7h0M1278.6 523.4h0M1286.2 530.6h0M1281.2 554.1h0M1267.1 536.4h0M1270.6 547h0M1280.4 528.7h0M1272.6 544.8h0M1287.2 546.8h0M1267 526.8h0M1274.3 550.5h0M1287.9 539.2h0M1276.3 547h0M1284.6 527.3h0M1263.7 525.5h0M1268.4 526.4h0M1261.6 546.7h0M1248.6 506.4h0M1267.6 513.6h0M1257.9 511.4h0M1266.4 510.9h0M1262.9 506.6h0M1267.7 515.2h0M1256.1 507.7h0M1262.5 505.1h0M1252.9 513.3h0M1256.9 514.5h0M1254.1 506.9h0M1250.5 509.3h0M1260.8 512.7h0M1258.7 505.3h0M1251.8 506.8h0M1265 507.7h0M1255.7 513.1h0M1250.9 504.4h0M1352.5 458.9h0M1354.9 456.2h0M1348.8 485h0M1373.7 459.7h0M1358.3 444.4h0M1354.7 461.7h0M1348.8 472.8h0M1357 437.9h0M1348.4 441.1h0M1347 487.9h0M1348.7 487.3h0M1354.2 464.8h0M1362 462.5h0M1377.9 444.3h0M1349.9 450.1h0M1378.8 438.8h0M1362.3 455.1h0M1375.3 453.6h0M1351.8 439.7h0M1364.7 464.4h0M1346.6 462.7h0M1363.5 456.5h0M1360.5 455.8h0M1371.3 458.4h0M1361.7 456.9h0M1362.7 440.5h0M1354.1 458.7h0M1347.5 492h0M1378.2 448h0M1347.2 479.5h0M1363.6 451h0M1359.6 451h0M1350.9 465.3h0M1348.6 467h0M1346 476.1h0M1367.2 464.9h0M1372.9 457.6h0M1374.5 442.1h0M1349.7 449.1h0M1354.7 458.2h0M1374.7 442.2h0M1361.9 436.9h0M1368.6 440.4h0M1348.9 467.7h0M1351.8 458.2h0M1350.9 466.6h0M1367.6 460.2h0M1373.3 443h0M1374.6 443h0M1349.5 487h0M1369 440.4h0M1364.5 439.1h0M1350.9 450.9h0M1364.7 444.4h0M1378.2 452.3h0M1379.5 457.8h0M1348.6 455h0M1380.2 440.3h0M1361.6 437.4h0M1363.1 453.1h0M1345.9 489.1h0M1369.9 454.7h0M1370.5 460.5h0M1373.6 454.7h0M1359.7 453.1h0M1359.7 462h0M1373.9 455.3h0M1363.7 466.6h0M1373 450.4h0M1358.5 455.8h0M1349.4 438.9h0M1353.8 464.5h0M1365.2 448.1h0M1366 455.3h0M1359.4 465.4h0M1350.2 488.7h0M1375.7 444.6h0M1345.6 471.7h0M1363.4 463.5h0M1356.1 453.5h0M1372.5 459.5h0M1359.4 449.8h0M1359.5 464.7h0M1368.9 438.5h0M1362.6 456.6h0M1370.5 449.7h0M1379.9 444h0M1366.1 462.2h0M1353.9 444.1h0M1356.6 465.8h0M1369.1 464.1h0M1347.4 471.4h0M1357.2 463.9h0M1358.5 452.9h0M1364.5 437.1h0M1378 446.8h0M1374.8 450.3h0M1377.3 436.2h0M1373.4 459.4h0M1360.7 438.3h0M1354.5 446.8h0M1350.2 467.2h0M1352.8 437.5h0M1367.7 462.7h0M1358.9 441.9h0M1358.2 441.2h0M1367.8 437.4h0M1347.4 448.7h0M1376 440h0M1360.9 447.3h0M1368.7 439.1h0M1355.8 468.3h0M1345.8 450.9h0M1357.9 440h0M1351.3 463.8h0M1354 448.6h0M1358 437.1h0M1350 466.6h0M1373.2 450.7h0M1351 478.2h0M1349.4 488h0M1350.3 464h0M1349.7 441.7h0M1356.7 448.5h0M1368.5 457.6h0M1366.6 445.3h0M1348 448.7h0M1346.5 493.2h0M1366.1 459.6h0M1356.7 467.3h0M1370.8 449.1h0M1349 481.9h0M1373.1 444.3h0M1346.6 455.4h0M1349.3 452.6h0M1356.9 460.6h0M1366.3 449.4h0M1380 440h0M1365.8 441.6h0M1360 449h0M1382 446.5h0M1348.4 479.5h0M1347.5 440h0M1351.3 440h0M1366.2 449.2h0M1369.7 448.4h0M1352.2 451.9h0M1372.4 443h0M1347.3 476.3h0M1352.6 461.8h0M1372.7 457h0M1350.3 483.4h0M1356.3 441.1h0M1369 436h0M1382 456.3h0M1368.7 454.6h0M1368.6 439h0M1358.4 460.7h0M1369.9 453.6h0M1363.6 446.4h0M1347.9 454.1h0M1353.9 446.3h0M1358.6 456h0M1366.3 462.6h0M1365.7 460.6h0M1353.8 446h0M1359.4 441.2h0M1345.4 495h0M1354.3 465.1h0M1348.9 449.7h0M1371.7 461h0M1380.1 438.8h0M1346.3 452.9h0M1351.3 441.3h0M1366.7 457.8h0M1378.4 453.2h0M1356.8 444.8h0M1358.1 441.4h0M1363.9 452.9h0M1346.5 466.4h0M1347.4 478.4h0M1368.4 442.9h0M1374.9 448.8h0M1374 445h0M1360.7 437.7h0M1352.3 462.2h0M1359.3 447.7h0M1347.8 471.4h0M1376 436.9h0M1366.7 446.6h0M1354.2 463.7h0M1353.7 466.5h0M1362.6 442.6h0M1353.5 462.9h0M1373.6 450.9h0M1365 449.1h0M1367.3 458h0M1351.8 460.2h0M1380.4 454.4h0M1354.1 442.9h0M1350.3 459.7h0M1345.7 452.6h0M1379.5 443.9h0M1381.4 452.4h0M1347.5 462.6h0M1350.6 442.4h0M1373.8 461h0M1348.4 463.7h0M1345.6 470.4h0M1375.8 447.1h0M1362.5 436.5h0M1372 462.6h0M1348.7 493.2h0M1369.4 448.2h0M1379.5 436.6h0M1356.5 464.7h0M1348.5 464.5h0M1347.8 457.4h0M1348.3 448.7h0M1360.1 442.4h0M1370.5 443h0M1352.4 445h0M1378.3 458.7h0M1368.6 442.3h0M1354.1 462.7h0M1367.9 459.1h0M1359.1 444.8h0M1378.5 458.1h0M1365.2 458.4h0M1369.6 457.8h0M1355.5 461.1h0M1352 451.9h0M1345.7 477h0M1358.3 455.7h0M1346.8 469.2h0M1352.4 441.3h0M1360.2 466.3h0M1346.1 453.7h0M1363 444.6h0M1349.3 454.7h0M1345.7 456.8h0M1376.7 456.3h0M1350.1 454.2h0M1369.8 456.8h0M1365.6 453.2h0M1348.2 473.1h0M1352.6 450.3h0M1360.7 448.2h0M1354.8 449.8h0M1364.7 458.7h0M1349.9 443.8h0M1346.1 495.1h0M1361.2 440.7h0M1362.3 464.2h0M1356.7 442.1h0M1367.6 455.5h0M1358.9 460.2h0M1347.2 480.2h0M1363.2 437.1h0M1365.8 450.3h0M1392 469.3h0M1395.1 464.2h0M1393 461.7h0M1384.2 451.2h0M1391.9 471.3h0M1385.9 469.7h0M1391.7 460.5h0M1388.4 443.5h0M1392.8 432.8h0M1402.8 454.5h0M1399.5 451.1h0M1391 472.3h0M1390.7 435.9h0M1396.4 470.5h0M1393.9 459.6h0M1390.7 462.9h0M1390.1 465.4h0M1401.6 468h0M1391.1 443.3h0M1384.6 472.4h0M1392.7 455.4h0M1388.5 438.2h0M1402.8 438h0M1399.1 450.8h0M1402 447.3h0M1391.4 460.9h0M1389.5 439.4h0M1397.7 471.7h0M1386.3 447.7h0M1396.9 432h0M1390.3 443.6h0M1396.5 446.4h0M1422.9 429.6h0M1450.5 437.2h0M1434.6 421.6h0M1435.8 409.5h0M1452.8 426.9h0M1414.7 468.1h0M1448.7 452.3h0M1445.4 421.6h0M1420.2 425.9h0M1429.6 469.9h0M1415.3 414h0M1404.5 452.6h0M1412.1 429h0M1417.4 409.8h0M1441.3 436.6h0M1407.6 468.7h0M1418.6 459h0M1430.3 445.2h0M1412.8 462.4h0M1422.1 451h0M1452.2 433.2h0M1458.7 438.5h0M1443 445.7h0M1435.2 430.1h0M1417.3 442h0M1430.3 440.4h0M1451.7 452.6h0M1428.3 434.9h0M1411.2 451.1h0M1421.1 440.8h0M1405.6 450.7h0M1411.7 453.1h0M1462.7 439.5h0M1408.3 448.3h0M1422.1 410.2h0M1422.3 435.6h0M1433.7 408.3h0M1444.5 412.7h0M1459.5 447.5h0M1450.1 444.6h0M1409.7 436.1h0M1442.2 434.5h0M1437.6 438.3h0M1447.5 429.2h0M1432.5 414.7h0M1412.2 443.2h0M1402.6 472.8h0M1423.2 425.4h0M1454.1 433.5h0M1400.1 463.7h0M1321.6 483.5h0M1320.7 496.7h0M1320.5 497h0M1321 498.6h0M1320.9 485.4h0M1321.6 475.9h0M1320.8 496.1h0M1321.3 491.9h0M1321.5 471.7h0M1321.5 477h0M1320.9 483.7h0M1321.2 499.3h0M1320.5 483.1h0M1320.5 494.7h0M1320.9 500.8h0M1320.9 480h0M1320.6 490.9h0M1320.9 485.5h0M1320.8 472.5h0M1320.8 499h0M1321.5 501.2h0M1320.4 477.2h0M1321.4 474.1h0M1321.6 501.1h0M1320.9 488.4h0M1467.7 436h0M1470.3 452.7h0M1491 453.7h0M1509.3 461h0M1516.7 468h0M1249 541.7h0M1456 459.3h0M1396 478.3h0M1376 425h0M1361 433.3h0M1449.3 406.7h0M1444.3 412.7h0M1327.7 517.7h0M1332.7 517.7h0M1339.3 517h0" fill="none" stroke="#4682B4" stroke-width="4.6" stroke-linecap="round"/>
<path d="M1236.7 493.7H1529.3" stroke="#111" stroke-width="1.8" stroke-dasharray="8.6 2.15 1.35 2.15" fill="none"/>
<path d="M1350.7 323.3V575" stroke="#0000ff" stroke-width="2.0" stroke-dasharray="7.25 3.3" fill="none"/>
<path d="M1248.3 512.7C1260.3 511.6 1299.1 508.6 1311 507C1315.6 506.4 1319.8 503.8 1324.3 502.7C1330.9 501 1338 501 1344.3 498.7C1347.1 497.6 1348.9 494.7 1351 492.7C1359.7 484.4 1508 342.6 1516.7 334.3" stroke="#F66E6C" stroke-width="2.8" fill="none" stroke-linecap="round" stroke-linejoin="round"/>
<path d="M1236.7 323.3V575H1529.3" stroke="#222" stroke-width="1.3" fill="none"/>
<text x="1351.3" y="479.5" font-size="12.5" fill="#000">89.19</text>
<text x="1223.3" y="380.2" font-size="15.4" text-anchor="end" fill="#222">0.2</text>
<text x="1223.3" y="440.2" font-size="15.4" text-anchor="end" fill="#222">0.1</text>
<text x="1223.3" y="499.2" font-size="15.4" text-anchor="end" fill="#222">0.0</text>
<text x="1223.3" y="559.5" font-size="15.4" text-anchor="end" fill="#222">-0.1</text>
<text x="1261" y="599.5" font-size="15.4" text-anchor="middle" fill="#222">50</text>
<text x="1318.3" y="599.5" font-size="15.4" text-anchor="middle" fill="#222">75</text>
<text x="1376" y="599.5" font-size="15.4" text-anchor="middle" fill="#222">100</text>
<text x="1433.7" y="599.5" font-size="15.4" text-anchor="middle" fill="#222">125</text>
<text x="1491.7" y="599.5" font-size="15.4" text-anchor="middle" fill="#222">150</text>
<text x="1382.7" y="622" font-size="18.8" text-anchor="middle" fill="#222">Pulse</text>
<text transform="translate(1187.9 447.7) rotate(-90)" font-size="18.8" text-anchor="middle" fill="#222">SHAP value</text>
</g>
<g>
<path d="M96.3 736 L101.3 734.3 L102.3 778.7 L110 791.3 L115.3 791.3 L116 812 L112.7 838.7 L111 865.3 L107.7 869.3 L105.3 862 L103 838.7 L100.3 812 L96.3 788.7Z" fill="#4682B4" stroke="#4682B4" stroke-width="3" stroke-linejoin="round"/>
<path d="M115 780.3 L123.3 769.3 L146.7 766 L163.3 747.7 L165 778.7 L146.7 788 L123.3 800.3 L116 803.7Z" fill="#4682B4" stroke="#4682B4" stroke-width="3" stroke-linejoin="round"/>
<path d="M99.7 789.9h0M97.8 773.4h0M101.2 781.3h0M103.4 765.7h0M95.5 749.4h0M94.5 778.9h0M97.7 741.3h0M95.8 733.5h0M96.7 749.8h0M96.6 743.1h0M96.7 781.4h0M98.9 756.3h0M97.9 786.1h0M98.9 756.9h0M100.2 771.1h0M101.2 786.7h0M100.3 754.1h0M98 762.4h0M96.8 736.2h0M94.9 759.7h0M97.6 777.5h0M99.3 757.2h0M99.9 786.6h0M103.5 774.8h0M95.4 777.9h0M97.1 732.3h0M94.9 737.1h0M98.8 768.5h0M96.9 786h0M99.7 771.6h0M96 777h0M97.6 753.9h0M94.6 768h0M101.5 763.2h0M95.8 751.9h0M96.5 782.3h0M97.7 789.4h0M101.9 775h0M100.4 744.1h0M97.9 774.9h0M96.8 779.8h0M96.9 773.8h0M102.7 753.1h0M94.5 767.5h0M96.1 754.9h0M96.4 742.2h0M101.5 758.2h0M103.8 761.1h0M101.5 779.1h0M95.3 774.2h0M102.7 788.7h0M102.7 778.4h0M100.5 749.6h0M103.6 771.4h0M97.3 734.3h0M97.2 791h0M100.6 765.9h0M98.9 748h0M98.6 791.8h0M95.4 753.4h0M99.6 746.5h0M94.7 736.7h0M94.8 785.1h0M97.4 759.8h0M102.3 738.8h0M97.1 745.5h0M95.7 782.8h0M95.8 780.4h0M96.2 750.6h0M101.7 770.9h0M96.9 761.1h0M101.2 743.1h0M96.5 744.3h0M97.5 752.9h0M99.4 737.8h0M95.7 740.2h0M94.9 758.5h0M101.4 756.6h0M103.2 766h0M98.9 736.2h0M101.9 770.4h0M94.6 755.3h0M96.9 740.7h0M96.2 770.5h0M94.5 737.8h0M94.9 754.6h0M99.4 772h0M100 747.4h0M99.8 785.1h0M101.2 734.5h0M97.4 756.3h0M102.2 763.5h0M95.3 775.8h0M98.2 729.6h0M96.4 755.3h0M103.6 754.1h0M94.8 735.1h0M97.6 741.7h0M96.1 775.6h0M100.7 769.3h0M101 783.1h0M94.4 775h0M99.3 756.8h0M96.3 742.2h0M103.1 755.4h0M102.6 772.8h0M96.4 774.9h0M100.2 775.5h0M95.8 747.4h0M97.7 768.1h0M99.1 773.1h0M96 759.8h0M101.9 777.4h0M96.7 772.4h0M97.8 788.9h0M100.2 787.6h0M97.5 754.9h0M99.2 787h0M99.3 744.2h0M102.9 788.8h0M103 773.3h0M100.9 785.1h0M103.8 754.1h0M99.5 740.2h0M101.4 745.2h0M99.8 766.1h0M101 775.8h0M103.5 791h0M102.3 765.9h0M104.1 783.1h0M96.3 776.8h0M102.1 772h0M101 775.2h0M95.9 738.5h0M103.3 763.4h0M102.3 770.3h0M101.2 768.2h0M101.9 760.1h0M96.9 731.5h0M97.1 751.8h0M97.1 739.8h0M98.6 744.9h0M95.4 779.7h0M103 778.1h0M101.8 739.9h0M95 745.3h0M94.5 769h0M100.5 730.9h0M102.8 763.3h0M98.1 768.3h0M100.5 748.3h0M95.3 767.8h0M101.1 775.6h0M95.8 734h0M103.3 745.8h0M98.9 772.4h0M100 751.1h0M103 764.5h0M100.6 731.4h0M100.9 768.1h0M97.4 773.4h0M95.8 737.6h0M100.6 754.9h0M99.1 791.8h0M96.8 753.4h0M95.3 784.4h0M101.7 766.5h0M102.4 757.4h0M101.1 729.4h0M98.9 729.6h0M104.3 795.1h0M101.2 820.3h0M104.9 868.2h0M100.3 818.4h0M108 832.5h0M109.7 865.7h0M110 822.2h0M105.1 864.8h0M101.9 837.6h0M112.3 819.8h0M102.1 808.2h0M111 794.1h0M117.1 808.5h0M111.5 818.3h0M105.7 852.3h0M109.5 847.4h0M105.2 843.5h0M110.3 874.6h0M107.2 836.2h0M101.2 833.9h0M118.9 794h0M103.4 859.9h0M103.5 817.8h0M109.7 843.8h0M110.1 862.4h0M103.5 845.1h0M110.2 839.3h0M110.7 817h0M108.6 827.4h0M108.3 863.5h0M107.3 805.1h0M112.3 866.8h0M108.2 859h0M106.2 829.6h0M104 813.6h0M110.7 815.4h0M104.9 849.5h0M115.3 811.5h0M105.5 859.2h0M107.7 865.8h0M107.3 866.7h0M112.6 807.7h0M111.7 802h0M109.4 799.8h0M115.8 810.5h0M107.6 803.1h0M115.2 802.3h0M109.3 839.9h0M105.4 828.3h0M107.4 870.3h0M104 834.2h0M107.2 798.1h0M109.8 826.2h0M109.7 792.9h0M118.3 801.9h0M102.4 828.3h0M105.1 858.3h0M116.6 803.6h0M106.5 863.7h0M101.2 806.6h0M108.2 839.7h0M112.5 864.5h0M97 794.3h0M106.7 872.7h0M107.6 811.7h0M100.2 825.9h0M112.1 818.4h0M108.4 873.5h0M113.4 824.8h0M114.5 826h0M114.1 834.8h0M108.1 820.8h0M104.7 791.8h0M115.2 797.1h0M120.6 795.2h0M119.6 803.4h0M103.7 820h0M106.8 862h0M118.4 810h0M112.2 825.5h0M112.7 810.8h0M107.5 845.2h0M100.2 794.7h0M104.3 824.1h0M112.9 862.2h0M106.6 804.8h0M111.9 869.5h0M105.9 866.5h0M117.8 805.4h0M111.7 810.7h0M100.3 829.6h0M111.3 802.2h0M105.4 864.7h0M101.4 818.5h0M102.1 807.4h0M109.6 866.2h0M100.2 792.1h0M105.3 792.1h0M100.1 802.9h0M100.3 813.8h0M107.3 871.4h0M102.4 815.1h0M101.5 821.8h0M110.7 861.2h0M109.1 820.3h0M114.2 832.8h0M109.7 867.3h0M107.4 829h0M106.4 795h0M96.8 793h0M109.2 850.1h0M103.7 807.2h0M109.5 855.1h0M102.8 834.2h0M116.2 795.8h0M101.5 822.6h0M103.1 830.5h0M106.3 815.5h0M114.4 799.9h0M100.2 812h0M106 854h0M116.2 810h0M102.6 831.1h0M100.9 823.6h0M106 801.2h0M110.6 805.8h0M114 848.8h0M114.7 816.4h0M101.7 835.6h0M111.8 846.1h0M105.9 859.9h0M116.1 794.7h0M111 843.6h0M99.5 813.5h0M100.3 823.3h0M102.5 796.4h0M110.5 858.9h0M108.7 855.9h0M112.1 831.2h0M111.8 828h0M112.5 812.9h0M101.8 800.1h0M107.8 855.8h0M113.6 799.4h0M100.4 833.6h0M109.6 835.9h0M100.7 828.5h0M114.7 792.4h0M102.7 813.6h0M105.2 810.7h0M109.6 845.2h0M108.2 837.2h0M106.9 829.4h0M104.7 842.1h0M104.7 832.7h0M105.8 796.6h0M105.9 801.7h0M113.1 799.3h0M105 859.1h0M103.6 798.3h0M112.8 829.3h0M104.6 824.3h0M113.1 854h0M103.6 795.4h0M107.5 851.5h0M104.2 807.6h0M109.2 841.8h0M101.4 813.3h0M109.3 827h0M106.7 822.9h0M106.9 793h0M108.6 819.5h0M100.2 828.2h0M103 807.6h0M107.7 846.7h0M113.8 798.6h0M99.5 801.2h0M105.1 848.2h0M101.1 831.9h0M103 856.8h0M102.9 853h0M105.7 844.3h0M101.6 822.7h0M112.9 815.4h0M111.9 848.3h0M111.5 851.8h0M103.7 838.9h0M108.2 873.8h0M109.7 836.3h0M112.3 858.9h0M101 821.2h0M100.2 821.6h0M101.5 834.9h0M102.7 836.1h0M104.9 846.2h0M111.3 833.6h0M113.1 848.1h0M102.6 817h0M107.3 802.6h0M100.2 830.3h0M110.2 847.9h0M106.6 867.8h0M106.8 837.2h0M113.2 803.7h0M105.8 865.8h0M96.9 794.6h0M111.6 798h0M107.6 868h0M117.8 799h0M109.1 853.7h0M103.7 855.9h0M113.2 823.4h0M116.3 800.2h0M100 800.8h0M104.4 824.5h0M97.8 805.7h0M112.9 842.1h0M108.2 831h0M110.3 851.2h0M120.3 800.3h0M113.1 807.8h0M119.6 803.1h0M118.3 796.8h0M104.7 797.3h0M108.4 825.7h0M113.3 826.2h0M114.3 795.9h0M106.5 821.2h0M104.3 853.3h0M112 841.4h0M109 795.7h0M105.6 867.3h0M108.4 794.5h0M100.8 836.9h0M111.3 863.8h0M112.7 800.4h0M112.9 830.7h0M101.8 814.2h0M113.5 814.9h0M111.8 821.6h0M107.4 819.3h0M119.8 803.9h0M103.7 794.5h0M105.8 848.7h0M109 843.6h0M114.6 816.9h0M114.7 815h0M113 823.5h0M99.9 806.3h0M104.4 847.8h0M103.4 813.2h0M109.3 823.8h0M104.6 816.9h0M109 864.1h0M109.1 793.9h0M112.1 850.4h0M107.4 865.3h0M117.4 800h0M107.1 818.4h0M105.5 810.4h0M104.7 860.5h0M105.2 849.6h0M105.5 866h0M115.8 796h0M108.8 816.8h0M112.7 850.9h0M108.8 813.7h0M100.8 812h0M102.4 797.8h0M103.2 825h0M110.4 810h0M115.9 796.8h0M105 812.4h0M111.7 791.7h0M112.2 868.2h0M110.1 853.6h0M100.6 826.9h0M113.5 863h0M113.1 822.1h0M99.1 800.4h0M105.4 867h0M102.3 801.8h0M120.2 799.5h0M107.6 811.8h0M108.5 812.6h0M117.5 793h0M110.9 862.2h0M112.2 859.8h0M101.5 801.6h0M113 791.7h0M106.1 850.5h0M107.1 806.3h0M114.2 805.1h0M104 829.8h0M113 795.6h0M111.6 823.1h0M100.2 806h0M100.4 810.1h0M112 832h0M113.3 796.4h0M101.8 839h0M102.8 856h0M101.3 824.1h0M106.2 827.6h0M109 820.9h0M102.3 797.7h0M117.4 797.7h0M117 794h0M114.5 836.3h0M105.7 834.4h0M107.6 835.3h0M108.7 865.3h0M101.6 844h0M119.4 807.1h0M104.2 820.5h0M110.8 828.7h0M101.8 817.2h0M107.1 817h0M106.8 838.3h0M111.3 835.2h0M110.1 802.4h0M114.7 814.4h0M114.4 830.4h0M103.8 842.9h0M107.7 794.3h0M111.8 871.8h0M108.1 832.7h0M111.9 848.2h0M107.3 810.9h0M103.9 853.6h0M118.2 800.4h0M161.1 780.9h0M117.6 798.1h0M130.9 787.8h0M163.4 780.5h0M117.6 803.5h0M161.8 782.1h0M123.5 805.7h0M138.3 786.2h0M141.8 784.4h0M141.8 784.7h0M124.6 797.8h0M135.9 782.1h0M125.1 770.5h0M157 757.3h0M113.8 782.6h0M141.1 780.8h0M153.2 786.9h0M130.6 802.8h0M158.8 783.1h0M154.7 791.1h0M163.7 753.4h0M158.1 762.6h0M138.1 783.5h0M165.1 775.6h0M147.7 781.4h0M153.5 776.2h0M134.7 767.4h0M118 780.8h0M161.1 784.9h0M162.8 766.5h0M125.2 786h0M127.3 794.1h0M131 793.5h0M129.6 771.2h0M115.8 783.5h0M160.8 749.3h0M125.1 779.6h0M139.3 784.4h0M163.2 746.5h0M161.9 752.9h0M120.8 788.7h0M122.8 773.2h0M125.1 769.4h0M163.4 772.5h0M159.3 776h0M126.8 797.7h0M130 776h0M125.7 770.7h0M132.6 784.1h0M161.6 784.3h0M139.5 792.5h0M151.5 782.3h0M161.5 754.8h0M130.7 766.4h0M163.1 757h0M144.9 777.5h0M117.5 792.4h0M146.2 767.5h0M156.9 754.3h0M161.7 785.4h0M131 788.3h0M151 766.6h0M152.1 758.4h0M117.1 799.1h0M124.2 777.5h0M140 766.2h0M144.2 766.1h0M162.1 783.1h0M134.2 797.1h0M151.3 765.8h0M132.4 796.1h0M120.4 798.8h0M143.7 779.1h0M138.7 796.3h0M144.9 777.8h0M135.3 786.9h0M152.4 765.8h0M134.1 799.7h0M131.1 781.1h0M125.8 801.1h0M142.4 786.6h0M162.6 784.9h0M145.3 790.3h0M133.1 798.3h0M163.1 782.8h0M129.7 770h0M118.6 804.5h0M129.3 799h0M134.2 787.4h0M121.1 807.7h0M157.9 771.6h0M143.9 775.3h0M151.7 762.8h0M118.9 770.5h0M114.8 787h0M127.2 778.7h0M120.7 777.9h0M138.9 768.5h0M117.1 804.5h0M121 799.7h0M133.2 786.5h0M132.8 784.5h0M149.7 785.8h0M130.6 802h0M138.5 788.7h0M152 770.8h0M142.7 791.2h0M157.7 765.2h0M135.1 776.8h0M155.1 778.4h0M117.7 790.7h0M122.7 804.8h0M124.3 769.2h0M128.9 797h0M132.5 770.2h0M120.2 787h0M125.7 796.8h0M144.7 783.7h0M145.3 773.7h0M158.1 780.8h0M157.4 786.5h0M139 780.3h0M119.5 804.8h0M162.9 753.9h0M139 779.7h0M138.8 773.5h0M136.8 771.3h0M128 802.8h0M131.8 769.9h0M155.4 767.8h0M134.6 791.7h0M159.5 753.9h0M142.4 774.4h0M151.1 784.9h0M127.1 790.7h0M118.5 776.9h0M116.8 778.1h0M158.1 779.6h0M155.3 772.3h0M128.9 770.5h0M147.6 766.2h0M115.6 776.8h0M123.6 801.8h0M144.2 770.8h0M134.2 773h0M153 793.1h0M122 807.5h0M126.4 800.6h0M118 792.1h0M156.4 771.5h0M154.6 767.1h0M159 757.7h0M162.4 754.5h0M157.6 754.7h0M141.7 788.8h0M136.4 770.4h0M135.3 773.9h0M138.9 769.6h0M126.8 775.4h0M140.4 790.9h0M157.3 759.5h0M135.7 774.7h0M120.3 771.6h0M134.9 789.7h0M145.4 787.8h0M145.1 775h0M125.6 805.8h0M151.8 759.1h0M163.8 778.3h0M144.2 765h0M165.6 763.6h0M138.5 766h0M140.2 763.4h0M151.1 763.1h0M142.8 790h0M127.5 773h0M161.9 753.9h0M120.2 793.2h0M156.9 772.2h0M125.4 783.1h0M130.3 788.2h0M126.6 782.2h0M155.9 763.2h0M165.5 777.6h0M129.9 797.3h0M127.7 769.3h0M129.7 765.7h0M139.8 779.9h0M149.3 759.9h0M151.8 781.6h0M115.5 777.6h0M121.3 805.9h0M136.4 795.5h0M160.2 780.4h0M151.7 770.8h0M161.3 776.1h0M154.6 770.4h0M155 769h0M152.3 775h0M137.1 786.9h0M139.6 764.7h0M132.5 797.1h0M163.8 778.7h0M150.8 789.8h0M147.4 767.3h0M120 793.2h0M158.4 773h0M121.4 797.5h0M155.7 773.5h0M165.2 773.1h0M124.5 793.8h0M144.4 792h0M134.1 781.5h0M154.3 776.8h0M152.5 757.9h0M123.5 780.8h0M153.8 775.6h0M140 775.7h0M121 793.9h0M135.1 783.6h0M152.9 792.4h0M114.6 783.1h0M130.6 773.2h0M163.6 768.7h0M116.2 773.6h0M121.1 806.4h0M133.3 780.3h0M137.2 786.4h0M165.6 777.7h0M141.2 787.4h0M159.8 783.7h0M139.8 774.8h0M115.9 798h0M122.7 794.6h0M119.5 797.8h0M115.7 779h0M132 789.8h0M157.5 756.9h0M160.7 765.8h0M161.1 784.7h0M156.6 790.2h0M137.5 797.5h0M116 781.7h0M124.5 786.7h0M133.9 764.8h0M163.7 755.7h0M131 783.4h0M158.2 754.1h0M156.5 770.7h0M123 781.6h0M126.4 786.2h0M159.5 761.9h0M116.9 781h0M160.4 772h0M142.8 792.2h0M159.3 762.7h0M153.6 781.4h0M133 772.6h0M150 787.4h0M159.9 759.6h0M138.6 768.6h0M125.3 767.7h0M122.2 799.1h0M153 767.5h0M152.6 779.4h0M128.9 771.3h0M122.9 793.8h0M127.6 790.2h0M136.4 771.5h0M157 757.9h0M137.2 796.9h0M125.1 789.4h0M136.2 797.7h0M142.8 789.3h0M118 784h0M150 773.9h0M134.8 775.4h0M126.2 782.5h0M129 768.3h0M151.4 779.4h0M146.7 787.9h0M151.3 781.5h0M143 792h0M115.1 790h0M158 783.4h0M133.2 770.4h0M138.3 767.1h0M117.4 806.1h0M154.3 783.3h0M140.6 777.2h0M116.1 801h0M165.6 757.8h0M127.4 777.1h0M165.1 771.7h0M132.2 780.8h0M148.9 778.9h0M141.2 789.9h0M148.2 791.9h0M141.1 792.1h0M162.4 762.7h0M154.9 780.1h0M158 764.3h0M151 781.1h0M148.4 769.8h0M123.5 796.3h0M140.4 769.5h0M165.3 769.5h0M121 771.9h0M128.1 782h0M150.3 768.2h0M126.7 790.5h0M124.6 795.1h0M149.2 779.4h0M133.1 789.7h0M135.8 774.1h0M133 798h0M155.5 792.3h0M133.1 788.2h0M160.5 784.5h0M138.7 768.2h0M125.1 782.8h0M165.2 759.8h0M126.2 767.9h0M155.4 775.6h0M121.3 780.4h0M117.8 790.7h0M148.1 764.9h0M151.9 777.9h0M118.2 806.9h0M120.7 801.8h0M139.9 774.9h0M164.3 761.3h0M119.3 796.2h0M148.9 764.3h0M165.3 773.3h0M163.4 767.6h0M116.8 797.2h0M119.6 771.1h0M163.9 782.1h0M148.9 769.1h0M159.4 773.6h0M123.5 769h0M134.7 775.8h0M156.7 756.3h0M137.8 783.1h0M139.1 763.4h0M164.1 768.7h0M121.1 799.3h0M121.5 777.1h0M132.2 795.7h0M163.2 775.9h0M119.8 775.6h0M138.9 787.6h0M161.1 773.1h0M130.8 785.3h0M134.2 773h0M150.4 782h0M160.3 785.1h0M144 767.8h0M150.2 777h0M149.6 767.3h0M145.8 783.4h0M128.7 803.3h0M133 797.8h0M125 773h0M137.7 774.8h0M135.1 770.6h0M164 752.2h0M133.4 786.1h0M162.4 778.8h0M166.1 772.8h0M137.8 793.7h0M164.4 745.6h0M146.3 775.5h0M142.1 771.7h0M152.6 763.5h0M143.4 770h0M144.2 777.7h0M148.7 774.7h0M117.1 808.5h0M123.1 787.8h0M164.1 751.6h0M160.9 755.4h0M157.6 774.7h0M117.7 799.8h0M137.9 782.8h0M119.7 801.8h0M160.8 756.6h0M127.4 795.3h0M118.5 802h0M159.4 788.4h0M165.5 776h0M143.7 785.1h0M149.1 791h0M114.1 776.1h0M122.5 780.2h0M120.8 798.3h0M119.4 776h0M160.9 750.7h0M159.1 775.9h0M147.3 770.6h0M161.1 751.5h0M123.9 771h0M135.1 798.8h0M163.4 770.6h0M128.8 769h0M149 787.9h0M151.1 787h0M154.9 772.5h0M155.1 779.3h0M151.9 788.6h0M157.7 791h0M158.8 772.8h0M145 766.3h0M150.6 779.5h0M154.7 792.6h0M160 771.9h0M131 772h0M143.8 776.2h0M116.5 783.3h0M154.4 781.6h0M140 766.2h0M163.4 776.7h0M131.3 795.2h0M121.1 770h0M140.8 792.3h0M165.7 766.2h0M125.2 784.5h0M157.3 779.3h0M125.5 802.3h0M137.2 786h0M122.4 799.8h0M165.2 754.6h0M163.1 764.6h0M148.3 770.2h0M165.9 764.8h0M134.3 766.4h0M165.4 774.6h0M147.4 785.8h0M150.7 765.3h0M136.2 769h0M141.7 775.3h0M149.7 765.7h0M118.4 779.6h0M159.1 776.5h0M142.7 787.8h0M131.4 801.5h0M163.3 781.4h0M166 772h0M117 782.8h0M148.6 778.7h0M149.5 781.1h0M152.4 792.9h0M137 770.4h0M126 769.4h0M138.6 790.2h0M144.8 772.1h0M126.8 790.1h0M160.6 784.4h0M137.8 781.5h0M150.7 775.6h0M152.3 775.8h0M159.4 753.5h0M159.2 785.9h0M156.3 773.6h0M162.6 746.9h0M157.6 763.1h0M132.6 778.8h0M132.6 770.1h0M148 786h0M159.2 758.1h0M153.6 768.6h0M120.7 793h0M117.7 786.6h0M157.3 768.8h0M122.5 795.2h0M153.1 765.1h0M152.2 784.6h0M155.7 789.6h0M172.3 676.2h0M168.4 691.4h0M177 723.3h0M163.3 754.7h0M170.3 733.2h0M177.7 761.9h0M180.3 729.9h0M164.1 751.8h0M177.7 728.5h0M173.3 711.4h0M174.8 734.2h0M169.6 770.2h0M166.6 740.6h0M163.8 712h0M174.8 686.6h0M173.1 736.4h0M165.8 744.6h0M174.8 701.1h0M174.3 729.7h0M176.4 743.3h0M172.7 722.5h0M168.3 747.6h0M174.6 701.7h0M167.6 722.5h0M176.7 691.3h0M166.7 727.1h0M169.7 694.6h0M175.9 694.5h0M176.4 739h0M169.3 731.6h0M163.1 762.4h0M173.2 756.6h0M166.5 741.8h0M175.8 764.7h0M166.2 718.6h0M181 727.2h0M178.2 699.8h0M171.9 737h0M170.1 758.1h0M168.3 741.1h0M177.3 692.5h0M167.4 765.3h0M181.1 737.4h0M180.5 741.3h0M176.9 723.8h0M167.1 718.3h0M167.6 769.1h0M170.7 688.1h0M169.2 734h0M174.8 690.2h0M170.2 718.5h0M168.1 739.8h0M166.8 692.8h0M165.9 718.6h0M167.8 687.3h0M168.9 683.5h0M171.8 675.3h0M166.3 682.1h0M171.5 711.3h0M167.7 692.2h0M172.3 757.6h0M176.2 724h0M171.4 673.9h0M169.1 740.6h0M179.2 744.3h0M166.5 754h0M172.1 699.2h0M181 738h0M175.3 771.7h0M170.5 762.3h0M170.9 693.4h0M173.8 721.1h0M178 764h0M176.2 716.6h0M167.1 768h0M187.9 726h0M188.6 678h0M197.4 738h0M183.1 742.9h0M189.8 747.3h0M188 714.5h0M193.4 697.1h0M188 727h0M185.4 706.3h0M184.4 672.5h0M196.7 748.5h0M193.9 731.5h0M195.1 710h0M194.3 731.5h0M205.4 731.7h0M194.6 750.7h0M183 714.2h0M201 690.7h0M202.1 711.9h0M192 726.5h0M191.7 701.3h0M197 687.3h0M190.5 764.6h0M200.1 762.3h0M200.9 734.8h0M199 703.5h0M184.2 756.6h0M190.3 755.1h0M115.9 777h0M116.3 773.3h0M115.2 761.9h0M115.4 773.4h0M115.2 755.8h0M115.3 762.3h0M115.2 764.1h0M115.9 766.8h0M115.2 771.4h0M115.8 768.5h0M115.3 774.3h0M115.5 760.2h0M115.3 773.9h0M115.7 771.2h0M116.1 765.1h0M101 724.3h0M172.3 664.3h0M181.7 663h0M187.3 671.3h0M193.3 669.3h0M219 688h0M235 709.7h0M206.7 722.7h0M226.7 727.7h0M230 739.3h0M216.7 739.3h0M228.3 747h0M220 753.7h0M232.3 756.3h0M237.3 758h0M240.7 761.3h0M255.7 763h0M262.3 765.3h0M266.7 769.3h0M317.3 756h0M351 754.7h0M362.3 719.3h0M211.7 766.3h0M208.3 766.3h0M196.7 772h0M189 777h0M176.7 784.7h0M170 775.3h0M106.7 880.3h0M110 880.3h0M143.3 796h0M146.7 797h0" fill="none" stroke="#4682B4" stroke-width="4.6" stroke-linecap="round"/>
<path d="M82 791.7H375.7" stroke="#111" stroke-width="1.8" stroke-dasharray="8.6 2.15 1.35 2.15" fill="none"/>
<path d="M121.7 641.3V892" stroke="#0000ff" stroke-width="2.0" stroke-dasharray="7.25 3.3" fill="none"/>
<path d="M94.3 831.3C100.3 820.9 108.2 805.2 115 795.3C116.4 793.2 119.8 793.1 121.7 791.3C124.8 788.4 126.4 783.6 130 781.3C140.1 774.9 156.2 768.5 166.7 762.7C177.2 756.9 351.9 658.5 362.3 652.7" stroke="#F66E6C" stroke-width="2.8" fill="none" stroke-linecap="round" stroke-linejoin="round"/>
<path d="M82 641.3V892H375.7" stroke="#222" stroke-width="1.3" fill="none"/>
<text x="122.3" y="758.8" font-size="12.5" fill="#000">4.88</text>
<text x="69" y="683.2" font-size="15.4" text-anchor="end" fill="#222">0.075</text>
<text x="69" y="721.2" font-size="15.4" text-anchor="end" fill="#222">0.050</text>
<text x="69" y="759.2" font-size="15.4" text-anchor="end" fill="#222">0.025</text>
<text x="69" y="797.2" font-size="15.4" text-anchor="end" fill="#222">0.000</text>
<text x="69" y="835.2" font-size="15.4" text-anchor="end" fill="#222">-0.025</text>
<text x="69" y="873.2" font-size="15.4" text-anchor="end" fill="#222">-0.050</text>
<text x="95" y="917.2" font-size="15.4" text-anchor="middle" fill="#222">0</text>
<text x="150.7" y="917.2" font-size="15.4" text-anchor="middle" fill="#222">10</text>
<text x="206" y="917.2" font-size="15.4" text-anchor="middle" fill="#222">20</text>
<text x="261.7" y="917.2" font-size="15.4" text-anchor="middle" fill="#222">30</text>
<text x="317.3" y="917.2" font-size="15.4" text-anchor="middle" fill="#222">40</text>
<text x="372.7" y="917.2" font-size="15.4" text-anchor="middle" fill="#222">50</text>
<text x="228.3" y="939.7" font-size="18.8" text-anchor="middle" fill="#222">Absolute neutrophil count</text>
<text transform="translate(18.5 768) rotate(-90)" font-size="18.8" text-anchor="middle" fill="#222">SHAP value</text>
</g>
<g>
<path d="M482.3 862 L507.3 855.3 L509 867 L497.3 875.3 L485 872.7Z" fill="#4682B4" stroke="#4682B4" stroke-width="3" stroke-linejoin="round"/>
<path d="M518.3 826 L536.7 824.3 L540 828.7 L540 838.7 L519.3 843.3Z" fill="#4682B4" stroke="#4682B4" stroke-width="3" stroke-linejoin="round"/>
<path d="M484.6 866.6h0M481.4 867.7h0M494.6 876.5h0M504 858.4h0M497.1 872.2h0M484 874.4h0M496.7 865.9h0M494.8 856h0M483.3 872.7h0M493.2 875.3h0M492.3 875.6h0M493.1 861h0M487.3 864.4h0M506.8 862.2h0M492.8 860h0M483 868.4h0M500.4 861.4h0M503.2 874.4h0M506.8 864.8h0M482.2 867.7h0M507.3 868.3h0M492 876.5h0M506.4 856.2h0M501.2 864.1h0M489.1 870.3h0M508.3 858.8h0M486.1 861.6h0M508.4 854h0M481.5 865.6h0M492.8 866.8h0M489.1 872.8h0M505.4 853.3h0M485.5 871.2h0M504.7 861.8h0M502 855.9h0M507.1 854.8h0M485.8 859h0M481.8 863.5h0M503.4 869.9h0M483.3 865.4h0M490.1 862h0M498.5 876.1h0M482.6 860.4h0M500.5 877h0M494.8 860.5h0M487.7 866.9h0M480.4 864.7h0M488.4 862.6h0M495.5 871.8h0M507 864.7h0M486.6 861.7h0M499.6 869.5h0M497.4 860h0M501.3 856.7h0M503 856.3h0M496 866.3h0M499.4 859h0M485.6 861.5h0M505.9 863.9h0M485.5 863.5h0M487.9 860.8h0M508.5 868.4h0M492.7 879.9h0M482.4 863h0M502.7 868.5h0M501.3 870.2h0M504.5 862.5h0M502.7 865.9h0M505 869.8h0M492.4 874.7h0M492.1 876h0M497.5 868.6h0M500 874.1h0M508.4 861.3h0M493.1 879.8h0M488.5 860.7h0M490.1 868h0M482 866.2h0M501.5 877.1h0M489.7 865.5h0M505.1 871.2h0M492.8 860.7h0M484.4 868.6h0M495.6 866.2h0M487.2 875h0M491.8 874h0M498.7 877.6h0M494 860.2h0M489 872.4h0M481.2 861h0M507.5 866.4h0M497.5 864h0M501.6 867.5h0M508.8 856.7h0M493.3 876.3h0M489.3 864.2h0M508.1 868.1h0M485.8 867.4h0M507.8 858.5h0M498.1 867.2h0M508.5 859.2h0M491.4 877.1h0M503.8 856.8h0M487.9 860.8h0M489.6 865.9h0M492.8 865h0M503.7 865.3h0M480.2 861.3h0M489.6 869.4h0M506.8 860.9h0M497.2 872.3h0M505.2 861.1h0M497.8 862.9h0M499.8 864.1h0M503.5 866.2h0M509 858.3h0M490.7 863h0M495.2 865.2h0M485.4 869.2h0M491.4 865.8h0M501.9 875.3h0M483.8 874.1h0M502 865.6h0M498.4 855h0M505 858.5h0M498.2 861.5h0M486.9 858.5h0M484.2 867.7h0M504.8 863.3h0M509.3 858.5h0M490.3 860.7h0M505.3 856.2h0M505.6 860.3h0M492.9 860.6h0M503.5 873.8h0M501.4 873.9h0M486.4 869.4h0M496.2 875h0M502.8 871.8h0M485.4 858.6h0M507 869.8h0M500.7 861.2h0M498.6 862.1h0M488.9 875.4h0M490.4 859.5h0M483.9 871.4h0M492.2 864h0M486.9 874.7h0M498.3 867.6h0M494.6 857h0M489 874.8h0M479.4 861.4h0M485.3 862.1h0M503.8 870.1h0M492.7 874.1h0M501.9 863.6h0M491.4 857.2h0M492.1 861.2h0M507.1 871.2h0M501.6 873.5h0M495.2 863.5h0M493.1 869.3h0M487.4 870.8h0M502.9 869.8h0M498.5 876.4h0M492.7 868.3h0M493.4 879.6h0M505.1 866.7h0M498.4 872.4h0M489.4 858.2h0M499.3 870.7h0M501 868.2h0M484.2 862.2h0M495.2 862.9h0M488.4 860.8h0M506.7 859.6h0M482.6 862.4h0M503.3 867.5h0M498.3 862.1h0M483.1 871.8h0M487.5 869.9h0M500.9 869.6h0M501.1 864.5h0M499.5 868.4h0M481.4 867.4h0M500.3 877.8h0M498 871.3h0M502.2 863.6h0M509.2 863.9h0M504.6 869.5h0M503.6 871.3h0M489.6 863.6h0M497.1 858.6h0M499.6 874.5h0M492.9 867.3h0M479.5 861h0M495.4 857h0M500 876.4h0M487 865.6h0M508.6 853.6h0M494.6 875.7h0M491.2 865.1h0M494.9 863.4h0M486.2 863.4h0M504.4 865.1h0M500.7 869.3h0M487.4 862.4h0M480.8 861.6h0M486.2 873.2h0M506.4 863.3h0M497.9 865.6h0M490.9 860.4h0M495.6 869.6h0M486.3 874.3h0M485.7 868.5h0M490.6 862.7h0M497.1 877.7h0M507.2 855.2h0M497 866.6h0M492.8 861.1h0M507.3 870.7h0M507.2 868.3h0M504.2 861.1h0M492.8 881.1h0M483 870.9h0M508.7 852.1h0M503.1 874.7h0M508.3 866.1h0M497.3 874.4h0M507.2 868.6h0M511.3 844.9h0M512.9 851.2h0M514.8 842.2h0M513.5 843.3h0M518.1 851.1h0M516.9 839.9h0M516.7 856.2h0M520.7 854.2h0M510.8 849.3h0M518.4 852h0M510.9 854h0M520.7 850.5h0M514.9 851.2h0M512.8 841.4h0M510.5 845.2h0M515.1 853.6h0M516.5 852h0M519.4 847.5h0M520.6 840h0M514.5 846.1h0M519.9 851.3h0M510.7 850.8h0M511.5 849.4h0M519.9 851.9h0M519.7 851.6h0M515.6 842.3h0M519.8 840.6h0M517.8 849.2h0M510.5 847.1h0M519.5 841.4h0M516.5 852.8h0M513.7 853.5h0M518 851.1h0M511.6 853.6h0M509.5 843h0M519 851.1h0M519.6 848.6h0M519.3 841.2h0M519.4 850.3h0M514.4 853.2h0M516.6 854.9h0M513 843.2h0M515.3 843.9h0M511.4 854.7h0M519.5 854.9h0M516 855.5h0M515 853.5h0M517.3 856h0M513.7 842.8h0M513.8 845.3h0M520.5 848.2h0M509.9 847.1h0M519 845.4h0M516.9 848.9h0M514.3 848.7h0M518.8 840.1h0M516.9 856.8h0M511.3 843.3h0M510.7 842.8h0M519.5 854.9h0M511.3 849.1h0M517.2 852.8h0M514.6 842.7h0M516 846.7h0M514.3 854.8h0M516.9 856.3h0M510.5 844.9h0M514.9 847.5h0M518.2 840.9h0M510.9 846.9h0M533.6 831.3h0M536.9 842.5h0M535.2 832.3h0M537.5 833.9h0M522.9 832.8h0M523.6 830.5h0M527.5 833.9h0M521.6 834.9h0M519.1 823.7h0M523.5 823.5h0M530.5 843.7h0M523.7 842h0M520.1 828.5h0M519.4 835.3h0M532.7 832.1h0M527.6 825.9h0M521.4 835.6h0M521.5 825.9h0M534.5 827.1h0M518.8 822.2h0M521.8 827.1h0M519.9 829.3h0M517.8 839.1h0M537.6 831.6h0M522.3 823.3h0M531.8 825.7h0M538.2 822.9h0M520.2 837.7h0M539.8 832.3h0M518 826.4h0M517.5 827.6h0M527.6 836.4h0M541.4 840.8h0M526.3 836.2h0M531.6 840.2h0M527.9 834h0M527.1 826.5h0M525.2 842.7h0M538.3 831.6h0M519.8 841.5h0M524.9 837h0M522.8 824.6h0M531.8 825.7h0M535.6 829.1h0M539.3 834.3h0M517.9 823.5h0M528.3 833.6h0M539.2 823.7h0M542 827.8h0M523.5 828.2h0M524 841.8h0M532 824.3h0M522.7 833.7h0M534.5 841.3h0M529.5 827.3h0M536.8 824.8h0M539.6 835.3h0M518.6 834.3h0M525.1 839.7h0M518.4 830.2h0M521.9 834.9h0M528.3 825h0M530.4 835.9h0M518.7 831.3h0M538.2 835.6h0M532 825.5h0M519.1 836.6h0M535.9 825h0M536.5 840.3h0M527.2 829.4h0M535.9 826.8h0M534.5 839.6h0M540.2 825.5h0M520 827.8h0M518.5 840.2h0M529.5 823.4h0M521.1 822.6h0M539.5 824.6h0M528.8 823h0M537 825.5h0M539.2 822.4h0M530.2 835.6h0M522.3 827.5h0M526.8 831.4h0M533 840.8h0M540.3 835h0M534.8 830.3h0M520.9 833.6h0M539.9 835.8h0M522.6 822.7h0M533.7 821.2h0M530.9 830.8h0M539.2 836h0M536.2 826.5h0M525.7 834.4h0M537 830.3h0M538 821.8h0M521.2 833.6h0M524.8 824h0M522.6 827.6h0M539.9 825h0M517.8 827.5h0M539.9 835.1h0M529.8 838.3h0M522.7 823.5h0M532.4 841.6h0M536 829.3h0M534.9 823.1h0M525.9 835.9h0M532.9 832.6h0M526 834.3h0M537.2 829.2h0M533 837.6h0M520 842.9h0M518.7 825h0M537.1 832.7h0M535.1 840.1h0M517.7 828.5h0M532.2 826h0M522.1 839.3h0M532.4 825.2h0M530.3 823.4h0M525 845.2h0M534.8 821.9h0M528.2 843.5h0M535.5 839.8h0M531.3 825.4h0M537.9 828.7h0M524.6 839.1h0M526.5 831.7h0M530.1 823.5h0M532.4 839.6h0M535.1 828.3h0M541.8 831h0M526.7 826.4h0M530 838.9h0M521.9 839.3h0M522.2 831.8h0M524.1 828.9h0M540.9 831.7h0M528.2 844h0M536.3 837.4h0M535.4 834.6h0M530.4 823.6h0M519.8 841.2h0M527.8 822.9h0M525 828.8h0M519.3 845.9h0M521.1 824.7h0M520.9 846.1h0M518.7 837.7h0M535.1 831.6h0M534.2 840.8h0M526.4 838.3h0M534.3 839h0M538.4 842.1h0M523.8 835.6h0M521.4 839.9h0M532.9 824.4h0M529.1 843.7h0M539.5 826.1h0M528.6 841.8h0M538.1 840.7h0M537.3 840.4h0M523.4 826.8h0M520.2 829.2h0M519.9 836.7h0M519 845.8h0M518.9 844.4h0M540 824.8h0M525.4 835.9h0M518.3 824.1h0M522.7 825.5h0M521.5 836.5h0M518.2 822.6h0M531.9 831.1h0M526.2 840.3h0M521.4 836.5h0M531.8 826.6h0M538.2 821.8h0M522.2 833h0M536.2 830.4h0M526.5 843h0M521.2 825.6h0M531.3 843.4h0M528.1 841.5h0M534 831.6h0M526 837.3h0M524.2 825.8h0M533.5 829.4h0M526.4 833.5h0M518.3 837.6h0M521.9 841.7h0M518.8 838.2h0M532.8 831.9h0M523.2 825.3h0M522.4 834h0M523 821.6h0M535.6 840.9h0M517.9 826h0M558.1 836.2h0M554.1 834.8h0M557.8 833.8h0M560 827.3h0M546.7 835.3h0M560.6 836h0M550.5 835.1h0M547.1 826.8h0M558.7 830.6h0M551.1 827.9h0M545.3 833.1h0M547.5 830h0M543.4 831.9h0M551.2 828.5h0M564.3 825.7h0M547.6 834.3h0M558.5 831.7h0M544 830h0M558.1 833.6h0M549.4 832.7h0M548 829.9h0M542.5 837.5h0M545.6 832.6h0M554.5 825.2h0M541.4 837.7h0M561.5 829.9h0M545.7 824.3h0M552.3 834.3h0M565.9 829.3h0M560.4 827.9h0M550.6 833.9h0M557.8 831.9h0M555.5 826.2h0M546 837.7h0M552.5 836.5h0M558.6 834.5h0M554.1 832.5h0M553.9 827.2h0M553 829.6h0M547.7 830.8h0M545.2 829.4h0M549.9 825.4h0M565.9 826.4h0M543 837.2h0M558.8 831.4h0M541.8 836.7h0M561.9 830.3h0M555.3 832.8h0M550.9 829.6h0M550.1 824.4h0M550.9 834.3h0M558.8 825.6h0M562.8 833.6h0M563.5 830.9h0M547.6 827.2h0M560.9 833.5h0M564.2 829.9h0M560.2 828.3h0M552.4 827.3h0M553.6 831.3h0M552.2 834.9h0M553.7 833.8h0M562.7 827h0M556.3 820.3h0M555.7 816.1h0M569.7 834h0M558.5 825.1h0M558.3 817.8h0M563.4 819.5h0M563.1 835.9h0M566.1 824.6h0M560.5 816.2h0M571.2 817.1h0M555.5 823.1h0M574.7 830.8h0M570.6 823.8h0M577.7 833.9h0M563.6 831h0M557.7 821.9h0M561.2 832.2h0M569.3 836.6h0M569.9 825.3h0M551.7 835.4h0M557.1 816.4h0M557.5 823.7h0M576.7 817h0M578 822h0M574.7 831h0M579 837h0M597.3 820.3h0M610 829.3h0M615.7 829.3h0M616.3 834.7h0M618.3 838.7h0M625.7 826h0M639 812.7h0M671.3 832.7h0M676.7 817h0M690 839.3h0M746.7 828.7h0M552.3 814.3h0M559 815.3h0" fill="none" stroke="#4682B4" stroke-width="4.6" stroke-linecap="round"/>
<path d="M466.3 854.3H759.7" stroke="#111" stroke-width="1.8" stroke-dasharray="8.6 2.15 1.35 2.15" fill="none"/>
<path d="M509.7 641.3V892" stroke="#0000ff" stroke-width="2.0" stroke-dasharray="7.25 3.3" fill="none"/>
<path d="M479 863.7C485.1 862.7 491.4 862.1 497.3 860.7C499.9 860.1 502.4 859 504.7 857.7C506.4 856.6 507.8 855 509.3 853.7C518.5 845.9 541.5 826.4 550.7 818.7C559.8 810.9 738.2 660.4 747.3 652.7" stroke="#F66E6C" stroke-width="2.8" fill="none" stroke-linecap="round" stroke-linejoin="round"/>
<path d="M466.3 641.3V892H759.7" stroke="#222" stroke-width="1.3" fill="none"/>
<text x="510.7" y="846.8" font-size="12.5" fill="#000">1.08</text>
<text x="453" y="664.8" font-size="15.4" text-anchor="end" fill="#222">0.8</text>
<text x="453" y="713.8" font-size="15.4" text-anchor="end" fill="#222">0.6</text>
<text x="453" y="762.5" font-size="15.4" text-anchor="end" fill="#222">0.4</text>
<text x="453" y="811.2" font-size="15.4" text-anchor="end" fill="#222">0.2</text>
<text x="453" y="859.5" font-size="15.4" text-anchor="end" fill="#222">0.0</text>
<text x="502.3" y="917.2" font-size="15.4" text-anchor="middle" fill="#222">1</text>
<text x="594.7" y="917.2" font-size="15.4" text-anchor="middle" fill="#222">2</text>
<text x="687.3" y="917.2" font-size="15.4" text-anchor="middle" fill="#222">3</text>
<text x="612.3" y="939.7" font-size="18.8" text-anchor="middle" fill="#222">INR</text>
<text transform="translate(425.2 767) rotate(-90)" font-size="18.8" text-anchor="middle" fill="#222">SHAP value</text>
</g>
<g>
<path d="M918 743.7 L929.7 732 L971.3 731 L981.3 747 L993.3 769.3 L1009 778 L1020 783.7 L1039.3 778.7 L1050.7 788.7 L1050.7 798.7 L1034.7 806 L1001.3 807 L985.3 800.3 L978 780.3 L954.7 773.7 L921.3 770.3Z" fill="#4682B4" stroke="#4682B4" stroke-width="3" stroke-linejoin="round"/>
<path d="M1001.4 799.1h0M933.5 729.8h0M963.5 737.1h0M975.6 767.7h0M917.4 765.2h0M906.2 769.6h0M1053.8 792.9h0M1053.8 788.2h0M924.5 761.2h0M1031.3 805.4h0M898.5 770.9h0M990.7 773.3h0M930.5 728h0M1002.8 773.3h0M932.1 769.8h0M926.7 734.9h0M900.4 738.4h0M993.9 787.8h0M1030.1 800.6h0M1032.6 809.8h0M1027 802.7h0M971.7 761.9h0M980.7 779.4h0M897 762.8h0M897.6 743.9h0M1020.9 806.3h0M944.8 770.8h0M936.7 766.5h0M896.3 762.3h0M994.8 778.8h0M963.3 737.6h0M932.2 765.2h0M987.6 772.2h0M905.1 771.3h0M907.7 763.7h0M959.1 731.2h0M942.4 768.3h0M922.1 768.7h0M936.6 729.9h0M930.3 733.6h0M964.9 774.7h0M973.6 760.4h0M1003.4 776.5h0M973.1 750.4h0M895.9 742.6h0M944.6 769.5h0M915.9 741.8h0M936.4 746.4h0M1024.8 788.6h0M1020.7 809.6h0M929.5 773.4h0M918.5 748.7h0M924.6 745h0M997.2 808.2h0M924.9 733.7h0M931.7 776.7h0M993.2 774.2h0M922.9 749.8h0M935.1 776.3h0M978.3 776.3h0M966.8 751.2h0M1005.5 811.5h0M959.8 772h0M1031.4 797.6h0M912 763.1h0M936.8 726.7h0M974.4 777.2h0M966.3 774h0M957.6 740h0M1034.8 809.1h0M959.9 724.7h0M941.8 727.5h0M978.7 768.6h0M1026.2 799.6h0M972.8 754.2h0M895.9 765.6h0M934.3 769.3h0M1022.6 808.2h0M977.2 750.6h0M920.7 752.6h0M932.1 742.4h0M1047.7 794.5h0M993.8 789.4h0M976.5 744.3h0M930 774.4h0M935.7 751.5h0M949.9 746.7h0M955.4 732.5h0M924.1 733.1h0M939.3 748h0M1006 777.5h0M1044.8 800.8h0M990.6 796.9h0M1023.8 797.1h0M930.3 724.7h0M931.6 776.7h0M913.6 760.7h0M922.3 761.8h0M998.8 808h0M922.7 737.9h0M947.1 759.9h0M982.8 751.1h0M936 736.6h0M985.8 759.3h0M1039.3 784.7h0M967.9 770.6h0M971.2 745.4h0M1019.1 799.5h0M934.2 775.1h0M973.3 753.1h0M952.8 761.5h0M1045.4 802.4h0M961.7 779.2h0M1023.7 797.5h0M964.8 760.2h0M1034.1 807.2h0M998.9 788.6h0M900.3 759.2h0M909.9 739.5h0M900.6 740.6h0M969.7 778.1h0M962.7 734.1h0M1042.4 788.4h0M1006 779.4h0M997 808.6h0M915.3 746.3h0M930.7 753.9h0M901.4 743.5h0M923.3 758.9h0M935.5 775.3h0M953 741.1h0M954.1 724.9h0M959.6 733.8h0M911.9 741.8h0M964 773.1h0M988.9 791.7h0M1041.5 785.1h0M1038.1 805.9h0M978.3 778.4h0M972.3 757.3h0M1041.1 804.6h0M962.5 727.5h0M918.8 771h0M944.2 752.8h0M991.8 792.4h0M947.3 735.9h0M911.3 758.5h0M897 766.2h0M923.9 738.4h0M958.3 741.2h0M959.4 764.7h0M997.4 791.8h0M992.1 775.4h0M993.2 779.9h0M911.7 742h0M902.1 766.9h0M945.9 723h0M982.5 783.2h0M913.2 770.5h0M918.6 755.3h0M998.9 792.8h0M961.9 776.7h0M937.1 746h0M1002.7 775.2h0M935.3 745.3h0M942.1 751.8h0M985.3 789.3h0M969.2 766.4h0M970.6 778.8h0M996.8 789.7h0M953.9 726.1h0M902.8 744.8h0M986.9 805.9h0M998.2 787.8h0M937.7 745h0M1048 787.5h0M1031.1 808.5h0M902.2 766.4h0M898 747h0M1010.3 811.1h0M973.6 748.3h0M933.4 765h0M984.4 765.1h0M928.9 766.4h0M954.7 755.7h0M1031.2 787.5h0M910.4 727.9h0M928.4 773.5h0M913.7 736.7h0M973.5 744.5h0M981 766.6h0M995.9 798.6h0M963.8 743.9h0M1003.9 790h0M930.6 728.8h0M904.5 772.4h0M958.3 760.1h0M899.8 751.6h0M998.8 790.4h0M961.8 727.8h0M949.4 767.1h0M987.1 807.9h0M943.2 758.6h0M976.9 762.9h0M924.6 775.9h0M920.5 771.2h0M996.3 782.4h0M903.5 748.1h0M983.3 787.5h0M944 729.4h0M1011.2 777.9h0M951.2 768.5h0M967.9 744.8h0M971.7 776.3h0M1041.9 779.2h0M949.8 727.5h0M931.6 724.5h0M953.1 775.2h0M933.5 754.3h0M980.6 783.3h0M937.7 735.7h0M990.7 785.5h0M917.3 746.5h0M965.2 732.7h0M1017.2 803.7h0M900.3 769.9h0M967.8 726h0M894.8 769.3h0M928 775.9h0M1038.7 781.3h0M932.7 726.3h0M1035.6 781.4h0M928.6 734h0M943.5 772.4h0M896 759.4h0M939.4 772.3h0M993.8 793h0M938 760.9h0M950.9 764.2h0M912.2 739.3h0M1047 803.3h0M896.6 744.3h0M978.8 760.9h0M992.1 773.2h0M948.4 766.5h0M916.7 745.8h0M997.2 793.6h0M976.3 774.4h0M991.4 809.1h0M947.8 728.7h0M1001 790.8h0M957.5 725.7h0M1010.3 807.5h0M965.9 727.4h0M991.8 782.6h0M957.2 742.4h0M968.6 773h0M940.1 754.8h0M963.5 755.8h0M1045.3 781.2h0M1030.1 805.3h0M945.8 753.6h0M970 729.5h0M989 774.4h0M988.4 776.6h0M940.6 737.6h0M959 738.4h0M943.1 726.4h0M900.4 752.7h0M1040.1 780h0M1035.8 797.2h0M1033.9 809.3h0M962.1 744.3h0M970.6 736.3h0M958.4 777.8h0M904.2 757.4h0M996.3 782.7h0M915.9 766.3h0M927.6 738.7h0M952.6 740.2h0M974.7 759h0M919.2 768.9h0M957.4 753h0M958.8 729.6h0M912.4 739.5h0M1034 786.5h0M942.6 773.4h0M1025.9 805h0M930.3 759.6h0M968.4 761.1h0M981.8 756.8h0M1037.6 793.2h0M975.4 747.4h0M1034 793.3h0M994.2 804.6h0M940 753.1h0M988.8 769.5h0M1017 803.1h0M974.4 761.3h0M1024.1 800.8h0M942.3 778.1h0M1051.5 796.8h0M933.6 731.5h0M1018.8 783h0M954.1 772.1h0M930.4 733.5h0M909 763.4h0M999.4 797.4h0M950.9 748.8h0M917.5 770.5h0M967.9 732h0M962.5 736.2h0M1048.9 803.9h0M961.6 739.9h0M946 752.8h0M921.2 768.5h0M1020.7 786h0M1007.1 793.5h0M976.8 782h0M1012.6 803.3h0M947.7 735.4h0M1024.6 791.6h0M1025.9 793.3h0M945.9 739.8h0M941.7 776.7h0M1031.8 788.5h0M1038 782.6h0M912.6 741.9h0M1029.5 810h0M908.8 773.1h0M1031.1 794.9h0M963 752.9h0M974.7 742.3h0M977.6 780.2h0M961 733.1h0M986.6 775.8h0M963.9 738.3h0M936.8 742.4h0M910.5 754.9h0M968.2 758.6h0M962.1 747.2h0M1033.5 788.6h0M932.1 775.6h0M1043.1 792.5h0M1030.1 788.6h0M908.5 759h0M933.7 774.7h0M962.1 759.4h0M987.7 783.5h0M944.9 775.3h0M1002.3 782.3h0M1010.9 790.9h0M924.9 732.5h0M940.5 761.4h0M1003.1 785h0M1003.3 801.2h0M1040.5 796.4h0M977.2 766.5h0M981.4 783.2h0M1050.6 802.2h0M1004.7 796.1h0M918.1 741.4h0M973.6 776.3h0M980.8 772h0M1042.6 796.9h0M1018.7 797h0M979.6 771.5h0M918.5 736.9h0M951.1 726.9h0M933.7 732.2h0M981.8 754.5h0M998.6 789.1h0M965 776.6h0M903.3 753.6h0M1001.2 801.6h0M987.1 770.6h0M931.2 727.5h0M949.1 776h0M1042.8 789h0M980.9 782h0M931.4 729h0M910.7 732.4h0M924.7 740h0M1009.4 803.7h0M1029.9 792.5h0M966.5 772.7h0M931 763.6h0M895.4 747.2h0M968.7 731.1h0M970.2 744.5h0M948 725.3h0M960 777h0M949.4 776.6h0M995.3 798.8h0M915.2 746.3h0M945 743h0M897.4 745.7h0M974 737.5h0M954.4 740.8h0M1038 806.4h0M969.4 766.3h0M965 733.6h0M937.4 757h0M966.7 727.4h0M919.8 750.5h0M1002.7 790.7h0M991.4 802.7h0M959.5 745.4h0M958.9 779h0M965.5 757.7h0M977.5 788.3h0M957.4 739.8h0M920 739.4h0M973.2 772.2h0M986 800.7h0M941.7 765.1h0M937.9 756.6h0M1016.4 805h0M919 753.2h0M1026.4 801.3h0M943.5 728.7h0M943.6 725h0M943 776.5h0M974.5 771.2h0M981.6 799h0M928.3 743.3h0M917.9 757h0M913.4 767.7h0M932.7 751.2h0M955.3 735.2h0M949.6 737.5h0M1039.6 787.5h0M961.4 761h0M920.3 728.3h0M1025.1 790.2h0M956.6 738.8h0M987.6 801.7h0M1043.6 788h0M969.7 765.8h0M926.9 767.7h0M926.5 750.4h0M952.7 770.9h0M974.4 771.8h0M980.8 799.6h0M1032.5 796h0M1010.6 803.6h0M903.7 744.2h0M983.9 784.6h0M991.7 796.1h0M943.3 759.2h0M899.5 752h0M1047.7 801.3h0M953 751.9h0M915.1 731.3h0M964.8 746.6h0M972.5 733.7h0M1029.5 786.1h0M972.5 732h0M897 760.2h0M1019.8 783.4h0M941.4 741.2h0M994.5 785.7h0M1041.3 789.2h0M1026.8 781.3h0M913.7 764h0M916.8 774.4h0M1033.4 783.3h0M956.4 760.4h0M971.2 764.8h0M954.1 777h0M936.6 765.6h0M948.5 725.5h0M961.3 734.3h0M989.5 781.1h0M934.6 777.9h0M957 733.6h0M986.5 788.6h0M958.6 736.4h0M927.1 730h0M1011.2 790.7h0M932.4 734.5h0M954 739.7h0M958.4 750.6h0M971.7 731.2h0M993.7 781.9h0M980.5 777.6h0M932 730.2h0M966 753.6h0M1032.3 790.1h0M937.2 740.9h0M961.7 768.1h0M1041.1 791.1h0M950.7 777.8h0M944.8 760.2h0M934.1 776.4h0M930.7 760.4h0M963.1 769.1h0M969.3 731h0M1019.7 784.8h0M936.1 732.8h0M942.6 751h0M969.4 731.2h0M946.3 725.9h0M1044.8 783.7h0M1042.3 798.6h0M975.2 733h0M895.5 749.6h0M920.9 748h0M934.2 748.3h0M953.8 765.8h0M923.5 777.6h0M971.8 774.1h0M989.1 762.9h0M1014.8 791.9h0M1001.6 780.6h0M923.9 732.1h0M1048.9 798.9h0M957.9 763.6h0M987.2 800.5h0M907.6 736.9h0M906.4 751.4h0M920 756.5h0M909 772h0M1037.4 777.4h0M1018 807.9h0M1041.2 779.7h0M922.4 731.3h0M944.4 751.7h0M1013.2 780.2h0M958 744.7h0M924.3 724.8h0M947.1 758.8h0M933 731.1h0M1043.1 803.8h0M1049.2 791.2h0M1015.7 792.5h0M917.3 728.5h0M902.3 752.5h0M980.2 783.7h0M1008.3 788.3h0M978.9 760.9h0M1039.2 777.3h0M902.2 764.9h0M907.6 740.8h0M914.5 743.5h0M1027.5 796.1h0M1000.9 797.4h0M978.6 748.9h0M993.1 805.6h0M953 769.6h0M938.4 733.3h0M1044.6 805.7h0M948.2 775.7h0M937.1 770.2h0M936.6 759.6h0M988.2 797.8h0M1010.2 799.8h0M957.2 763.7h0M989.9 777h0M970 743.3h0M909.3 734.9h0M965.4 763.5h0M913.2 767.4h0M965.9 773.1h0M923 743.2h0M980.4 788.5h0M903.9 750.9h0M920.1 764.6h0M933.9 758.7h0M932.1 725.2h0M923.7 731.5h0M995.4 795h0M970.6 769.2h0M962 737.5h0M958.2 741.5h0M951.5 751.9h0M1030.3 810.5h0M936.8 769.8h0M909.4 754.8h0M963.6 769.3h0M910.7 749.8h0M1046.1 782.4h0M1005.4 782.3h0M947.7 735.2h0M1039.4 804.5h0M958 768.9h0M991.4 780.7h0M969.5 758.2h0M918 750.6h0M897.4 746.3h0M1006.6 801h0M993 791.4h0M924.4 749.1h0M962.1 759.9h0M929.9 770.2h0M957.1 767.9h0M911.8 729.8h0M894.5 757.7h0M991.4 808.5h0M973.5 780h0M953.2 755.8h0M1016 806.4h0M1012 785.4h0M1002.6 780.1h0M923 752.9h0M942.3 764.9h0M920.9 729.2h0M968.2 731h0M972.1 740.4h0M991.8 805.6h0M956.4 757.2h0M934.2 773.2h0M917.6 735.8h0M939.6 772.1h0M919.6 736.6h0M1017.6 793.7h0M979.1 784.5h0M980.5 773.2h0M984.5 784.2h0M1013.8 809.7h0M976.1 738h0M941.7 761.4h0M924.5 770h0M897.1 744.3h0M1005 776.8h0M979.5 774.1h0M987.5 805.5h0M960.7 732.3h0M1016.2 792.3h0M1003.3 788h0M975.2 745.1h0M954.3 775.8h0M998.8 788.6h0M941.1 743.2h0M941.1 772h0M920.6 765.3h0M972 745.2h0M952.7 731.5h0M910.9 755.1h0M927.6 752h0M1003.3 777.7h0M1027.9 797.7h0M1042.9 781.8h0M958.1 753.3h0M898.5 767.2h0M945.3 757.3h0M902.9 743.4h0M996.5 792.7h0M981.3 780.7h0M982.9 758h0M928.2 767.5h0M937.9 724.3h0M997.8 795.7h0M961.1 767.7h0M925.5 750.3h0M951.7 766.8h0M1016.3 790.8h0M943.6 774h0M977.8 787h0M1017.7 805.8h0M915.2 749.7h0M942.3 751.6h0M975 735.6h0M984.6 761h0M951.7 777.7h0M982.9 767.7h0M1008.6 783.1h0M1053.7 787.9h0M1037.6 796.2h0M994.1 785.3h0M972.9 745.7h0M1012.1 794.4h0M962.5 747h0M986.1 795.6h0M1006.6 788.9h0M1005.1 797.8h0M925.5 757.4h0M990.6 804.3h0M937.5 762.1h0M990.7 794.4h0M960.2 756.3h0M1044 796.1h0M999 801.7h0M934.1 768.5h0M934 736.4h0M969.3 735.6h0M954.4 738.9h0M940.9 744.2h0M901.9 749.7h0M914.5 763.3h0M914.5 735.5h0M918 730.5h0M994.4 772.5h0M1016.8 795.8h0M947 728.4h0M954.4 778.1h0M1005.3 781.6h0M913.8 768.3h0M1008.6 801.3h0M964.3 763.7h0M968.6 753.7h0M973.7 771.9h0M974.5 740.9h0M910 762h0M903.3 735.5h0M932 728.3h0M971.4 756.8h0M1015.1 780.6h0M961.2 740.3h0M906.4 748.9h0M959.7 756.3h0M913.2 753.9h0M1017.7 798.2h0M974.4 758.8h0M964.9 736.4h0M1044.2 794.5h0M926.9 730.6h0M979.4 747.1h0M979.7 770.5h0M931.8 735.3h0M1048.2 800.7h0M899.3 769.2h0M960.9 768.6h0M1048.5 788.2h0M1025.4 802.9h0M983.7 803.4h0M1008.7 796.1h0M914 746.1h0M918.7 742.5h0M1040.6 795.8h0M1033.2 780.7h0M1010.8 787.6h0M923.7 755.7h0M1008.8 796.1h0M1038.1 786.2h0M965.8 748.7h0M920.3 758.5h0M987.2 792.7h0M955.4 770.1h0M970.8 778.2h0M931.3 762.2h0M978.9 747.6h0M995.4 770.3h0M936.3 766.7h0M970.8 744.5h0M996.1 797.6h0M1008.7 803.8h0M965.1 768.9h0M1035 796.1h0M1009.5 806.9h0M996.5 778.4h0M997 800.7h0M1050.1 801.7h0M1047.6 784.4h0M913 768h0M913.7 727h0M992.5 781.8h0M1012.7 784.7h0M913.2 770.5h0M929.1 765.9h0M926.3 775.3h0M910.6 767.3h0M905.4 767.3h0M973.6 753.8h0M998.9 804.7h0M935.5 731.7h0M938 738.5h0M911.7 773.1h0M920 767.6h0M974.8 759.4h0M926.8 765.7h0M1041.6 794.4h0M1022.5 803.8h0M945.6 731h0M947.6 766.9h0M906.8 738.8h0M943.4 753.7h0M1049.3 797.1h0M982.1 801.9h0M955.4 736.5h0M927.6 731.9h0M919.3 771.2h0M1046.3 792.6h0M969 763.1h0M924.3 724.6h0M941.4 733.6h0M913.7 728.7h0M987.4 807.7h0M957.2 737.4h0M1021.7 788.3h0M917 764.4h0M935.4 764.4h0M1035.2 793.8h0M975.7 734.8h0M1039.2 802.5h0M953.2 743.8h0M994 800.3h0M989.3 765.5h0M1007.5 808.7h0M905.9 736h0M987.7 816.8h0M1017.2 827.2h0M1016.8 830.6h0M1013.4 804.7h0M1015.5 822.5h0M1047.2 802.9h0M1017.9 817.1h0M1033.3 808.3h0M1016.3 833.5h0M1044.1 825.8h0M1044.7 802.9h0M996.7 829.1h0M1039.4 813.3h0M1034.9 816.9h0M999 828.2h0M1045.5 802.6h0M1004.5 823.5h0M1000.1 818.7h0M997.1 830.5h0M1038.1 819.8h0M1035 819.7h0M997.9 829.4h0M986.8 811.7h0M1050.1 816.1h0M1007 818h0M1007.1 822.3h0M1028.8 815.7h0M1003.3 827.1h0M986.9 821.8h0M1013.2 831.4h0M1028 818.5h0M1013.8 815h0M1025.7 823.2h0M1032.6 805.6h0M1026.5 814.6h0M1030.2 823.4h0M1019.7 813.6h0M1025.3 824.1h0M1035.6 815.3h0M990.3 824.5h0M1012.5 812.7h0M1018 808.3h0M1017.8 833.6h0M1006 815.8h0M1048.3 808.8h0M1011.5 815.6h0M982.9 817.9h0M1028.7 805.2h0M996.3 816.8h0M1038.6 814.4h0M1031.8 829.3h0M1037.3 826.7h0M1021 828.3h0M1044.2 806.3h0M1017.5 832.2h0M1000.3 820.1h0M1006.3 818.5h0M1013.7 805.1h0M990.5 819.5h0M1049.6 816.7h0M1052.1 809.9h0M1020.2 828.2h0M1016.9 813h0M1042.2 806.2h0M1010.2 832.8h0M988.6 807.4h0M1018.4 824.7h0M1028.9 816.6h0M987.5 823.7h0M1044.1 822.4h0M1015.2 816.8h0M1049.9 816.1h0M984.9 813.9h0M1024.4 818.1h0M1047.5 812.7h0M1042 814.3h0M1026.4 807.7h0M998.1 822.8h0M1010.2 814.1h0M1038.6 826.2h0M996.5 827.7h0M1047.9 818.8h0M1005.5 825.8h0M1004.7 830.5h0M1005.4 812.8h0M996.4 808h0M1000.2 816h0M1041.9 814.5h0M995.8 820.1h0M1038.8 819.1h0M1000.7 818.3h0M1022.5 829.4h0M1010.3 833.9h0M982.2 814.2h0M1032 826.8h0M998 818.5h0M1025.9 823.8h0M1006.3 810.9h0M983.5 805.4h0M990.9 830.5h0M1035.2 817.4h0M1040.8 818.1h0M1041.2 813.5h0M1009.5 819.2h0M1016.2 826.3h0M995.2 806.7h0M999.7 824.1h0M1050.5 816.7h0M1031.6 807.5h0M1006.1 810.9h0M1027.9 825.6h0M1018.6 820.5h0M1039.8 803.3h0M991.8 808.4h0M1048.2 815h0M1013.8 819.9h0M1005.8 832.1h0M1008.6 822.5h0M1032.6 816h0M1017.5 828.3h0M1050.1 803.3h0M1046.1 802.5h0M1029.8 804.9h0M1052.2 809.5h0M1034.7 829.7h0M1048.7 816.4h0M1032.2 804.2h0M1011.6 831.7h0M1008.4 815.9h0M1050.9 817h0M998.9 808h0M1041.9 817.1h0M1003.3 804.9h0M998.1 822.2h0M1019.7 805.9h0M995.6 816.3h0M1029.8 814h0M996.3 824.2h0M1019.6 831.4h0M1033.5 826.9h0M1051.9 815.5h0M1044 804.4h0M1001.9 810.9h0M1032 810.8h0M1007.9 828.1h0M994.7 806.7h0M987 826.2h0M996.9 817.8h0M1033.5 807.7h0M1026.6 809.1h0M1031.7 820.5h0M1014 828.8h0M989.3 815.9h0M1002.3 805.7h0M1016.9 815.7h0M1004.2 811.7h0M1004.1 821.4h0M994.4 816.7h0M1047.4 815.2h0M1035.7 811h0M1003.1 809.8h0M1032.6 823.3h0M990.7 813.7h0M1017.8 813.5h0M1042.6 810.7h0M1012.9 827.6h0M1004.5 826.6h0M1018.3 824.6h0M986.6 818.3h0M1047.4 803.8h0M1013.1 818.5h0M992.2 823.2h0M990.3 822.5h0M1026.2 808.8h0M1019.5 824.1h0M990.6 816.1h0M1015.4 810.1h0M1031.4 818.2h0M1020.8 810.6h0M1019.9 803.9h0M1008.6 819.4h0M1043.9 828h0M1014.1 819.6h0M993.8 809.7h0M1012.9 832.6h0M981.8 803.1h0M1011.7 818.6h0M1018.6 816.6h0M1028.8 821.3h0M999.8 823.9h0M1045.6 810.4h0M1016.5 822.4h0M1012.8 822.9h0M1035.1 804h0M1038.3 819.1h0M984.8 824.1h0M1015.9 825.7h0M1044.1 827.4h0M1021.5 826.5h0M1045.5 807.5h0M1003.8 817.7h0M1009 816.2h0M1039.9 811.2h0M1052.4 817.1h0M1041.5 810.4h0M1005.6 815.2h0M1002.2 804.7h0M989.4 812.6h0M1051.7 818.9h0M1028.1 831.9h0M1003.3 804.7h0M1012.6 821.1h0M994 807.3h0M1016.7 833.3h0M997.4 811h0M1021.5 823.4h0M998.5 824.5h0M1034.4 822.2h0M1019.5 808.1h0M994.1 807.7h0M1019.7 816.6h0M1018.6 832h0M978.6 795.4h0M1017.1 810.6h0M994.6 806.1h0M996 824.2h0M1017.4 830.9h0M1034.6 825.2h0M1039.2 816.7h0M1021.1 823h0M1015.3 822.7h0M1012.9 820.3h0M1028 827.3h0M1053.1 816.5h0M996.8 804.9h0M990.7 807.1h0M1008.2 823.2h0M1010.3 817.6h0M985 814.1h0M1013 825.8h0M1028.7 830.1h0M1040.5 825.4h0M1053.3 802.1h0M1025.5 830.5h0M1021 829.5h0M1023.5 827.2h0M992.4 826.5h0M1047 823.9h0M1031.9 813.6h0M1020.1 814.4h0M1010.2 822.8h0M1025.4 808.6h0M992.2 824.6h0M1021.7 814.2h0M1024.4 831.4h0M1044.7 825.1h0M1046.3 808h0M1020.7 808.2h0M1028.2 830.8h0M990.8 809.3h0M988.3 821.4h0M1003.7 819.1h0M1034.7 811.9h0M996.7 806.1h0M1017.8 803.9h0M1037.4 831.9h0M1009.8 819.6h0M1011.7 817.9h0M1032.2 826.9h0M1001.8 805.1h0M996.3 809.3h0M1024.4 823.9h0M1043.1 817.8h0M1012.6 811.6h0M1020 805.6h0M1035.2 819.2h0M1040.5 825.4h0M1034.2 816.4h0M987.7 822.8h0M1003.9 829.2h0M997.5 824h0M983.5 818.3h0M1044.7 802.6h0M1029.2 812.7h0M1027.5 811.6h0M991.7 812.3h0M1049.3 814h0M1010.5 811.2h0M1037.1 825h0M999.2 830.8h0M1023.1 822.6h0M1019.4 816h0M1015.4 811.6h0M1046.4 812.7h0M988.5 825.3h0M986.8 807.7h0M1036 807.4h0M1027.3 828.7h0M1013.3 808.2h0M1019.7 804.7h0M1012.4 822.5h0M1009.4 807h0M1037.6 820.9h0M1017.5 825.7h0M1047 821.6h0M1050.5 817.4h0M1041.4 804.1h0M985.1 827.5h0M1028.8 816.2h0M997.7 827h0M997.2 817.6h0M1019.6 819.6h0M1005.8 815.9h0M1051.2 811.4h0M1003.4 818h0M1043.8 825h0M1027.8 820.5h0M1003.1 827.8h0M1031.5 830h0M990.5 826.7h0M1029.3 811.5h0M1029.1 813.3h0M1040.3 825.6h0M1009.7 805.8h0M1029 831.5h0M1018.6 806h0M1037.3 809.6h0M1037.2 827.6h0M1017 826.4h0M1037.4 826.6h0M994.2 814.3h0M988.1 820.3h0M999.2 823.8h0M1032.2 817.8h0M1049.8 809h0M988.5 818.7h0M998.8 805.4h0M993.1 819.8h0M1003.6 807.6h0M1033.8 824.9h0M1046.4 817.5h0M1034.6 806h0M1006.9 821.3h0M1011.8 809.2h0M1030.1 807.9h0M1042.6 827.2h0M1020.4 805.3h0M1038.2 812.8h0M1022.8 808.3h0M994 828h0M1032.5 831.9h0M995.3 829.3h0M1003.5 816.2h0M1024.4 831.2h0M998.6 823.2h0M987 809.6h0M998 820.8h0M1016 824.1h0M992.9 818.9h0M1009.5 822h0M1009.8 827.3h0M1017.2 807.6h0M983.8 811h0M1039.9 828.6h0M1006.3 816.8h0M1033.1 822h0M982.9 809.5h0M1008.3 821.5h0M1046.3 803.7h0M1001.6 811.2h0M984.6 818.2h0M1029.7 824.6h0M990.4 816.5h0M1007.8 832.9h0M1034.8 817h0M978.9 797h0M1011.6 834h0M1037 827h0M1016.4 810.4h0M1022.7 806.2h0M1047.3 817.2h0M999.3 808.6h0M990.3 808.5h0M1019.1 825.8h0M1036.9 825.5h0M986.4 805.2h0M1017.1 829.7h0M1044.2 802.5h0M992.3 813.2h0M1018.6 821.2h0M1023.2 832.7h0M1044.7 809.9h0M992.7 818.8h0M995.7 826h0M1040.9 818.8h0M1035.4 823.2h0M1010.3 804.4h0M1000.7 826.1h0M1028.9 820.1h0M1047.3 812.2h0M879.5 764.4h0M870.1 743.7h0M892.8 766.1h0M892.5 760.9h0M877.7 761.6h0M892.5 743.2h0M889.2 767.8h0M866.2 747.8h0M889.9 766.4h0M882.5 763.5h0M891.7 740h0M886.8 748.6h0M890.4 744.8h0M886.2 758.6h0M870.2 744.8h0M890.8 764.6h0M893.6 752.5h0M866.2 749.6h0M881.9 745h0M882.1 741.8h0M864.8 761.4h0M869.6 755.9h0M890.4 764.4h0M873.9 756.4h0M878.5 741.1h0M877 742.1h0M879.4 758.1h0M892 750.1h0M867.7 752.3h0M890.8 767.7h0M890.8 770h0M886 740.6h0M885.8 751h0M866.3 763.1h0M877.1 753.2h0M878.1 747h0M874.4 748.8h0M876.4 751.5h0M865.4 763.1h0M877.9 766.3h0M1019.3 861.8h0M1021.2 858.2h0M1014 834.4h0M1021.9 840.2h0M1017.2 859.3h0M1022.7 846.1h0M1023.2 842.9h0M1022.1 843h0M1023.7 847.6h0M1010.6 833.8h0M1023.6 853.6h0M1014.9 839.6h0M1021.1 855.6h0M1018.1 854.3h0M1019.7 834.9h0M1012.9 863h0M1018.5 841.6h0M1011.1 861.2h0M1016.8 865h0M1021.8 863.6h0M1017.7 859.8h0M1017.1 833.8h0M1022.3 862.9h0M1019.1 836.2h0M1020.6 844.4h0M1014.2 854.8h0M1021.2 836.4h0M1012.2 839.1h0M1021.4 843.6h0M1016.4 833.3h0M1010.2 846.2h0M1018.3 864.8h0M1012.7 862.2h0M1017.8 847.5h0M1016.7 854.6h0M1019.6 850.7h0M1017.6 835.9h0M1016.7 855.4h0M1014.4 844.7h0M1014.5 836.1h0M1012.1 852h0M1012.1 850.6h0M1018.5 849.3h0M1010.1 850.4h0M1019 862.2h0M1014.9 863.1h0M1013.8 839.3h0M1016.9 846.8h0M1022.8 838.1h0M1019.1 862.4h0M1019.6 858.2h0M1024.1 834.2h0M1011 853.8h0M1016.1 838.4h0M1023 835.5h0M1056.9 790.2h0M1056.1 804.4h0M1060 792.7h0M1069.6 809.1h0M1055.6 802.2h0M1073.5 808.9h0M1072.9 790.7h0M1061.3 811.2h0M1063.1 794.1h0M1067.9 789.7h0M1060.6 787.3h0M1061.5 803.2h0M1064.4 800.7h0M1062.6 811.4h0M1070.2 807.6h0M1055.2 793.9h0M1069 798.2h0M1064.3 807.6h0M1069.7 787h0M1056.8 789.9h0M1055.7 801.1h0M1066.9 804.3h0M1061.9 798.3h0M1069.9 803.3h0M1063.9 813h0M1070.8 814h0M1060.5 791.6h0M1068.1 811.3h0M1065.3 792.6h0M1057.6 794.2h0M1060.3 812.5h0M1060.1 805.1h0M1067.9 791.6h0M1063.5 799h0M1057.4 799.4h0M1066.1 794.6h0M1072 810.4h0M1055.7 805.2h0M1071.4 813.9h0M1064 810.4h0M938.6 784.4h0M907.3 775.4h0M922.1 777h0M947 779.6h0M921.3 777.2h0M960.2 779.7h0M942.7 785h0M967.5 781.9h0M967.7 780.2h0M926.2 785.9h0M948 785h0M922.4 783.4h0M941.3 783.2h0M942.4 775.4h0M961.7 777.5h0M933.4 776h0M926 783.4h0M952.5 776h0M1035.3 834h0M1037.1 836.2h0M1042.2 832h0M1046.3 838.1h0M1058.1 836.4h0M1059.4 836.4h0M1058.6 834.5h0M1032.7 833.1h0M1037 834.4h0M1043.1 835.4h0M1054.9 829.4h0M1050.6 834h0M1058.8 836.1h0M1047.7 832.8h0M1035.7 833.2h0M1051 837.4h0M1036.5 832.8h0M1053.2 830.7h0M1057 835.9h0M1061.2 830.1h0M970.6 705.9h0M970.9 721.4h0M969.9 680.9h0M970.8 702h0M970 662.4h0M970.3 712.9h0M970.7 673.4h0M969.7 723.5h0M969.9 707.6h0M970.4 695.5h0M970.3 669.5h0M970.7 702.9h0M970.1 714.4h0M969.9 700.7h0M970.3 715.5h0M970.8 704h0M970.6 679.8h0M970.2 722.8h0M970.9 717.7h0M970.8 654.9h0M970.9 683.6h0M970.4 668.1h0M969.8 703.4h0M970.3 692.7h0M969.8 667.6h0M970.8 653.2h0M969.8 711.4h0M970.6 715h0M969.8 670h0M969.8 724.9h0M1090.7 799.3h0M1104 796.3h0M1107 816.3h0M1131.3 805.3h0M1016.3 877.7h0M1054.7 881h0M1038 867.7h0M1051.3 875.3h0M875.3 716h0M897.3 708.7h0M930.3 715.3h0M881.3 792h0M913.7 796.3h0M921.3 802h0M924.7 805.3h0M957.3 805.3h0M944.7 792h0M1003 757h0M880.7 735.3h0M883 736h0M867 743.7h0M865.3 749.3h0M1033 855.3h0M1024.7 856h0M1011.3 870.3h0" fill="none" stroke="#4682B4" stroke-width="4.6" stroke-linecap="round"/>
<path d="M850.7 768.3H1144.7" stroke="#111" stroke-width="1.8" stroke-dasharray="8.6 2.15 1.35 2.15" fill="none"/>
<path d="M972.3 641.3V892" stroke="#0000ff" stroke-width="1.6" stroke-dasharray="7.25 3.3" fill="none"/>
<path d="M864 754.7C876 755.4 889.3 756.5 901.3 757C913.3 757.5 942.7 757.5 954.7 758.7C958.2 759 961.5 761.2 964.7 763C967.4 764.5 969.9 766.7 972.3 768.7C977.6 772.8 982.4 777.7 988 781.3C994.3 785.4 1001.2 788.9 1008 792C1017.7 796.5 1028.1 800.3 1038 804.3C1047.9 808.3 1058.1 812.5 1068 816.3C1079 820.6 1090.4 824.7 1101.3 829C1111.3 832.9 1121.4 837 1131.3 841" stroke="#F66E6C" stroke-width="2.8" fill="none" stroke-linecap="round" stroke-linejoin="round"/>
<path d="M850.7 641.3V892H1144.7" stroke="#222" stroke-width="1.3" fill="none"/>
<text x="973.3" y="731.8" font-size="12.5" fill="#000">75.75</text>
<text x="838" y="688.8" font-size="15.4" text-anchor="end" fill="#222">0.050</text>
<text x="838" y="731.5" font-size="15.4" text-anchor="end" fill="#222">0.025</text>
<text x="838" y="773.5" font-size="15.4" text-anchor="end" fill="#222">0.000</text>
<text x="838" y="816.5" font-size="15.4" text-anchor="end" fill="#222">-0.025</text>
<text x="838" y="858.8" font-size="15.4" text-anchor="end" fill="#222">-0.050</text>
<text x="875.3" y="917.2" font-size="15.4" text-anchor="middle" fill="#222">40</text>
<text x="929.7" y="917.2" font-size="15.4" text-anchor="middle" fill="#222">60</text>
<text x="984" y="917.2" font-size="15.4" text-anchor="middle" fill="#222">80</text>
<text x="1038.7" y="917.2" font-size="15.4" text-anchor="middle" fill="#222">100</text>
<text x="1093" y="917.2" font-size="15.4" text-anchor="middle" fill="#222">120</text>
<text x="998" y="939.7" font-size="18.8" text-anchor="middle" fill="#222">Diastolic blood pressure</text>
<text transform="translate(786.9 767) rotate(-90)" font-size="18.8" text-anchor="middle" fill="#222">SHAP value</text>
</g>
<g>
<path d="M1359.3 788.7 L1371 790.3 L1386 821.3 L1404.3 828 L1426 838.7 L1424.3 855.3 L1417 870.3 L1410.3 874.7 L1399.3 852 L1391.7 836 L1374.3 828.7 L1364.3 812Z" fill="#4682B4" stroke="#4682B4" stroke-width="3" stroke-linejoin="round"/>
<path d="M1372.2 826.2h0M1399.6 830.7h0M1419.5 836.2h0M1408.4 835.7h0M1360.2 801.1h0M1366.2 799.1h0M1367.6 803.3h0M1361.2 804.4h0M1393.2 827.4h0M1379.1 817.8h0M1381.7 827.8h0M1367.8 804.7h0M1399.7 824.4h0M1373.7 815h0M1380.3 827.7h0M1420.2 857.8h0M1374.8 819.5h0M1417.4 852.6h0M1395.6 824.7h0M1375 797.5h0M1414.6 868.7h0M1415.1 832.7h0M1404.2 841.6h0M1407.4 869.3h0M1382.8 826.3h0M1415 831.8h0M1363.4 810.2h0M1420.8 837h0M1411 863.8h0M1378.7 828.3h0M1381.1 806.1h0M1372.6 791.1h0M1382.2 821.8h0M1369.4 816.5h0M1393.1 834.8h0M1380.1 826.7h0M1363.4 799.9h0M1402.7 852.1h0M1417.7 833.9h0M1422.1 860.4h0M1414.8 847.1h0M1405.4 857h0M1413.7 868.1h0M1408.8 848.2h0M1378.5 815.5h0M1417.3 855h0M1376 804.1h0M1426 851.8h0M1362 809.1h0M1365.4 791.5h0M1380.4 828h0M1383.6 835.1h0M1398.9 823.6h0M1402 838.4h0M1418.6 855.4h0M1371.8 816h0M1415.4 857.5h0M1429.3 835.7h0M1365.4 806.9h0M1398 824.9h0M1407.8 858h0M1402 834.3h0M1419.5 871.2h0M1383.4 829h0M1374.3 804h0M1362.4 809.8h0M1373.4 800.4h0M1388 829.8h0M1419.9 873.2h0M1373.4 792.9h0M1417.2 833.9h0M1408.8 827.1h0M1410.4 869.3h0M1415.9 853.3h0M1414.6 877.7h0M1412.5 875.3h0M1385.5 815.3h0M1361.8 807.3h0M1406.2 835.4h0M1407.2 855.4h0M1415.2 860.1h0M1372 805.5h0M1416.9 872.4h0M1428.1 837.5h0M1425.6 862.5h0M1418.2 831.7h0M1409.7 850.8h0M1397 838.4h0M1373.4 802.8h0M1387.4 819.6h0M1406.3 835.9h0M1415.5 838.5h0M1366.1 807.5h0M1426 845.6h0M1368.2 821.7h0M1398.3 851.8h0M1390.2 828.7h0M1416.4 856.8h0M1415.6 845.6h0M1358.6 787.5h0M1373.9 826.3h0M1405.3 839.1h0M1418.3 834h0M1391.6 837.3h0M1373.1 800.6h0M1375.3 802.5h0M1418.2 837h0M1374.7 831.3h0M1407.5 853.8h0M1416.2 849.1h0M1398 823.2h0M1396.8 825.4h0M1418.7 844.2h0M1390.4 823.9h0M1418.8 853.5h0M1405.5 865.9h0M1405 858.7h0M1421.2 857.9h0M1400.9 843.5h0M1412.8 877.7h0M1418.6 846.7h0M1389.3 826.2h0M1410.7 876.2h0M1369.7 794.2h0M1421 847.1h0M1421.8 837.1h0M1411.4 834h0M1395.2 821.7h0M1432.4 836.3h0M1389.8 827.9h0M1429 844.7h0M1397.6 845h0M1411.2 848.9h0M1408 856.9h0M1427.2 842.9h0M1418.4 872.4h0M1409 848.9h0M1371 817.3h0M1417.7 856.3h0M1431.6 838.3h0M1404.6 857.4h0M1377.3 832.5h0M1380.9 807.7h0M1373.2 809.5h0M1414.6 831.8h0M1365.4 790.3h0M1414.2 874.5h0M1413.7 850.5h0M1406.4 859.3h0M1420.4 853.7h0M1390.2 822.3h0M1392 820.7h0M1401.1 842.2h0M1384.6 824.6h0M1374.9 831.1h0M1374.5 796.5h0M1404.3 856.2h0M1367 799.3h0M1414.7 872.6h0M1413.6 828.6h0M1424.2 833.4h0M1397.8 826.8h0M1394.4 822.8h0M1372.9 818.9h0M1407.7 839.7h0M1389.4 831.5h0M1362.9 797.1h0M1412.9 832.6h0M1412 862.1h0M1413 871h0M1398.1 832.4h0M1400.4 857.5h0M1419.9 857.4h0M1404.5 834.7h0M1386.6 834.7h0M1379.3 810.2h0M1366.8 818h0M1382.7 818.2h0M1425.5 843.2h0M1406.6 846.4h0M1397.3 836.6h0M1409.9 844.4h0M1361.3 790.3h0M1416.5 873.7h0M1413.7 836.5h0M1377.2 807.7h0M1410.8 862h0M1379.1 815.7h0M1380.5 810.9h0M1409.1 836.9h0M1405.2 859h0M1419.6 831.4h0M1409.5 829.9h0M1413 836.7h0M1414.7 863h0M1365.2 814.6h0M1413 848h0M1410.9 832.4h0M1419.1 863.1h0M1401.9 842.3h0M1400.1 835h0M1367.3 796h0M1412.8 838h0M1426 845.3h0M1367.2 801.3h0M1407.7 859.1h0M1416.5 867.3h0M1422.6 856.8h0M1369.1 799.3h0M1372.1 808.6h0M1392.7 832h0M1421 835h0M1417.8 868.5h0M1370.9 820.5h0M1393.8 826h0M1426.7 841.9h0M1409.6 837.9h0M1401.6 860.2h0M1371.8 816.8h0M1422.1 859.2h0M1406.8 871.2h0M1427.9 834.7h0M1407.7 866h0M1429.5 839.8h0M1382.6 813.6h0M1406.3 832.5h0M1393.1 821.4h0M1368.5 797.5h0M1412.2 844.1h0M1379.3 833.6h0M1413.6 846.1h0M1427.8 836.1h0M1358.1 789.1h0M1396.9 832.8h0M1370.4 818.9h0M1373 815.3h0M1412.2 833.5h0M1376 809.2h0M1377.3 820.9h0M1413.6 867.2h0M1419.8 854.6h0M1375 810.8h0M1407.1 836.4h0M1412.8 848.8h0M1426.8 850.7h0M1417.9 864.8h0M1368.2 804.4h0M1405.8 849.2h0M1366.2 786.8h0M1368.4 789.6h0M1419.9 856.9h0M1415.8 871h0M1395.8 843.8h0M1368.5 821.2h0M1401 857h0M1370.5 793.6h0M1406.6 850.7h0M1407.1 868.7h0M1389.2 831.2h0M1386.7 835.8h0M1366.7 793.4h0M1428.4 833.8h0M1389.4 825.3h0M1399.8 833.4h0M1418.1 847.5h0M1365.3 811.8h0M1423.4 847.8h0M1411.5 837.6h0M1405.3 866.9h0M1402.4 847.2h0M1393.6 828h0M1409.3 865.7h0M1414 843.9h0M1421.4 833.2h0M1420.1 832.3h0M1374.8 806.4h0M1376.6 823.4h0M1418 876.1h0M1387.6 823.1h0M1396.1 849.4h0M1405 861.6h0M1387 826.9h0M1414.4 858.7h0M1364.7 814.1h0M1397.4 825.8h0M1372.8 803.4h0M1399.1 826.9h0M1415.5 857.1h0M1415.5 871.6h0M1415.7 862.2h0M1414.4 866.7h0M1366 809.4h0M1404.7 854.7h0M1413.9 871.4h0M1418.5 870.9h0M1391.6 833.2h0M1409.9 843.2h0M1363.1 788h0M1424 838.2h0M1411.2 866h0M1427.6 854.6h0M1414.6 863.1h0M1360.2 802.5h0M1368 818.4h0M1371.8 806.8h0M1427.9 851.6h0M1412.3 834.1h0M1417.1 861.7h0M1408.1 872.7h0M1399.7 823.4h0M1417.1 831.7h0M1402.6 855.5h0M1405.3 837.4h0M1377.5 824.2h0M1426.8 854.1h0M1382.7 817.9h0M1405.2 852.5h0M1429.3 841.3h0M1409 836h0M1381 834.4h0M1428.9 845.3h0M1420.1 858.1h0M1406.5 833.9h0M1392.8 833.5h0M1420.7 847.5h0M1386.1 836.5h0M1398.7 839.8h0M1392.9 823.7h0M1366.3 800.6h0M1413.5 838.2h0M1410 857.3h0M1421.4 859.9h0M1404.2 861.3h0M1379.4 823.9h0M1358.7 787.6h0M1426.3 852h0M1364.8 805.1h0M1409.5 876.8h0M1422.1 841.1h0M1410.6 838.7h0M1381.8 828.7h0M1384 826.3h0M1403.1 837.2h0M1396.9 840.4h0M1372 809.1h0M1407.2 832.8h0M1425.8 844.8h0M1368.9 814.4h0M1428.2 845h0M1393.1 825.7h0M1377 819.8h0M1409.9 865.3h0M1418.5 858.6h0M1379.8 830.6h0M1408.2 853.7h0M1399.3 828.4h0M1421.4 867.9h0M1415.7 845.9h0M1379.9 825.7h0M1408.6 862.5h0M1377.5 807.7h0M1380.4 831h0M1417.4 834.6h0M1415.4 864.1h0M1370.7 790.5h0M1414.8 864.8h0M1373.7 812.4h0M1421.1 865h0M1406.6 829.3h0M1372 795.8h0M1412.6 872.5h0M1422.4 861.7h0M1400.8 846.5h0M1400.5 853.3h0M1421.3 843h0M1395.8 836h0M1411.6 878.7h0M1395.9 847.7h0M1426.9 843.4h0M1385.7 824.1h0M1404.3 835.8h0M1371.6 824.1h0M1381 815.8h0M1369.2 812.2h0M1411 832h0M1425 833.2h0M1428 842.2h0M1363.4 794.6h0M1406.8 844.4h0M1366.7 803.2h0M1358.1 793.4h0M1370.3 791.3h0M1400.1 833.4h0M1422 861.8h0M1389.1 824h0M1407.3 828.6h0M1363 805.3h0M1394.5 825.4h0M1417.1 839h0M1407.3 828.2h0M1401.2 843.9h0M1431.5 839.1h0M1412.9 847.6h0M1382.5 811.7h0M1401.9 851.8h0M1378.8 809.9h0M1392.7 839.8h0M1417 852.9h0M1428.7 837.2h0M1429.2 849.8h0M1359.9 801.8h0M1413.5 836.2h0M1372.2 791h0M1422.6 843.8h0M1367.7 811.8h0M1380.1 808.3h0M1418.4 854.4h0M1418.6 836.1h0M1409 870h0M1400.9 848.3h0M1363.2 802.1h0M1374.6 805.2h0M1375.2 816.7h0M1367 809.1h0M1412.2 854.3h0M1403.1 833.9h0M1405.3 843.2h0M1378.1 808.4h0M1387.9 824.9h0M1369.9 809.5h0M1402.4 844.3h0M1362.2 811.2h0M1363.3 809.5h0M1379.7 809.2h0M1396.1 838.1h0M1377.2 803.1h0M1412.7 852.6h0M1370.3 790.5h0M1418.1 849h0M1394.2 836.2h0M1391.4 835.3h0M1393 820.3h0M1408.3 847.2h0M1416.7 848.4h0M1370.6 816.6h0M1413.9 859.6h0M1372.3 810.2h0M1389.3 833.8h0M1408.2 844.5h0M1416.2 869.4h0M1407.8 857.1h0M1419.3 852.9h0M1416.1 862h0M1372 800.9h0M1367.3 821.8h0M1378.1 812.7h0M1382.8 822.5h0M1401.4 838.2h0M1415.1 873.7h0M1409 845.1h0M1403.1 863.4h0M1405.4 830.9h0M1413.5 870.1h0M1372.8 828.5h0M1398.4 842.1h0M1378.6 821.2h0M1401.4 853h0M1424.9 839.2h0M1413.9 870.7h0M1424.1 839.1h0M1385.2 834.1h0M1396.2 840.8h0M1407 856.3h0M1425.3 839.8h0M1380.2 811.2h0M1402.4 855.1h0M1393.7 832.7h0M1399.3 824.5h0M1395.2 839h0M1401 845.2h0M1399.6 831h0M1381 812.8h0M1405.7 854.3h0M1408.7 845.1h0M1383.2 818.1h0M1407.8 861.3h0M1368.7 820.8h0M1402.3 852.6h0M1381.7 825.6h0M1371.5 811.8h0M1414.2 836.7h0M1373.3 815.4h0M1400.7 826.6h0M1392.4 828.8h0M1420.8 853.7h0M1368.8 801.9h0M1377.5 821.6h0M1364.9 801.9h0M1358.1 793.5h0M1410.8 838.8h0M1421.7 864.7h0M1419.5 833.7h0M1405.2 867.3h0M1377.4 807.3h0M1411.3 844h0M1421.9 860.8h0M1403.5 861.9h0M1394.6 846h0M1372.8 827.8h0M1417.9 833h0M1392.7 823.4h0M1405.8 853.3h0M1376.4 803.1h0M1406.7 847.7h0M1372.8 803.3h0M1372.7 795.8h0M1406 857.6h0M1374.3 825.7h0M1413.1 863.9h0M1397.8 825.5h0M1412.3 839.2h0M1384.2 833h0M1427.8 843.7h0M1406.2 839.2h0M1385.5 832.6h0M1415.6 864.8h0M1361.3 806.4h0M1416.8 856h0M1369.2 797h0M1371.6 819h0M1412.2 856.8h0M1403.5 838.3h0M1402.8 849.3h0M1420.8 865h0M1422.8 842.3h0M1419.5 866.6h0M1365.8 814.8h0M1382.2 812.5h0M1415.3 848.1h0M1381.4 826.9h0M1375.6 810.2h0M1395.1 840.6h0M1371.6 815.8h0M1370.7 821.5h0M1363.2 794.5h0M1373.1 819.7h0M1407.3 830.6h0M1400.3 855.3h0M1411.1 834.1h0M1427.3 840.1h0M1425.6 834.3h0M1405.5 865.6h0M1429.9 845h0M1401.7 843.8h0M1373 808.4h0M1366.9 805.2h0M1370.3 800.4h0M1359.7 791.8h0M1398.9 826.2h0M1381 824.1h0M1392.1 829.5h0M1413.6 848.3h0M1423.1 839.2h0M1369.4 794.6h0M1366.2 795.7h0M1401.7 861.8h0M1383.9 816.9h0M1370.4 811.4h0M1401.7 858.3h0M1416.9 859.6h0M1380.9 828h0M1414.2 862.8h0M1363.3 795.1h0M1407.7 847.7h0M1393.7 827.6h0M1385.6 824.1h0M1379.5 817.9h0M1376.3 798.8h0M1376.4 824.7h0M1399.3 847.7h0M1418 868.4h0M1399.7 839.9h0M1376.4 832.5h0M1387 837.5h0M1373.7 826.7h0M1369.8 820.3h0M1392.5 829.7h0M1372.2 807.1h0M1376.2 829.2h0M1417.8 838.5h0M1402.1 852.4h0M1406.2 859h0M1393 828.8h0M1430.3 836.3h0M1426 858.4h0M1405.7 865.6h0M1401.1 825.2h0M1388.2 828.9h0M1385.4 822.4h0M1362.4 786.4h0M1380.4 833.4h0M1369.3 796.1h0M1378.6 822.7h0M1362.9 807.4h0M1392.8 827.1h0M1410.3 827.6h0M1367.4 806.6h0M1361.3 793.2h0M1379.9 808.3h0M1401.8 838.6h0M1413.2 840.1h0M1417.8 841.7h0M1408.8 859.5h0M1400.8 853.8h0M1374.9 816.4h0M1423.1 839.6h0M1384.5 822.2h0M1370.9 791.2h0M1419.2 860.4h0M1420 831.2h0M1370.9 817.6h0M1398.1 835.5h0M1363 798.4h0M1414.4 849.9h0M1402.8 858.2h0M1367.1 819.6h0M1415.9 832.2h0M1398.6 844.3h0M1369 818h0M1405 843h0M1425.9 841.3h0M1416.4 850h0M1399.6 835.3h0M1370.3 822.3h0M1425.3 850.6h0M1403.9 859h0M1388.1 829.6h0M1399.4 851.8h0M1391.5 838.7h0M1388.5 822.2h0M1399.6 822.9h0M1425.2 846.8h0M1399.6 856h0M1362 792.2h0M1374 808.2h0M1378.5 816.4h0M1382.5 824.3h0M1411.4 871.9h0M1398.3 848.5h0M1426.7 848.8h0M1346.4 746.1h0M1358.2 756.9h0M1359 738.2h0M1356.6 758h0M1348.3 742.1h0M1361.9 744.4h0M1344.6 751h0M1353.6 738.5h0M1352.9 745.7h0M1349.9 754h0M1334.4 740.5h0M1343 740.3h0M1353.3 744.7h0M1362 736.7h0M1344.3 749.9h0M1354.5 753.3h0M1357.4 747.8h0M1361.2 747.9h0M1355.8 755.7h0M1333.4 743.9h0M1357.7 745.6h0M1337.2 748.5h0M1336.3 743.7h0M1363.7 753.3h0M1342.8 750.1h0M1359.9 750.8h0M1358.9 755.5h0M1354.4 740.1h0M1354.3 757.1h0M1360.7 735.5h0M1346.1 748.6h0M1358.7 752.8h0M1343.4 742.6h0M1348.3 747.2h0M1343.4 744.2h0M1354.9 747h0M1358.1 750h0M1349.3 753.3h0M1335.2 741.8h0M1353.4 737.6h0M1335.1 742.6h0M1357 754.5h0M1353.8 743.6h0M1335.7 743h0M1351.3 756.2h0M1337.7 739.6h0M1358.8 742h0M1360.2 751.3h0M1350.4 740.2h0M1335.4 739.1h0M1348.9 749.1h0M1362.1 755.4h0M1354.7 745.2h0M1356.2 759.5h0M1338.2 746.6h0M1356.6 751.6h0M1341.3 748.7h0M1359.9 757.9h0M1346.2 750.3h0M1360.1 742h0M1348.1 747.2h0M1362.4 754.1h0M1351.3 753h0M1358.9 750.4h0M1362.1 760.2h0M1355.7 759.5h0M1362.1 757.5h0M1359.1 758h0M1334.5 745.6h0M1332.6 738.9h0M1357.2 750.5h0M1340.3 736.4h0M1349.1 757.5h0M1355.4 743.5h0M1360.5 751.4h0M1362.8 755.9h0M1359 752.2h0M1350.8 746.5h0M1356 738.4h0M1362.7 745.9h0M1363.9 756.1h0M1352.6 748.2h0M1361.3 755.4h0M1354.8 745h0M1355.4 754.1h0M1345.6 743.2h0M1334.9 737.4h0M1357.3 760.9h0M1348.7 739h0M1344.8 746.2h0M1357.5 752.3h0M1360.4 757.6h0M1339.2 742.6h0M1342.8 742.2h0M1358.4 757.1h0M1348.2 739.7h0M1356.5 757.2h0M1350.4 749.7h0M1352.6 741.6h0M1357 758.4h0M1335.7 743.3h0M1354.1 742h0M1357.8 752.9h0M1343.8 751.7h0M1342.1 748.5h0M1361.5 754h0M1341.7 747.3h0M1349.1 747.2h0M1352.5 739.1h0M1344.2 753h0M1338.1 748.1h0M1357.4 750.4h0M1356.1 755.6h0M1338.4 749.8h0M1358.9 747.7h0M1352.9 758.5h0M1361.8 755.9h0M1359.6 746.6h0M1347.9 738.4h0M1350.9 752.7h0M1351.3 757.5h0M1358.9 739h0M1355.6 735.3h0M1360.4 734.4h0M1354.7 735.9h0M1342.7 742.7h0M1345.9 754.7h0M1358.1 737.1h0M1336.3 744.8h0M1352.6 752.5h0M1337.6 746.5h0M1353.4 751.5h0M1357.7 741.3h0M1343.4 747.2h0M1359.1 751.2h0M1338.5 744.8h0M1356.5 750.2h0M1358 737.2h0M1338 737.5h0M1343.4 748.8h0M1335.1 735.7h0M1347.8 744.4h0M1347 754.4h0M1358.7 744.9h0M1341.1 745h0M1351.4 745.9h0M1352.2 737.6h0M1342.6 751.6h0M1349.5 755.4h0M1345.2 740.3h0M1346 790h0M1350.3 774.8h0M1359.9 788.4h0M1354.6 765h0M1363.7 768.8h0M1350 775.4h0M1356 791.7h0M1350.1 789.6h0M1354.3 795.1h0M1348.7 783.8h0M1361.1 783.3h0M1354.5 769.4h0M1359.1 770.7h0M1345 775.9h0M1354 794.3h0M1362.6 775.7h0M1353.3 766.8h0M1361.7 782.7h0M1353.8 784.7h0M1356.1 775h0M1363.7 788.9h0M1344.7 792.3h0M1363 780.4h0M1346.2 785.6h0M1364.2 765.3h0M1357.6 766.2h0M1354.8 765.7h0M1362.1 763.1h0M1345.3 775.6h0M1364.5 782.6h0M1352.3 782.7h0M1361.4 765.2h0M1361.9 787.4h0M1351.9 785.2h0M1347.8 789.2h0M1348.7 787.6h0M1353.9 771h0M1360 790.3h0M1364 786.5h0M1355.1 784.6h0M1357.7 794.6h0M1351.8 768.6h0M1357.6 782.7h0M1359.3 782h0M1352.9 765.2h0M1352.7 770.2h0M1343.9 792.4h0M1342.6 794.7h0M1355.1 770.3h0M1359.8 767.1h0M1363 767.6h0M1354.8 767.9h0M1342.5 775.8h0M1350.2 784.4h0M1347.9 792h0M1364.4 770.6h0M1352.7 779.8h0M1350 790.8h0M1351.1 800.7h0M1350.1 793.2h0M1356.2 774.1h0M1364.6 767.4h0M1344.9 779h0M1354 786.7h0M1359.9 778.5h0M1343 778.7h0M1348.3 770.7h0M1359.7 784.1h0M1360.7 786.9h0M1362.1 788.4h0M1361.8 776.2h0M1341.6 775.4h0M1347.6 792.3h0M1352 780.1h0M1360.6 787.2h0M1364.1 784.4h0M1346.7 794h0M1358.8 767.1h0M1358.8 793.1h0M1346.3 781.4h0M1356.2 781.8h0M1352.2 772.5h0M1344.6 775.3h0M1350.5 801.6h0M1363.7 768.4h0M1350 793.8h0M1348.2 776.7h0M1355.6 791.8h0M1361.8 778h0M1347 779.1h0M1353.8 771.5h0M1348.3 799.8h0M1361 775.5h0M1351.8 796.7h0M1360.7 783.1h0M1349.1 798.4h0M1356.8 790.6h0M1356.8 792.1h0M1349.9 794h0M1353.2 766.9h0M1357.8 765.1h0M1348.4 774h0M1345.2 784.6h0M1347.9 773.8h0M1342.5 778h0M1360.5 766.7h0M1358.2 784.6h0M1349.6 775.5h0M1357.3 786.6h0M1358.4 791.1h0M1358 768.8h0M1364.8 776.4h0M1344.9 773.8h0M1352 770.5h0M1360.4 772.8h0M1433.3 857.1h0M1435.1 855.9h0M1434 861.8h0M1431.3 856h0M1430.8 848.2h0M1438.6 848.8h0M1429.7 849.7h0M1440.5 857.6h0M1441.1 847.7h0M1443.2 842h0M1437.2 854.1h0M1429.2 846.7h0M1438.9 847.6h0M1428.3 844.4h0M1429.3 839.8h0M1441.8 845.2h0M1434 857.1h0M1435 857.8h0M1249.3 720.3h0M1310.3 683h0M1321 687h0M1329.7 677.7h0M1327.7 693h0M1325.3 714.3h0M1325.3 728.7h0M1320.3 753h0M1339.3 804.3h0M1516.7 840.3h0M1420.3 881.3h0M1351 765.3h0M1341 783.7h0M1441 838h0M1445 842.7h0M1437.7 861.3h0" fill="none" stroke="#4682B4" stroke-width="4.6" stroke-linecap="round"/>
<path d="M1236.7 826.7H1529.3" stroke="#111" stroke-width="1.8" stroke-dasharray="8.6 2.15 1.35 2.15" fill="none"/>
<path d="M1385.3 641.3V892" stroke="#0000ff" stroke-width="2.0" stroke-dasharray="7.25 3.3" fill="none"/>
<path d="M1249.3 652.7C1256.5 662.3 1287.2 704 1294.3 713.7C1301.5 723.3 1330.5 762.3 1337.7 772C1344.8 781.7 1356.8 799.3 1364.3 808.7C1368.2 813.5 1373 817.9 1377.7 822C1379.9 824 1382.7 825.5 1385.3 827C1391.5 830.5 1397.7 834.4 1404.3 837C1411.8 839.9 1419.9 841.7 1427.7 843.7C1435.3 845.6 1443.3 846.9 1451 848.7C1462 851.3 1473.4 854.1 1484.3 857C1495 859.8 1506 863 1516.7 866" stroke="#F66E6C" stroke-width="2.8" fill="none" stroke-linecap="round" stroke-linejoin="round"/>
<path d="M1236.7 641.3V892H1529.3" stroke="#222" stroke-width="1.3" fill="none"/>
<text x="1386.3" y="810.5" font-size="12.5" fill="#000">327.21</text>
<text x="1223.3" y="694.5" font-size="15.4" text-anchor="end" fill="#222">0.2</text>
<text x="1223.3" y="763.2" font-size="15.4" text-anchor="end" fill="#222">0.1</text>
<text x="1223.3" y="832.2" font-size="15.4" text-anchor="end" fill="#222">0.0</text>
<text x="1248.7" y="917.2" font-size="15.4" text-anchor="middle" fill="#222">200</text>
<text x="1302" y="917.2" font-size="15.4" text-anchor="middle" fill="#222">250</text>
<text x="1355.3" y="917.2" font-size="15.4" text-anchor="middle" fill="#222">300</text>
<text x="1409.3" y="917.2" font-size="15.4" text-anchor="middle" fill="#222">350</text>
<text x="1463.3" y="917.2" font-size="15.4" text-anchor="middle" fill="#222">400</text>
<text x="1516.7" y="917.2" font-size="15.4" text-anchor="middle" fill="#222">450</text>
<text x="1382.7" y="939.7" font-size="18.8" text-anchor="middle" fill="#222">MCHC</text>
<text transform="translate(1193.9 767) rotate(-90)" font-size="18.8" text-anchor="middle" fill="#222">SHAP value</text>
</g>
</svg>
</body></html>
